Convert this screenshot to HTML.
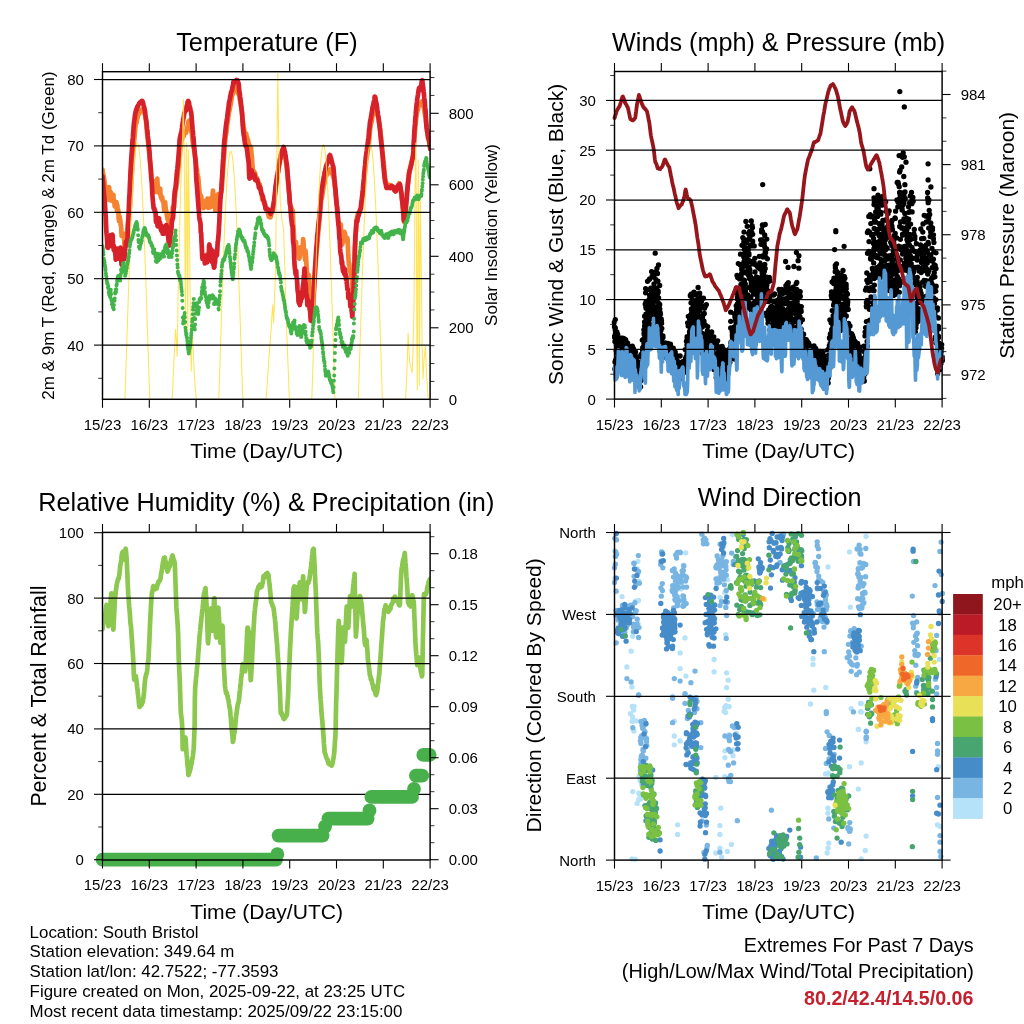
<!DOCTYPE html>
<html><head><meta charset="utf-8"><title>South Bristol - past 7 days</title>
<style>
html,body{margin:0;padding:0;background:#fff;}
body{width:1024px;height:1024px;overflow:hidden;font-family:"Liberation Sans",sans-serif;}
svg{display:block;will-change:transform;}
svg text{font-family:"Liberation Sans",sans-serif;}
</style></head><body>
<svg width="1024" height="1024" viewBox="0 0 1024 1024">
<rect width="1024" height="1024" fill="#fff"/>
<g id="p1">
<clipPath id="c1"><rect x="102.5" y="71.7" width="327.6" height="327.6"/></clipPath>
<g clip-path="url(#c1)">
<path d="M102.5,169.6 102.8,171.9 103.2,173.8 103.5,175.4 103.8,177.4 104.1,178.8 104.5,180.9 104.8,184.7 105.1,186.0 105.5,187.1 105.8,190.4 106.1,193.3 106.5,195.6 106.8,194.6 107.1,196.0 107.4,199.8 107.8,195.9 108.1,196.1 108.4,191.2 108.8,190.0 109.1,187.2 109.4,191.3 109.8,190.9 110.1,196.2 110.4,199.3 110.7,200.5 111.1,192.6 111.4,193.9 111.7,196.8 112.1,199.6 112.4,195.6 112.7,196.5 113.1,195.3 113.4,195.0 113.7,201.8 114.0,200.1 114.4,201.6 114.7,206.3 115.0,204.5 115.4,204.8 115.7,205.9 116.0,206.5 116.4,202.2 116.7,203.9 117.0,210.8 117.3,205.3 117.7,210.3 118.0,211.6 118.3,210.0 118.7,218.8 119.0,221.2 119.3,215.9 119.7,216.7 120.0,219.6 120.3,220.3 120.6,224.5 121.0,225.4 121.3,229.4 121.6,235.8 122.0,233.3 122.3,235.1 122.6,234.5 123.0,236.6 123.3,233.7 123.6,233.9 123.9,235.8 124.3,241.8 124.6,247.3 124.9,243.5 125.3,239.9 125.6,240.7 125.9,234.6 126.3,233.4 126.6,232.8 126.9,232.8 127.2,230.8 127.6,227.4 127.9,224.2 128.2,221.2 128.6,219.3 128.9,216.1 129.2,212.9 129.6,210.3 129.9,207.3 130.2,204.3 130.5,198.9 130.9,192.5 131.2,185.7 131.5,180.0 131.9,173.7 132.2,167.8 132.5,163.1 132.9,157.8 133.2,153.4 133.5,148.3 133.8,144.3 134.2,140.3 134.5,137.5 134.8,133.5 135.2,129.4 135.5,126.6 135.8,124.0 136.2,123.0 136.5,123.1 136.8,121.0 137.1,119.1 137.5,117.8 137.8,116.7 138.1,115.0 138.5,114.2 138.8,114.2 139.1,113.9 139.5,112.7 139.8,112.2 140.1,111.8 140.4,110.7 140.8,110.5 141.1,109.6 141.4,109.9 141.8,110.1 142.1,110.4 142.4,110.3 142.8,110.6 143.1,109.7 143.4,109.6 143.7,111.1 144.1,111.1 144.4,113.1 144.7,113.3 145.1,115.2 145.4,116.0 145.7,118.2 146.1,121.7 146.4,124.2 146.7,128.5 147.0,132.7 147.4,135.8 147.7,138.8 148.0,142.0 148.4,144.7 148.7,148.8 149.0,151.7 149.4,155.0 149.7,157.8 150.0,160.9 150.3,163.6 150.7,168.0 151.0,171.2 151.3,175.3 151.7,178.7 152.0,180.5 152.3,182.5 152.7,184.0 153.0,186.7 153.3,187.1 153.6,186.6 154.0,182.9 154.3,181.3 154.6,188.4 155.0,186.1 155.3,182.8 155.6,185.6 156.0,191.8 156.3,185.8 156.6,185.8 156.9,184.2 157.3,178.7 157.6,185.0 157.9,187.2 158.3,189.6 158.6,188.6 158.9,192.6 159.3,192.2 159.6,193.6 159.9,191.0 160.2,188.5 160.6,196.2 160.9,195.4 161.2,197.9 161.6,198.8 161.9,198.0 162.2,197.2 162.6,201.0 162.9,200.6 163.2,200.9 163.5,202.0 163.9,207.3 164.2,209.6 164.5,210.4 164.9,207.6 165.2,202.4 165.5,207.3 165.9,211.2 166.2,210.3 166.5,212.2 166.8,214.7 167.2,217.0 167.5,219.2 167.8,215.8 168.2,220.7 168.5,214.2 168.8,217.3 169.2,218.3 169.5,220.7 169.8,226.6 170.1,230.1 170.5,223.1 170.8,215.7 171.1,219.7 171.5,216.0 171.8,217.2 172.1,221.4 172.5,214.3 172.8,207.1 173.1,208.9 173.4,209.1 173.8,208.1 174.1,206.5 174.4,202.4 174.8,197.7 175.1,195.8 175.4,192.7 175.8,189.7 176.1,188.7 176.4,186.3 176.7,184.2 177.1,181.1 177.4,177.9 177.7,174.3 178.1,170.8 178.4,168.0 178.7,164.5 179.1,161.6 179.4,158.4 179.7,156.2 180.0,151.6 180.4,148.6 180.7,144.9 181.0,142.7 181.4,140.7 181.7,139.6 182.0,139.2 182.4,138.2 182.7,137.3 183.0,136.1 183.3,136.6 183.7,136.3 184.0,134.6 184.3,134.2 184.7,133.0 185.0,131.3 185.3,131.5 185.7,132.8 186.0,132.9 186.3,132.2 186.6,130.3 187.0,129.5 187.3,127.9 187.6,126.2 188.0,124.3 188.3,122.6 188.6,121.2 189.0,120.8 189.3,121.8 189.6,122.0 189.9,123.3 190.3,123.9 190.6,126.1 190.9,127.7 191.3,130.1 191.6,132.6 191.9,134.3 192.3,138.0 192.6,141.2 192.9,143.2 193.2,145.7 193.6,148.0 193.9,148.4 194.2,150.9 194.6,153.2 194.9,155.6 195.2,157.2 195.6,159.4 195.9,161.7 196.2,164.8 196.5,167.1 196.9,169.3 197.2,172.3 197.5,174.0 197.9,175.8 198.2,177.0 198.5,181.1 198.9,184.9 199.2,188.8 199.5,192.3 199.8,193.7 200.2,194.9 200.5,195.0 200.8,195.3 201.2,196.4 201.5,202.0 201.8,204.1 202.2,203.7 202.5,201.7 202.8,200.2 203.1,206.7 203.5,208.0 203.8,207.6 204.1,206.0 204.5,202.3 204.8,203.2 205.1,207.2 205.5,206.2 205.8,206.0 206.1,206.1 206.4,206.8 206.8,200.9 207.1,201.0 207.4,198.7 207.8,202.9 208.1,200.3 208.4,202.9 208.8,208.0 209.1,205.6 209.4,202.5 209.7,202.8 210.1,202.3 210.4,198.3 210.7,200.1 211.1,206.8 211.4,204.0 211.7,202.0 212.1,197.3 212.4,198.3 212.7,193.6 213.0,190.5 213.4,196.8 213.7,194.1 214.0,198.9 214.4,204.2 214.7,204.1 215.0,205.0 215.4,210.6 215.7,207.5 216.0,203.8 216.3,198.1 216.7,198.0 217.0,202.9 217.3,204.8 217.7,199.6 218.0,195.8 218.3,194.1 218.7,195.2 219.0,194.5 219.3,195.0 219.6,195.3 220.0,194.2 220.3,193.7 220.6,193.7 221.0,193.1 221.3,192.2 221.6,189.8 222.0,185.5 222.3,181.3 222.6,176.2 222.9,172.6 223.3,167.2 223.6,161.7 223.9,157.6 224.3,153.3 224.6,148.3 224.9,142.8 225.3,140.1 225.6,137.2 225.9,135.0 226.2,133.7 226.6,130.9 226.9,127.5 227.2,124.3 227.6,122.2 227.9,120.0 228.2,117.3 228.6,115.4 228.9,112.6 229.2,111.4 229.5,110.0 229.9,108.8 230.2,106.5 230.5,105.0 230.9,103.0 231.2,100.9 231.5,98.9 231.9,96.4 232.2,94.5 232.5,94.4 232.8,93.6 233.2,93.0 233.5,92.8 233.8,90.8 234.2,89.7 234.5,89.2 234.8,89.3 235.2,88.9 235.5,89.3 235.8,89.1 236.1,88.0 236.5,87.3 236.8,88.8 237.1,89.9 237.5,89.5 237.8,91.3 238.1,92.4 238.5,93.9 238.8,94.6 239.1,95.8 239.4,96.6 239.8,99.7 240.1,100.9 240.4,103.2 240.8,104.0 241.1,106.5 241.4,108.1 241.8,110.7 242.1,114.2 242.4,116.2 242.7,119.7 243.1,122.5 243.4,124.4 243.7,126.8 244.1,129.2 244.4,132.0 244.7,132.6 245.1,132.8 245.4,133.5 245.7,133.5 246.0,133.4 246.4,135.0 246.7,137.4 247.0,137.1 247.4,138.8 247.7,139.6 248.0,140.2 248.4,142.7 248.7,143.4 249.0,145.7 249.3,145.2 249.7,146.2 250.0,146.4 250.3,146.1 250.7,147.3 251.0,147.7 251.3,151.6 251.7,155.8 252.0,158.9 252.3,163.3 252.6,167.8 253.0,170.8 253.3,170.8 253.6,171.9 254.0,171.2 254.3,173.3 254.6,173.4 255.0,173.0 255.3,174.6 255.6,177.3 255.9,177.0 256.3,177.2 256.6,177.7 256.9,177.9 257.3,179.7 257.6,180.0 257.9,180.5 258.3,182.4 258.6,182.6 258.9,184.2 259.2,184.1 259.6,184.3 259.9,184.4 260.2,188.5 260.6,189.8 260.9,191.7 261.2,193.2 261.6,194.8 261.9,196.3 262.2,199.4 262.5,199.1 262.9,198.6 263.2,199.1 263.5,199.5 263.9,201.8 264.2,203.8 264.5,204.3 264.9,204.6 265.2,205.8 265.5,208.1 265.8,207.3 266.2,208.9 266.5,209.4 266.8,211.3 267.2,211.6 267.5,212.6 267.8,212.8 268.2,213.2 268.5,215.1 268.8,216.4 269.1,216.8 269.5,217.0 269.8,216.7 270.1,217.5 270.5,217.5 270.8,216.4 271.1,215.3 271.5,213.5 271.8,212.4 272.1,211.3 272.4,211.0 272.8,210.7 273.1,208.4 273.4,205.8 273.8,203.8 274.1,201.4 274.4,199.0 274.8,196.6 275.1,193.4 275.4,191.4 275.7,188.8 276.1,186.4 276.4,184.0 276.7,181.5 277.1,178.8 277.4,176.7 277.7,174.4 278.1,172.6 278.4,170.5 278.7,167.9 279.0,166.6 279.4,164.5 279.7,162.9 280.0,161.5 280.4,159.1 280.7,158.1 281.0,157.0 281.4,156.4 281.7,155.7 282.0,155.1 282.3,154.1 282.7,153.6 283.0,152.8 283.3,152.5 283.7,151.7 284.0,152.8 284.3,153.8 284.7,154.5 285.0,155.0 285.3,156.6 285.6,158.3 286.0,161.5 286.3,164.4 286.6,167.3 287.0,170.4 287.3,173.6 287.6,177.1 288.0,181.2 288.3,185.1 288.6,188.7 288.9,190.7 289.3,194.1 289.6,198.4 289.9,202.8 290.3,206.0 290.6,205.8 290.9,210.4 291.3,212.4 291.6,208.1 291.9,212.6 292.2,211.0 292.6,210.3 292.9,213.2 293.2,224.5 293.6,228.2 293.9,234.5 294.2,245.8 294.6,253.0 294.9,251.0 295.2,249.0 295.5,243.6 295.9,241.7 296.2,244.6 296.5,246.8 296.9,247.5 297.2,251.7 297.5,248.5 297.9,248.8 298.2,252.2 298.5,254.4 298.8,258.1 299.2,258.6 299.5,256.5 299.8,257.5 300.2,253.3 300.5,247.3 300.8,251.0 301.2,251.5 301.5,253.4 301.8,247.2 302.1,247.5 302.5,246.9 302.8,245.5 303.1,239.1 303.5,241.4 303.8,248.8 304.1,252.9 304.5,252.6 304.8,254.9 305.1,259.8 305.4,250.6 305.8,253.6 306.1,258.7 306.4,263.3 306.8,271.0 307.1,275.1 307.4,275.4 307.8,275.8 308.1,278.1 308.4,275.2 308.7,275.0 309.1,278.6 309.4,286.6 309.7,287.9 310.1,290.3 310.4,293.8 310.7,301.2 311.1,304.4 311.4,315.6 311.7,319.8 312.0,319.7 312.4,317.1 312.7,316.3 313.0,314.5 313.4,305.2 313.7,297.8 314.0,291.8 314.4,284.8 314.7,277.7 315.0,273.7 315.3,269.1 315.7,264.5 316.0,259.2 316.3,255.0 316.7,251.0 317.0,247.8 317.3,243.3 317.7,239.0 318.0,235.5 318.3,231.5 318.6,228.4 319.0,224.9 319.3,220.7 319.6,217.2 320.0,213.4 320.3,210.4 320.6,206.4 321.0,202.5 321.3,199.8 321.6,199.1 321.9,197.9 322.3,195.4 322.6,193.2 322.9,191.7 323.3,189.2 323.6,186.3 323.9,184.6 324.3,183.7 324.6,181.9 324.9,179.8 325.2,178.0 325.6,177.7 325.9,176.3 326.2,175.4 326.6,175.0 326.9,174.9 327.2,174.0 327.6,173.7 327.9,172.5 328.2,171.7 328.5,170.6 328.9,171.0 329.2,170.7 329.5,169.9 329.9,169.5 330.2,169.2 330.5,169.8 330.9,169.5 331.2,169.8 331.5,170.5 331.8,173.0 332.2,174.1 332.5,174.5 332.8,175.4 333.2,177.1 333.5,177.2 333.8,177.9 334.2,181.1 334.5,183.7 334.8,186.5 335.1,188.5 335.5,192.4 335.8,196.6 336.1,200.4 336.5,204.6 336.8,205.9 337.1,210.2 337.5,213.1 337.8,217.0 338.1,221.4 338.4,223.6 338.8,222.3 339.1,225.4 339.4,225.3 339.8,226.6 340.1,227.1 340.4,228.8 340.8,224.4 341.1,231.4 341.4,233.5 341.7,238.0 342.1,244.6 342.4,243.8 342.7,237.5 343.1,235.6 343.4,233.3 343.7,233.9 344.1,236.3 344.4,231.8 344.7,235.8 345.0,233.2 345.4,237.0 345.7,238.9 346.0,239.9 346.4,241.5 346.7,241.5 347.0,241.3 347.4,238.0 347.7,240.8 348.0,249.0 348.3,256.0 348.7,261.8 349.0,264.9 349.3,263.6 349.7,269.9 350.0,270.8 350.3,272.0 350.7,272.9 351.0,275.5 351.3,276.5 351.6,279.1 352.0,278.6 352.3,281.1 352.6,292.1 353.0,293.7 353.3,295.1 353.6,299.3 354.0,289.4 354.3,272.5 354.6,259.5 354.9,250.1 355.3,242.8 355.6,234.9 355.9,230.0 356.3,221.5 356.6,220.2 356.9,217.9 357.3,219.6 357.6,215.0 357.9,213.7 358.2,213.0 358.6,213.4 358.9,213.4 359.2,213.5 359.6,211.7 359.9,211.5 360.2,210.6 360.6,209.6 360.9,208.8 361.2,206.1 361.5,202.7 361.9,200.7 362.2,197.9 362.5,195.8 362.9,193.9 363.2,191.1 363.5,189.0 363.9,185.5 364.2,181.2 364.5,177.7 364.8,174.1 365.2,170.4 365.5,167.7 365.8,164.3 366.2,160.3 366.5,158.8 366.8,156.5 367.2,154.6 367.5,152.4 367.8,150.4 368.1,148.0 368.5,146.3 368.8,143.4 369.1,140.1 369.5,136.9 369.8,132.5 370.1,129.1 370.5,126.8 370.8,125.5 371.1,123.2 371.4,122.8 371.8,121.2 372.1,118.9 372.4,116.5 372.8,115.1 373.1,114.1 373.4,112.6 373.8,111.7 374.1,110.2 374.4,109.5 374.7,107.9 375.1,108.0 375.4,109.5 375.7,111.9 376.1,111.7 376.4,112.1 376.7,112.4 377.1,114.0 377.4,114.6 377.7,115.8 378.0,117.2 378.4,118.1 378.7,119.5 379.0,121.9 379.4,123.2 379.7,125.2 380.0,127.8 380.4,131.1 380.7,134.5 381.0,136.9 381.3,140.2 381.7,144.3 382.0,148.0 382.3,151.2 382.7,153.9 383.0,157.6 383.3,160.5 383.7,163.0 384.0,165.9 384.3,170.2 384.6,173.5 385.0,177.4 385.3,179.4 385.6,181.3 386.0,182.1 386.3,183.2 386.6,186.0 387.0,187.0 387.3,186.4 387.6,186.1 387.9,186.1 388.3,186.7 388.6,186.1 388.9,184.9 389.3,184.8 389.6,185.0 389.9,185.2 390.3,186.1 390.6,186.2 390.9,186.6 391.2,185.8 391.6,186.4 391.9,187.6 392.2,187.8 392.6,187.6 392.9,187.5 393.2,188.4 393.6,188.1 393.9,188.4 394.2,189.2 394.5,190.1 394.9,190.3 395.2,191.0 395.5,191.3 395.9,191.1 396.2,190.3 396.5,188.9 396.9,188.3 397.2,188.3 397.5,187.0 397.8,186.3 398.2,186.2 398.5,184.9 398.8,184.4 399.2,183.2 399.5,183.5 399.8,184.4 400.2,187.3 400.5,188.6 400.8,190.7 401.1,192.4 401.5,194.2 401.8,198.2 402.1,200.3 402.5,204.1 402.8,207.1 403.1,211.1 403.5,216.1 403.8,220.7 404.1,222.0 404.4,219.7 404.8,216.9 405.1,214.4 405.4,211.2 405.8,206.6 406.1,203.4 406.4,199.9 406.8,196.0 407.1,192.0 407.4,188.9 407.7,185.1 408.1,181.3 408.4,177.9 408.7,175.4 409.1,172.0 409.4,171.5 409.7,169.7 410.1,167.7 410.4,167.3 410.7,165.9 411.0,163.8 411.4,162.4 411.7,161.8 412.0,161.2 412.4,159.5 412.7,158.3 413.0,157.3 413.4,152.9 413.7,148.6 414.0,144.1 414.3,139.3 414.7,134.7 415.0,130.4 415.3,127.0 415.7,123.4 416.0,119.9 416.3,117.4 416.7,114.2 417.0,112.7 417.3,111.8 417.6,110.3 418.0,109.8 418.3,107.3 418.6,105.9 419.0,104.2 419.3,105.1 419.6,105.7 420.0,104.0 420.3,103.2 420.6,103.5 420.9,103.2 421.3,102.8 421.6,101.9 421.9,101.3 422.3,101.2 422.6,102.6 422.9,104.7 423.3,104.7 423.6,106.8 423.9,107.9 424.2,110.6 424.6,112.4 424.9,113.8 425.2,116.2 425.6,117.7 425.9,120.2 426.2,122.3 426.6,125.5 426.9,128.5 427.2,131.4 427.5,133.3 427.9,136.0 428.2,137.6 428.5,138.8 428.9,140.4 429.2,142.2 429.5,143.1 429.9,144.7 430.2,147.0" fill="none" stroke="#f58231" stroke-width="4.7" stroke-linejoin="round" stroke-linecap="round" />
<path d="M102.5,176.3 102.8,179.7 103.2,184.4 103.5,188.1 103.8,192.3 104.1,195.5 104.5,199.5 104.8,203.6 105.1,206.6 105.5,213.8 105.8,217.8 106.1,226.5 106.5,233.2 106.8,235.8 107.1,240.0 107.4,247.2 107.8,247.7 108.1,247.8 108.4,246.8 108.8,240.5 109.1,241.8 109.4,235.4 109.8,240.4 110.1,240.3 110.4,240.3 110.7,242.3 111.1,245.8 111.4,242.3 111.7,238.5 112.1,238.3 112.4,234.6 112.7,235.7 113.1,246.3 113.4,244.7 113.7,249.9 114.0,246.5 114.4,250.2 114.7,250.9 115.0,252.0 115.4,254.0 115.7,259.7 116.0,258.0 116.4,256.1 116.7,250.2 117.0,251.2 117.3,248.5 117.7,251.8 118.0,251.7 118.3,258.6 118.7,250.1 119.0,250.0 119.3,254.6 119.7,253.7 120.0,251.5 120.3,251.6 120.6,247.6 121.0,250.2 121.3,261.2 121.6,264.9 122.0,259.4 122.3,256.2 122.6,255.5 123.0,260.4 123.3,257.2 123.6,253.9 123.9,257.1 124.3,259.3 124.6,256.4 124.9,251.9 125.3,247.6 125.6,246.9 125.9,241.9 126.3,243.6 126.6,241.5 126.9,241.0 127.2,241.4 127.6,237.2 127.9,228.7 128.2,221.8 128.6,215.0 128.9,206.9 129.2,199.3 129.6,192.6 129.9,185.1 130.2,179.7 130.5,171.6 130.9,165.3 131.2,160.3 131.5,155.2 131.9,150.3 132.2,145.4 132.5,140.7 132.9,137.5 133.2,132.3 133.5,128.5 133.8,124.3 134.2,121.4 134.5,119.4 134.8,116.6 135.2,114.1 135.5,112.5 135.8,111.0 136.2,109.5 136.5,109.7 136.8,109.8 137.1,107.4 137.5,106.3 137.8,106.6 138.1,105.5 138.5,104.9 138.8,104.3 139.1,103.5 139.5,103.2 139.8,102.6 140.1,103.0 140.4,102.5 140.8,102.1 141.1,101.3 141.4,101.4 141.8,100.9 142.1,100.9 142.4,101.6 142.8,101.7 143.1,103.0 143.4,104.5 143.7,105.8 144.1,107.0 144.4,108.1 144.7,109.9 145.1,111.5 145.4,115.0 145.7,117.5 146.1,119.6 146.4,121.9 146.7,124.7 147.0,128.2 147.4,131.2 147.7,135.4 148.0,138.2 148.4,140.4 148.7,144.0 149.0,146.8 149.4,151.0 149.7,155.7 150.0,160.3 150.3,163.9 150.7,167.9 151.0,173.6 151.3,177.9 151.7,181.7 152.0,186.7 152.3,193.5 152.7,198.7 153.0,201.9 153.3,205.0 153.6,208.2 154.0,208.7 154.3,208.2 154.6,211.0 155.0,210.1 155.3,211.7 155.6,213.7 156.0,222.0 156.3,219.6 156.6,220.1 156.9,220.7 157.3,223.2 157.6,226.4 157.9,224.8 158.3,222.7 158.6,218.9 158.9,218.1 159.3,221.8 159.6,223.4 159.9,222.1 160.2,223.6 160.6,226.3 160.9,230.0 161.2,230.1 161.6,231.1 161.9,227.3 162.2,226.3 162.6,233.6 162.9,228.6 163.2,230.1 163.5,233.0 163.9,233.7 164.2,231.8 164.5,232.2 164.9,232.4 165.2,232.1 165.5,226.6 165.9,227.1 166.2,225.2 166.5,224.9 166.8,227.7 167.2,231.1 167.5,234.6 167.8,233.5 168.2,236.8 168.5,240.2 168.8,242.8 169.2,245.7 169.5,243.7 169.8,241.7 170.1,241.6 170.5,234.9 170.8,233.9 171.1,230.7 171.5,228.4 171.8,222.3 172.1,220.0 172.5,218.9 172.8,218.7 173.1,217.4 173.4,211.9 173.8,206.3 174.1,199.9 174.4,195.8 174.8,191.0 175.1,189.4 175.4,188.5 175.8,185.4 176.1,181.7 176.4,178.5 176.7,174.4 177.1,170.7 177.4,168.6 177.7,165.6 178.1,161.3 178.4,157.4 178.7,153.6 179.1,148.7 179.4,143.7 179.7,139.1 180.0,137.4 180.4,135.8 180.7,134.5 181.0,133.1 181.4,131.5 181.7,129.9 182.0,127.9 182.4,124.6 182.7,122.6 183.0,120.9 183.3,118.8 183.7,117.5 184.0,115.4 184.3,113.0 184.7,112.2 185.0,111.8 185.3,111.0 185.7,110.7 186.0,110.5 186.3,109.7 186.6,106.7 187.0,105.1 187.3,103.7 187.6,102.1 188.0,101.2 188.3,100.9 188.6,101.8 189.0,102.6 189.3,105.5 189.6,106.5 189.9,107.1 190.3,108.7 190.6,110.3 190.9,111.2 191.3,113.1 191.6,116.9 191.9,121.0 192.3,125.5 192.6,129.3 192.9,132.2 193.2,135.8 193.6,139.0 193.9,144.1 194.2,147.0 194.6,151.3 194.9,154.5 195.2,157.8 195.6,162.5 195.9,169.4 196.2,176.5 196.5,181.4 196.9,185.3 197.2,189.4 197.5,194.2 197.9,199.1 198.2,203.6 198.5,207.0 198.9,211.3 199.2,216.4 199.5,219.2 199.8,220.0 200.2,222.3 200.5,223.6 200.8,232.4 201.2,233.3 201.5,241.5 201.8,246.8 202.2,255.9 202.5,258.9 202.8,257.3 203.1,256.0 203.5,256.3 203.8,257.2 204.1,255.5 204.5,256.4 204.8,263.4 205.1,256.4 205.5,258.6 205.8,256.1 206.1,258.6 206.4,262.1 206.8,260.6 207.1,262.4 207.4,254.7 207.8,258.6 208.1,255.1 208.4,256.7 208.8,256.2 209.1,245.8 209.4,244.5 209.7,247.2 210.1,254.2 210.4,254.9 210.7,255.3 211.1,249.2 211.4,255.3 211.7,261.7 212.1,260.0 212.4,257.8 212.7,250.8 213.0,254.9 213.4,264.9 213.7,265.3 214.0,267.7 214.4,266.9 214.7,260.2 215.0,263.2 215.4,255.7 215.7,253.6 216.0,253.6 216.3,255.8 216.7,255.6 217.0,255.1 217.3,249.2 217.7,241.9 218.0,241.0 218.3,237.5 218.7,232.8 219.0,226.5 219.3,222.5 219.6,214.5 220.0,207.6 220.3,200.7 220.6,197.3 221.0,193.2 221.3,190.4 221.6,183.6 222.0,178.3 222.3,173.5 222.6,167.8 222.9,162.4 223.3,158.2 223.6,152.6 223.9,146.6 224.3,141.2 224.6,138.6 224.9,135.9 225.3,132.1 225.6,128.8 225.9,126.4 226.2,124.0 226.6,121.3 226.9,119.3 227.2,117.3 227.6,113.7 227.9,111.3 228.2,109.3 228.6,106.7 228.9,103.4 229.2,101.7 229.5,100.5 229.9,99.6 230.2,96.2 230.5,96.1 230.9,93.2 231.2,91.9 231.5,91.4 231.9,90.5 232.2,89.0 232.5,86.9 232.8,86.0 233.2,84.2 233.5,81.5 233.8,82.7 234.2,82.4 234.5,82.8 234.8,81.3 235.2,81.5 235.5,81.5 235.8,81.4 236.1,80.3 236.5,80.0 236.8,80.6 237.1,80.1 237.5,80.1 237.8,81.4 238.1,82.0 238.5,83.1 238.8,84.9 239.1,88.6 239.4,91.7 239.8,93.7 240.1,96.6 240.4,98.6 240.8,101.6 241.1,105.4 241.4,107.8 241.8,110.9 242.1,114.1 242.4,119.1 242.7,125.0 243.1,129.1 243.4,132.3 243.7,134.6 244.1,136.7 244.4,138.9 244.7,141.5 245.1,144.3 245.4,145.2 245.7,145.1 246.0,146.5 246.4,146.8 246.7,148.3 247.0,149.8 247.4,152.8 247.7,156.1 248.0,158.1 248.4,160.5 248.7,163.1 249.0,171.0 249.3,177.8 249.7,178.5 250.0,176.1 250.3,174.8 250.7,173.7 251.0,170.6 251.3,170.1 251.7,170.2 252.0,172.0 252.3,174.5 252.6,175.7 253.0,175.5 253.3,177.3 253.6,175.8 254.0,177.8 254.3,177.2 254.6,174.7 255.0,178.4 255.3,180.2 255.6,179.1 255.9,179.6 256.3,179.8 256.6,180.5 256.9,179.6 257.3,179.8 257.6,181.3 257.9,182.4 258.3,184.3 258.6,184.9 258.9,187.7 259.2,187.0 259.6,187.9 259.9,186.9 260.2,187.1 260.6,190.1 260.9,190.4 261.2,192.4 261.6,193.7 261.9,193.9 262.2,195.0 262.5,195.9 262.9,196.8 263.2,198.9 263.5,200.6 263.9,201.1 264.2,201.5 264.5,203.0 264.9,204.1 265.2,206.0 265.5,208.4 265.8,209.0 266.2,209.0 266.5,209.2 266.8,209.0 267.2,208.9 267.5,208.9 267.8,209.4 268.2,209.7 268.5,210.7 268.8,210.8 269.1,211.1 269.5,210.8 269.8,212.4 270.1,213.0 270.5,213.7 270.8,213.0 271.1,212.7 271.5,211.2 271.8,210.4 272.1,210.8 272.4,208.6 272.8,208.1 273.1,206.8 273.4,204.5 273.8,202.5 274.1,200.8 274.4,197.9 274.8,195.2 275.1,191.7 275.4,188.5 275.7,185.5 276.1,182.9 276.4,180.8 276.7,178.9 277.1,175.8 277.4,175.0 277.7,173.4 278.1,171.3 278.4,168.6 278.7,166.3 279.0,164.8 279.4,163.1 279.7,160.1 280.0,158.9 280.4,158.8 280.7,155.5 281.0,154.3 281.4,153.3 281.7,152.1 282.0,151.9 282.3,150.0 282.7,149.2 283.0,149.1 283.3,147.8 283.7,147.0 284.0,148.4 284.3,149.3 284.7,151.6 285.0,152.1 285.3,154.2 285.6,156.0 286.0,159.1 286.3,161.6 286.6,162.6 287.0,165.8 287.3,169.4 287.6,173.4 288.0,178.6 288.3,182.0 288.6,185.5 288.9,190.6 289.3,194.4 289.6,199.7 289.9,203.7 290.3,205.9 290.6,208.8 290.9,214.1 291.3,218.7 291.6,221.2 291.9,223.8 292.2,225.6 292.6,226.2 292.9,237.0 293.2,242.2 293.6,244.1 293.9,249.0 294.2,258.3 294.6,265.3 294.9,268.3 295.2,269.9 295.5,274.2 295.9,271.9 296.2,270.8 296.5,277.3 296.9,278.5 297.2,282.7 297.5,289.2 297.9,292.6 298.2,293.4 298.5,301.1 298.8,302.8 299.2,301.1 299.5,303.7 299.8,305.0 300.2,301.4 300.5,301.8 300.8,301.5 301.2,295.6 301.5,296.9 301.8,297.7 302.1,298.0 302.5,290.3 302.8,287.2 303.1,284.9 303.5,282.7 303.8,276.1 304.1,275.8 304.5,268.7 304.8,271.9 305.1,281.1 305.4,282.6 305.8,285.2 306.1,293.1 306.4,294.3 306.8,295.9 307.1,299.3 307.4,305.2 307.8,299.8 308.1,300.5 308.4,301.0 308.7,301.4 309.1,302.8 309.4,304.4 309.7,309.7 310.1,310.7 310.4,315.6 310.7,320.6 311.1,320.8 311.4,319.6 311.7,321.1 312.0,318.5 312.4,314.2 312.7,310.7 313.0,303.2 313.4,297.6 313.7,292.1 314.0,285.1 314.4,278.7 314.7,274.5 315.0,269.1 315.3,264.3 315.7,258.7 316.0,253.4 316.3,248.6 316.7,245.4 317.0,240.3 317.3,235.4 317.7,231.9 318.0,228.6 318.3,225.8 318.6,222.6 319.0,220.5 319.3,217.0 319.6,213.6 320.0,209.4 320.3,205.5 320.6,200.3 321.0,196.3 321.3,194.0 321.6,191.6 321.9,188.1 322.3,186.8 322.6,184.4 322.9,182.1 323.3,179.9 323.6,178.1 323.9,176.9 324.3,174.7 324.6,172.8 324.9,171.8 325.2,170.5 325.6,168.9 325.9,167.1 326.2,165.7 326.6,164.8 326.9,164.7 327.2,162.9 327.6,162.9 327.9,162.2 328.2,160.7 328.5,160.1 328.9,158.4 329.2,156.8 329.5,155.6 329.9,155.1 330.2,155.4 330.5,156.7 330.9,158.4 331.2,158.7 331.5,160.8 331.8,161.5 332.2,162.9 332.5,164.4 332.8,165.4 333.2,166.3 333.5,168.2 333.8,172.0 334.2,176.1 334.5,180.0 334.8,182.8 335.1,186.0 335.5,189.7 335.8,194.3 336.1,196.9 336.5,201.7 336.8,204.8 337.1,207.1 337.5,210.9 337.8,215.8 338.1,219.4 338.4,224.5 338.8,227.4 339.1,232.9 339.4,238.3 339.8,240.3 340.1,248.4 340.4,252.0 340.8,254.7 341.1,254.9 341.4,257.8 341.7,263.6 342.1,261.5 342.4,265.8 342.7,268.9 343.1,271.5 343.4,267.0 343.7,269.8 344.1,273.6 344.4,272.7 344.7,274.7 345.0,269.4 345.4,274.2 345.7,274.4 346.0,279.7 346.4,276.9 346.7,282.3 347.0,284.4 347.4,289.4 347.7,288.9 348.0,289.7 348.3,298.0 348.7,296.1 349.0,295.1 349.3,295.8 349.7,294.5 350.0,300.0 350.3,306.3 350.7,304.6 351.0,300.6 351.3,306.1 351.6,310.4 352.0,313.3 352.3,316.8 352.6,311.2 353.0,305.3 353.3,296.3 353.6,288.0 354.0,280.2 354.3,266.3 354.6,261.1 354.9,248.1 355.3,238.2 355.6,233.4 355.9,230.5 356.3,225.7 356.6,221.0 356.9,220.5 357.3,221.4 357.6,218.9 357.9,216.6 358.2,216.8 358.6,215.7 358.9,213.8 359.2,212.6 359.6,211.1 359.9,210.4 360.2,209.4 360.6,209.1 360.9,207.7 361.2,203.6 361.5,201.0 361.9,198.5 362.2,195.7 362.5,193.1 362.9,189.2 363.2,185.2 363.5,182.5 363.9,178.5 364.2,173.9 364.5,171.6 364.8,168.0 365.2,164.7 365.5,160.7 365.8,157.2 366.2,154.5 366.5,152.3 366.8,150.6 367.2,147.1 367.5,145.6 367.8,142.8 368.1,140.1 368.5,137.8 368.8,134.4 369.1,130.0 369.5,127.9 369.8,123.8 370.1,121.5 370.5,119.7 370.8,118.6 371.1,116.2 371.4,114.8 371.8,112.2 372.1,110.8 372.4,108.2 372.8,106.2 373.1,105.6 373.4,103.8 373.8,101.9 374.1,101.2 374.4,99.3 374.7,96.6 375.1,96.9 375.4,97.6 375.7,99.9 376.1,102.1 376.4,103.1 376.7,104.7 377.1,107.4 377.4,110.0 377.7,112.1 378.0,115.1 378.4,116.5 378.7,119.2 379.0,121.9 379.4,124.6 379.7,127.7 380.0,130.0 380.4,133.9 380.7,137.3 381.0,140.3 381.3,143.0 381.7,145.9 382.0,149.8 382.3,152.8 382.7,156.5 383.0,160.7 383.3,164.7 383.7,168.8 384.0,171.7 384.3,174.1 384.6,178.0 385.0,180.7 385.3,182.5 385.6,183.6 386.0,185.4 386.3,187.0 386.6,187.9 387.0,187.8 387.3,187.7 387.6,187.5 387.9,187.4 388.3,187.7 388.6,187.1 388.9,187.9 389.3,187.5 389.6,187.8 389.9,187.4 390.3,187.0 390.6,188.0 390.9,187.4 391.2,186.4 391.6,185.9 391.9,185.8 392.2,187.2 392.6,187.1 392.9,187.5 393.2,186.7 393.6,187.5 393.9,188.5 394.2,190.0 394.5,189.9 394.9,190.7 395.2,191.3 395.5,191.1 395.9,190.9 396.2,190.0 396.5,188.0 396.9,188.0 397.2,187.8 397.5,187.0 397.8,185.6 398.2,186.1 398.5,185.6 398.8,185.5 399.2,185.6 399.5,184.3 399.8,184.2 400.2,185.7 400.5,187.5 400.8,189.3 401.1,191.2 401.5,193.9 401.8,197.1 402.1,200.1 402.5,203.1 402.8,206.6 403.1,209.3 403.5,214.4 403.8,219.7 404.1,220.7 404.4,218.2 404.8,215.3 405.1,214.0 405.4,212.1 405.8,208.8 406.1,204.5 406.4,201.7 406.8,197.5 407.1,193.1 407.4,189.3 407.7,185.9 408.1,183.2 408.4,179.5 408.7,177.2 409.1,173.7 409.4,172.5 409.7,170.2 410.1,169.9 410.4,168.1 410.7,166.5 411.0,165.6 411.4,164.8 411.7,162.4 412.0,160.8 412.4,158.5 412.7,157.5 413.0,156.2 413.4,150.9 413.7,144.6 414.0,138.6 414.3,132.4 414.7,127.0 415.0,123.7 415.3,118.5 415.7,114.7 416.0,110.6 416.3,107.1 416.7,103.8 417.0,101.5 417.3,98.6 417.6,96.9 418.0,94.6 418.3,92.2 418.6,90.1 419.0,88.1 419.3,87.6 419.6,88.5 420.0,89.1 420.3,89.4 420.6,89.9 420.9,88.2 421.3,85.0 421.6,82.2 421.9,80.9 422.3,80.2 422.6,82.8 422.9,85.2 423.3,88.2 423.6,91.3 423.9,93.8 424.2,97.5 424.6,100.3 424.9,103.2 425.2,107.5 425.6,110.9 425.9,117.1 426.2,123.6 426.6,127.8 426.9,129.5 427.2,131.6 427.5,133.0 427.9,136.2 428.2,138.0 428.5,138.5 428.9,139.8 429.2,141.6 429.5,143.1 429.9,145.9 430.2,148.9" fill="none" stroke="#d6202a" stroke-width="4.7" stroke-linejoin="round" stroke-linecap="round" />
<path d="M102.5,399.3 124.9,399.3 125.3,387.7 125.7,375.4 126.1,362.8 126.6,350.0 127.0,337.3 127.4,324.6 127.8,312.0 128.2,299.6 128.6,287.4 129.1,275.5 129.5,263.9 129.9,252.6 130.3,241.7 130.7,231.2 131.1,221.2 131.5,211.6 132.0,202.6 132.4,194.1 132.8,186.2 133.2,178.9 133.6,172.2 134.0,166.2 134.4,160.8 134.9,156.2 135.3,152.2 135.7,148.9 136.1,146.3 136.5,144.5 136.9,143.4 137.4,143.0 137.8,143.4 138.2,144.5 138.6,146.3 139.0,148.9 139.4,152.2 139.8,156.2 140.3,160.8 140.7,166.2 141.1,172.2 141.5,178.9 141.9,186.2 142.3,194.1 142.7,202.6 143.2,211.6 143.6,221.2 144.0,231.2 144.4,241.7 144.8,252.6 145.2,263.9 145.7,275.5 146.1,287.4 146.5,299.6 146.9,312.0 147.3,324.6 147.7,337.3 148.1,350.0 148.6,362.8 149.0,375.4 149.4,387.7 149.8,399.3 172.2,399.3 173.9,362.8 175.5,329.6 176.4,340.0 177.2,356.2 178.0,300.0 179.0,255.0 180.0,215.0 181.0,180.0 182.0,150.0 182.6,136.0 183.0,115.0 183.4,99.6 183.8,125.0 184.2,150.0 184.6,200.0 185.0,260.0 185.4,330.0 185.8,250.0 186.2,160.0 186.6,143.0 187.0,180.0 187.4,290.0 187.8,330.0 188.2,200.0 188.6,150.0 189.0,190.0 189.6,240.0 190.1,290.0 190.5,320.0 190.9,350.0 191.3,371.0 191.8,340.0 192.4,335.0 193.0,346.0 193.8,365.0 194.6,379.0 195.5,390.0 196.3,399.3 218.7,399.3 219.1,388.1 219.5,376.1 219.9,363.9 220.3,351.6 220.7,339.3 221.1,327.0 221.5,314.9 221.9,302.9 222.3,291.1 222.7,279.5 223.1,268.3 223.5,257.4 223.9,246.8 224.3,236.7 224.7,227.0 225.1,217.7 225.5,209.0 225.9,200.8 226.3,193.1 226.7,186.1 227.1,179.6 227.5,173.8 227.9,168.6 228.3,164.0 228.7,160.2 229.1,157.0 229.5,154.5 229.9,152.7 230.3,151.7 230.8,151.3 231.2,151.7 231.6,152.7 232.0,154.5 232.4,157.0 232.8,160.2 233.2,164.0 233.6,168.6 234.0,173.8 234.4,179.6 234.8,186.1 235.2,193.1 235.6,200.8 236.0,209.0 236.4,217.7 236.8,227.0 237.2,236.7 237.6,246.8 238.0,257.4 238.4,268.3 238.8,279.5 239.2,291.1 239.6,302.9 240.0,314.9 240.4,327.0 240.8,339.3 241.2,351.6 241.6,363.9 242.0,376.1 242.4,388.1 242.8,399.3 266.2,399.3 268.0,372.0 269.5,350.0 271.1,329.6 272.0,315.0 272.8,304.7 273.2,315.0 273.6,323.0 274.4,300.0 275.3,279.8 275.8,245.0 276.1,219.4 276.5,185.0 276.9,153.0 277.3,110.0 277.8,73.3 278.2,105.0 278.6,136.4 279.4,169.6 280.3,202.8 281.9,219.4 283.6,230.0 284.8,268.0 286.1,313.0 287.5,352.0 289.4,399.3 311.8,399.3 312.2,387.8 312.6,375.5 313.0,363.0 313.3,350.4 313.7,337.7 314.1,325.1 314.5,312.6 314.9,300.3 315.3,288.2 315.7,276.3 316.1,264.8 316.4,253.6 316.8,242.7 317.2,232.3 317.6,222.4 318.0,212.9 318.4,203.9 318.8,195.5 319.1,187.6 319.5,180.4 319.9,173.8 320.3,167.8 320.7,162.4 321.1,157.8 321.5,153.8 321.9,150.5 322.2,148.0 322.6,146.2 323.0,145.1 323.4,144.7 323.8,145.1 324.2,146.2 324.6,148.0 324.9,150.5 325.3,153.8 325.7,157.8 326.1,162.4 326.5,167.8 326.9,173.8 327.3,180.4 327.7,187.6 328.0,195.5 328.4,203.9 328.8,212.9 329.2,222.4 329.6,232.3 330.0,242.7 330.4,253.6 330.7,264.8 331.1,276.3 331.5,288.2 331.9,300.3 332.3,312.6 332.7,325.1 333.1,337.7 333.5,350.4 333.8,363.0 334.2,375.5 334.6,387.8 335.0,399.3 358.3,399.3 358.7,387.8 359.1,375.5 359.5,363.0 359.9,350.4 360.3,337.7 360.7,325.1 361.1,312.6 361.5,300.3 361.9,288.2 362.3,276.3 362.7,264.8 363.1,253.6 363.5,242.7 363.9,232.3 364.3,222.4 364.7,212.9 365.1,203.9 365.5,195.5 365.9,187.6 366.3,180.4 366.7,173.8 367.1,167.8 367.5,162.4 367.9,157.8 368.3,153.8 368.7,150.5 369.1,148.0 369.5,146.2 369.9,145.1 370.4,144.7 370.8,145.1 371.2,146.2 371.6,148.0 372.0,150.5 372.4,153.8 372.8,157.8 373.2,162.4 373.6,167.8 374.0,173.8 374.4,180.4 374.8,187.6 375.2,195.5 375.6,203.9 376.0,212.9 376.4,222.4 376.8,232.3 377.2,242.7 377.6,253.6 378.0,264.8 378.4,276.3 378.8,288.2 379.2,300.3 379.6,312.6 380.0,325.1 380.4,337.7 380.8,350.4 381.2,363.0 381.6,375.5 382.0,387.8 382.4,399.3 405.6,399.3 407.0,370.0 408.1,333.0 409.0,350.0 409.8,362.8 411.0,368.0 412.2,372.8 413.0,350.0 413.9,313.0 414.7,230.0 415.3,170.0 415.8,143.0 416.3,200.0 416.8,330.0 417.3,390.0 417.8,250.0 418.3,160.0 418.8,230.0 419.3,385.0 419.8,300.0 420.3,190.0 420.8,240.0 421.4,280.0 422.0,340.0 423.0,379.0 424.0,360.0 425.5,346.0 426.5,375.0 428.0,396.0 428.4,399.3 430.1,399.3" fill="none" stroke="#ffe045" stroke-width="1.05" stroke-linejoin="round" stroke-linecap="round" stroke-opacity="0.9"/>
<path d="M102.5,246.2h0M102.8,248.3h0M103.0,249.4h0M103.3,252.0h0M103.5,254.4h0M103.8,258.7h0M104.1,260.5h0M104.3,260.7h0M104.6,262.5h0M104.8,265.1h0M105.1,266.2h0M105.4,267.9h0M105.6,270.2h0M105.9,273.4h0M106.1,275.6h0M106.4,276.6h0M106.7,280.5h0M106.9,281.8h0M107.2,283.4h0M107.4,283.3h0M107.7,284.1h0M108.0,287.6h0M108.2,286.3h0M108.5,288.7h0M108.7,292.4h0M109.0,293.4h0M109.3,294.8h0M109.5,292.4h0M109.8,295.2h0M110.0,296.9h0M110.3,296.3h0M110.6,291.8h0M110.8,289.7h0M111.1,294.0h0M111.3,299.2h0M111.6,300.7h0M111.9,304.2h0M112.1,303.5h0M112.4,304.1h0M112.6,305.3h0M112.9,307.5h0M113.2,305.6h0M113.4,308.0h0M113.7,309.2h0M113.9,304.9h0M114.2,300.8h0M114.5,300.8h0M114.7,298.5h0M115.0,292.8h0M115.2,293.6h0M115.5,292.3h0M115.8,289.6h0M116.0,292.1h0M116.3,289.6h0M116.5,285.4h0M116.8,284.2h0M117.1,281.0h0M117.3,278.9h0M117.6,279.3h0M117.8,277.5h0M118.1,276.1h0M118.4,279.1h0M118.6,279.9h0M118.9,280.2h0M119.1,279.8h0M119.4,279.2h0M119.7,280.5h0M119.9,278.5h0M120.2,280.5h0M120.4,276.2h0M120.7,274.2h0M121.0,270.3h0M121.2,269.3h0M121.5,270.1h0M121.7,272.5h0M122.0,270.0h0M122.3,269.3h0M122.5,267.8h0M122.8,265.9h0M123.0,263.3h0M123.3,264.1h0M123.6,263.1h0M123.8,266.3h0M124.1,269.2h0M124.3,270.5h0M124.6,271.4h0M124.9,271.9h0M125.1,275.7h0M125.4,272.3h0M125.6,273.9h0M125.9,273.2h0M126.2,270.9h0M126.4,267.8h0M126.7,267.8h0M126.9,268.1h0M127.2,265.0h0M127.5,263.0h0M127.7,262.3h0M128.0,260.7h0M128.2,260.5h0M128.5,258.0h0M128.8,256.6h0M129.0,253.7h0M129.3,253.3h0M129.5,250.2h0M129.8,246.2h0M130.1,244.3h0M130.3,242.3h0M130.6,241.9h0M130.8,240.0h0M131.1,239.2h0M131.4,239.0h0M131.6,239.4h0M131.9,238.2h0M132.1,238.1h0M132.4,237.4h0M132.7,236.0h0M132.9,235.1h0M133.2,234.2h0M133.4,232.3h0M133.7,232.3h0M134.0,229.9h0M134.2,229.9h0M134.5,229.5h0M134.7,228.1h0M135.0,226.3h0M135.3,225.3h0M135.5,224.8h0M135.8,224.4h0M136.0,223.6h0M136.3,223.3h0M136.6,221.9h0M136.8,223.7h0M137.1,224.1h0M137.3,226.6h0M137.6,228.4h0M137.9,229.8h0M138.1,235.2h0M138.4,240.0h0M138.6,242.0h0M138.9,246.8h0M139.2,247.4h0M139.4,247.7h0M139.7,248.7h0M139.9,247.0h0M140.2,245.8h0M140.5,244.5h0M140.7,243.6h0M141.0,243.0h0M141.2,242.8h0M141.5,240.6h0M141.8,240.4h0M142.0,238.0h0M142.3,236.8h0M142.5,236.3h0M142.8,235.2h0M143.1,232.8h0M143.3,231.2h0M143.6,230.2h0M143.8,229.7h0M144.1,230.0h0M144.4,228.3h0M144.6,228.1h0M144.9,228.2h0M145.1,229.2h0M145.4,230.0h0M145.7,231.6h0M145.9,232.2h0M146.2,233.1h0M146.4,233.7h0M146.7,235.4h0M147.0,234.0h0M147.2,235.6h0M147.5,235.7h0M147.7,236.1h0M148.0,235.9h0M148.3,235.3h0M148.5,236.1h0M148.8,236.7h0M149.0,238.3h0M149.3,238.1h0M149.6,240.5h0M149.8,241.5h0M150.1,242.2h0M150.3,242.4h0M150.6,242.8h0M150.9,242.9h0M151.1,243.6h0M151.4,244.7h0M151.6,245.6h0M151.9,245.2h0M152.2,246.1h0M152.4,246.4h0M152.7,247.9h0M152.9,251.4h0M153.2,252.9h0M153.5,253.1h0M153.7,251.4h0M154.0,250.4h0M154.2,249.2h0M154.5,252.3h0M154.8,252.4h0M155.0,254.3h0M155.3,254.9h0M155.5,256.9h0M155.8,261.0h0M156.1,260.7h0M156.3,261.4h0M156.6,260.5h0M156.8,262.1h0M157.1,259.8h0M157.4,257.8h0M157.6,255.6h0M157.9,253.8h0M158.1,255.5h0M158.4,260.5h0M158.7,257.9h0M158.9,259.3h0M159.2,259.2h0M159.4,256.7h0M159.7,256.2h0M160.0,255.8h0M160.2,254.6h0M160.5,258.3h0M160.7,254.3h0M161.0,255.2h0M161.3,255.7h0M161.5,254.5h0M161.8,254.7h0M162.0,256.2h0M162.3,255.9h0M162.6,255.8h0M162.8,256.0h0M163.1,251.2h0M163.3,253.5h0M163.6,256.6h0M163.9,256.6h0M164.1,256.5h0M164.4,252.0h0M164.6,250.6h0M164.9,248.2h0M165.2,246.5h0M165.4,247.8h0M165.7,246.1h0M165.9,246.9h0M166.2,244.6h0M166.5,246.1h0M166.7,247.9h0M167.0,248.0h0M167.2,248.3h0M167.5,253.4h0M167.8,252.0h0M168.0,251.4h0M168.3,250.7h0M168.5,253.4h0M168.8,257.1h0M169.1,256.8h0M169.3,254.6h0M169.6,253.4h0M169.8,255.0h0M170.1,252.7h0M170.4,255.1h0M170.6,256.8h0M170.9,255.7h0M171.1,255.8h0M171.4,256.0h0M171.7,256.9h0M171.9,252.8h0M172.2,253.3h0M172.4,250.7h0M172.7,248.0h0M173.0,247.1h0M173.2,245.7h0M173.5,243.4h0M173.7,240.7h0M174.0,238.8h0M174.3,239.3h0M174.5,239.6h0M174.8,237.6h0M175.0,236.1h0M175.3,232.7h0M175.6,230.4h0M175.8,235.8h0M176.1,240.2h0M176.3,244.9h0M176.6,250.4h0M176.9,255.5h0M177.1,260.0h0M177.4,264.5h0M177.6,267.6h0M177.9,271.7h0M178.2,273.6h0M178.4,274.0h0M178.7,274.9h0M178.9,275.4h0M179.2,275.6h0M179.5,276.1h0M179.7,277.6h0M180.0,278.8h0M180.2,280.4h0M180.5,279.5h0M180.8,281.6h0M181.0,284.0h0M181.3,286.9h0M181.5,289.2h0M181.8,291.6h0M182.1,295.0h0M182.3,300.7h0M182.6,308.1h0M182.8,317.6h0M183.1,323.5h0M183.4,321.3h0M183.6,320.3h0M183.9,318.0h0M184.1,317.2h0M184.4,315.3h0M184.7,313.0h0M184.9,317.4h0M185.2,322.1h0M185.4,327.7h0M185.7,330.8h0M186.0,333.0h0M186.2,334.7h0M186.5,334.0h0M186.7,336.9h0M187.0,338.1h0M187.3,341.0h0M187.5,344.3h0M187.8,346.6h0M188.0,348.2h0M188.3,350.1h0M188.6,351.9h0M188.8,353.5h0M189.1,351.5h0M189.3,349.2h0M189.6,348.7h0M189.9,347.0h0M190.1,346.0h0M190.4,343.9h0M190.6,341.3h0M190.9,338.0h0M191.2,335.2h0M191.4,332.7h0M191.7,329.5h0M191.9,325.7h0M192.2,321.7h0M192.5,318.9h0M192.7,314.3h0M193.0,309.8h0M193.2,306.8h0M193.5,303.2h0M193.8,299.1h0M194.0,306.0h0M194.3,318.0h0M194.5,328.1h0M194.8,329.4h0M195.1,324.6h0M195.3,318.9h0M195.6,313.7h0M195.8,310.0h0M196.1,306.2h0M196.4,303.2h0M196.6,303.9h0M196.9,304.6h0M197.1,306.3h0M197.4,307.1h0M197.7,309.9h0M197.9,312.7h0M198.2,314.0h0M198.4,312.9h0M198.7,310.3h0M199.0,307.5h0M199.2,301.9h0M199.5,300.2h0M199.7,299.1h0M200.0,299.6h0M200.3,299.4h0M200.5,299.0h0M200.8,297.8h0M201.0,297.4h0M201.3,298.2h0M201.6,294.1h0M201.8,291.5h0M202.1,287.3h0M202.3,289.6h0M202.6,290.4h0M202.9,289.6h0M203.1,284.6h0M203.4,283.2h0M203.6,281.0h0M203.9,281.4h0M204.2,283.3h0M204.4,286.7h0M204.7,288.0h0M204.9,292.1h0M205.2,294.5h0M205.5,295.7h0M205.7,296.7h0M206.0,297.1h0M206.2,300.3h0M206.5,300.9h0M206.8,302.7h0M207.0,303.1h0M207.3,301.6h0M207.5,305.4h0M207.8,304.8h0M208.1,306.9h0M208.3,307.0h0M208.6,302.8h0M208.8,300.7h0M209.1,299.7h0M209.4,298.2h0M209.6,296.0h0M209.9,298.0h0M210.1,297.4h0M210.4,298.1h0M210.7,297.4h0M210.9,298.3h0M211.2,296.8h0M211.4,297.1h0M211.7,298.6h0M212.0,298.5h0M212.2,297.5h0M212.5,295.3h0M212.7,296.2h0M213.0,297.3h0M213.3,297.4h0M213.5,296.5h0M213.8,298.5h0M214.0,304.1h0M214.3,302.9h0M214.6,303.4h0M214.8,303.9h0M215.1,298.5h0M215.3,299.8h0M215.6,299.2h0M215.9,303.0h0M216.1,302.8h0M216.4,301.6h0M216.6,301.9h0M216.9,302.9h0M217.2,302.4h0M217.4,303.0h0M217.7,301.0h0M217.9,301.8h0M218.2,304.5h0M218.5,308.8h0M218.7,309.6h0M219.0,305.0h0M219.2,302.1h0M219.5,298.4h0M219.8,295.5h0M220.0,291.3h0M220.3,285.4h0M220.5,281.8h0M220.8,279.0h0M221.1,276.6h0M221.3,274.1h0M221.6,270.7h0M221.8,266.7h0M222.1,264.7h0M222.4,262.4h0M222.6,262.1h0M222.9,261.5h0M223.1,259.5h0M223.4,259.6h0M223.7,259.5h0M223.9,258.8h0M224.2,259.3h0M224.4,259.7h0M224.7,257.4h0M225.0,257.1h0M225.2,256.3h0M225.5,255.4h0M225.7,255.0h0M226.0,253.1h0M226.3,251.7h0M226.5,250.5h0M226.8,249.4h0M227.0,249.0h0M227.3,247.6h0M227.6,246.6h0M227.8,247.0h0M228.1,246.7h0M228.3,246.8h0M228.6,244.9h0M228.9,246.1h0M229.1,248.4h0M229.4,251.2h0M229.6,253.3h0M229.9,256.7h0M230.2,259.0h0M230.4,261.4h0M230.7,263.7h0M230.9,266.6h0M231.2,268.3h0M231.5,270.8h0M231.7,272.5h0M232.0,274.0h0M232.2,275.4h0M232.5,277.2h0M232.8,279.3h0M233.0,277.9h0M233.3,274.9h0M233.5,272.4h0M233.8,269.1h0M234.1,266.9h0M234.3,263.5h0M234.6,258.7h0M234.8,257.2h0M235.1,254.5h0M235.4,250.8h0M235.6,248.1h0M235.9,244.9h0M236.1,244.2h0M236.4,242.8h0M236.7,239.8h0M236.9,238.7h0M237.2,236.8h0M237.4,236.8h0M237.7,234.1h0M238.0,231.6h0M238.2,231.7h0M238.5,231.4h0M238.7,231.1h0M239.0,229.4h0M239.3,230.1h0M239.5,231.7h0M239.8,230.8h0M240.0,232.5h0M240.3,232.7h0M240.6,235.2h0M240.8,235.8h0M241.1,235.8h0M241.3,237.1h0M241.6,237.8h0M241.9,237.6h0M242.1,238.7h0M242.4,238.7h0M242.6,237.8h0M242.9,240.3h0M243.2,240.4h0M243.4,240.5h0M243.7,241.5h0M243.9,240.8h0M244.2,240.6h0M244.5,241.2h0M244.7,241.8h0M245.0,243.0h0M245.2,245.0h0M245.5,245.3h0M245.8,246.5h0M246.0,247.8h0M246.3,247.2h0M246.5,248.3h0M246.8,248.0h0M247.1,250.0h0M247.3,251.1h0M247.6,251.6h0M247.8,251.0h0M248.1,252.5h0M248.4,253.1h0M248.6,255.3h0M248.9,256.4h0M249.1,256.9h0M249.4,259.3h0M249.7,261.2h0M249.9,261.7h0M250.2,264.0h0M250.4,265.3h0M250.7,266.9h0M251.0,269.1h0M251.2,268.1h0M251.5,265.4h0M251.7,263.1h0M252.0,262.5h0M252.3,261.5h0M252.5,258.4h0M252.8,257.3h0M253.0,254.1h0M253.3,251.4h0M253.6,249.2h0M253.8,246.4h0M254.1,245.7h0M254.3,242.4h0M254.6,238.6h0M254.9,238.1h0M255.1,235.5h0M255.4,233.3h0M255.6,228.6h0M255.9,228.5h0M256.2,227.9h0M256.4,227.0h0M256.7,226.1h0M256.9,225.8h0M257.2,223.4h0M257.5,222.2h0M257.7,219.2h0M258.0,218.5h0M258.2,219.4h0M258.5,219.4h0M258.8,217.7h0M259.0,218.1h0M259.3,217.8h0M259.5,217.6h0M259.8,219.4h0M260.1,220.2h0M260.3,219.8h0M260.6,220.3h0M260.8,223.8h0M261.1,223.5h0M261.4,225.5h0M261.6,227.7h0M261.9,229.8h0M262.1,229.3h0M262.4,229.6h0M262.7,230.3h0M262.9,231.6h0M263.2,231.4h0M263.4,230.8h0M263.7,232.4h0M264.0,233.8h0M264.2,234.3h0M264.5,233.9h0M264.7,234.6h0M265.0,235.0h0M265.3,236.0h0M265.5,235.1h0M265.8,235.6h0M266.0,235.9h0M266.3,235.4h0M266.6,236.2h0M266.8,236.8h0M267.1,236.9h0M267.3,237.8h0M267.6,237.1h0M267.9,237.7h0M268.1,238.7h0M268.4,239.4h0M268.6,240.7h0M268.9,243.1h0M269.2,245.6h0M269.4,249.8h0M269.7,252.2h0M269.9,255.2h0M270.2,256.7h0M270.5,257.0h0M270.7,258.8h0M271.0,259.2h0M271.2,258.6h0M271.5,260.2h0M271.8,259.4h0M272.0,259.0h0M272.3,258.5h0M272.5,258.8h0M272.8,257.8h0M273.1,257.5h0M273.3,255.4h0M273.6,253.3h0M273.8,254.5h0M274.1,255.6h0M274.4,255.7h0M274.6,255.6h0M274.9,255.5h0M275.1,254.9h0M275.4,256.1h0M275.7,256.4h0M275.9,256.6h0M276.2,257.0h0M276.4,259.0h0M276.7,260.5h0M277.0,262.2h0M277.2,262.3h0M277.5,264.1h0M277.7,267.1h0M278.0,267.6h0M278.3,268.5h0M278.5,270.4h0M278.8,272.2h0M279.0,273.6h0M279.3,273.3h0M279.6,275.0h0M279.8,275.3h0M280.1,276.1h0M280.3,278.3h0M280.6,279.9h0M280.9,282.5h0M281.1,286.8h0M281.4,288.6h0M281.6,290.4h0M281.9,290.9h0M282.2,291.9h0M282.4,292.8h0M282.7,294.3h0M282.9,295.4h0M283.2,297.0h0M283.5,299.0h0M283.7,300.1h0M284.0,300.6h0M284.2,301.3h0M284.5,303.6h0M284.8,305.3h0M285.0,307.6h0M285.3,309.8h0M285.5,310.6h0M285.8,312.3h0M286.1,312.3h0M286.3,315.4h0M286.6,317.3h0M286.8,317.9h0M287.1,317.9h0M287.4,319.4h0M287.6,319.0h0M287.9,319.9h0M288.1,322.0h0M288.4,323.4h0M288.7,324.2h0M288.9,325.8h0M289.2,325.6h0M289.4,326.6h0M289.7,326.9h0M290.0,326.8h0M290.2,328.3h0M290.5,327.9h0M290.7,331.3h0M291.0,331.1h0M291.3,333.4h0M291.5,330.6h0M291.8,330.6h0M292.0,327.6h0M292.3,324.7h0M292.6,324.7h0M292.8,325.6h0M293.1,322.5h0M293.3,324.5h0M293.6,322.2h0M293.9,322.0h0M294.1,322.1h0M294.4,322.5h0M294.6,320.5h0M294.9,325.9h0M295.2,328.4h0M295.4,328.9h0M295.7,328.6h0M295.9,327.4h0M296.2,327.5h0M296.5,331.6h0M296.7,333.4h0M297.0,332.7h0M297.2,331.9h0M297.5,335.1h0M297.8,333.7h0M298.0,332.0h0M298.3,334.2h0M298.5,334.0h0M298.8,332.8h0M299.1,330.5h0M299.3,326.7h0M299.6,325.9h0M299.8,327.0h0M300.1,328.7h0M300.4,331.2h0M300.6,333.8h0M300.9,335.5h0M301.1,337.0h0M301.4,336.1h0M301.7,333.4h0M301.9,334.1h0M302.2,332.2h0M302.4,331.0h0M302.7,330.6h0M303.0,328.1h0M303.2,326.2h0M303.5,326.3h0M303.7,326.6h0M304.0,325.0h0M304.3,325.8h0M304.5,326.1h0M304.8,325.6h0M305.0,327.4h0M305.3,332.4h0M305.6,331.7h0M305.8,334.9h0M306.1,337.9h0M306.3,340.7h0M306.6,338.7h0M306.9,342.6h0M307.1,342.1h0M307.4,341.1h0M307.6,340.6h0M307.9,341.9h0M308.2,342.0h0M308.4,341.7h0M308.7,344.5h0M308.9,343.0h0M309.2,341.3h0M309.5,343.7h0M309.7,345.5h0M310.0,347.7h0M310.2,345.1h0M310.5,346.0h0M310.8,345.4h0M311.0,346.8h0M311.3,342.9h0M311.5,342.0h0M311.8,340.4h0M312.1,335.6h0M312.3,332.5h0M312.6,331.8h0M312.8,328.7h0M313.1,325.5h0M313.4,324.1h0M313.6,322.5h0M313.9,320.7h0M314.1,317.4h0M314.4,314.9h0M314.7,313.3h0M314.9,310.3h0M315.2,307.7h0M315.4,308.8h0M315.7,310.3h0M316.0,309.4h0M316.2,307.6h0M316.5,307.3h0M316.7,307.4h0M317.0,308.2h0M317.3,309.6h0M317.5,310.1h0M317.8,311.5h0M318.0,314.5h0M318.3,316.6h0M318.6,319.5h0M318.8,321.8h0M319.1,326.9h0M319.3,329.6h0M319.6,330.0h0M319.9,330.4h0M320.1,331.4h0M320.4,331.6h0M320.6,332.7h0M320.9,333.9h0M321.2,337.0h0M321.4,338.9h0M321.7,340.6h0M321.9,342.0h0M322.2,343.6h0M322.5,346.2h0M322.7,348.6h0M323.0,352.0h0M323.2,353.7h0M323.5,356.8h0M323.8,359.1h0M324.0,361.1h0M324.3,361.5h0M324.5,362.9h0M324.8,366.0h0M325.1,369.4h0M325.3,371.6h0M325.6,374.2h0M325.8,375.8h0M326.1,375.7h0M326.4,374.7h0M326.6,375.1h0M326.9,374.7h0M327.1,373.9h0M327.4,373.1h0M327.7,373.0h0M327.9,372.7h0M328.2,371.4h0M328.4,372.4h0M328.7,373.6h0M329.0,374.5h0M329.2,376.7h0M329.5,378.3h0M329.7,379.0h0M330.0,380.2h0M330.3,380.2h0M330.5,380.8h0M330.8,380.3h0M331.0,382.7h0M331.3,382.2h0M331.6,384.0h0M331.8,384.4h0M332.1,384.8h0M332.3,385.9h0M332.6,387.3h0M332.9,388.9h0M333.1,391.3h0M333.4,392.2h0M333.6,387.3h0M333.9,380.7h0M334.2,375.4h0M334.4,368.4h0M334.7,360.5h0M334.9,353.1h0M335.2,346.3h0M335.5,340.1h0M335.7,334.1h0M336.0,329.3h0M336.2,327.8h0M336.5,327.7h0M336.8,325.2h0M337.0,323.9h0M337.3,325.1h0M337.5,320.9h0M337.8,319.7h0M338.1,320.4h0M338.3,317.5h0M338.6,323.2h0M338.8,320.6h0M339.1,325.1h0M339.4,329.4h0M339.6,332.2h0M339.9,332.7h0M340.1,334.6h0M340.4,334.1h0M340.7,337.4h0M340.9,336.7h0M341.2,338.2h0M341.4,342.1h0M341.7,341.6h0M342.0,342.0h0M342.2,343.4h0M342.5,341.9h0M342.7,345.6h0M343.0,347.1h0M343.3,345.0h0M343.5,345.9h0M343.8,345.2h0M344.0,344.9h0M344.3,346.1h0M344.6,345.6h0M344.8,348.5h0M345.1,347.6h0M345.3,350.1h0M345.6,350.3h0M345.9,352.1h0M346.1,351.0h0M346.4,350.2h0M346.6,348.4h0M346.9,349.8h0M347.2,351.4h0M347.4,354.8h0M347.7,355.8h0M347.9,354.6h0M348.2,352.6h0M348.5,352.1h0M348.7,350.9h0M349.0,352.7h0M349.2,353.0h0M349.5,349.8h0M349.8,347.5h0M350.0,349.4h0M350.3,348.8h0M350.5,347.1h0M350.8,348.4h0M351.1,346.3h0M351.3,344.8h0M351.6,343.1h0M351.8,338.9h0M352.1,340.8h0M352.4,338.3h0M352.6,337.4h0M352.9,336.2h0M353.1,338.0h0M353.4,336.3h0M353.7,331.5h0M353.9,323.4h0M354.2,318.7h0M354.4,309.4h0M354.7,303.9h0M355.0,298.1h0M355.2,294.9h0M355.5,295.6h0M355.7,292.5h0M356.0,289.4h0M356.3,285.5h0M356.5,281.2h0M356.8,279.1h0M357.0,277.0h0M357.3,271.7h0M357.6,269.8h0M357.8,267.1h0M358.1,264.7h0M358.3,261.9h0M358.6,258.7h0M358.9,256.3h0M359.1,256.5h0M359.4,255.1h0M359.6,252.4h0M359.9,251.3h0M360.2,249.7h0M360.4,246.9h0M360.7,244.1h0M360.9,242.6h0M361.2,243.1h0M361.5,243.1h0M361.7,242.9h0M362.0,243.0h0M362.2,243.2h0M362.5,241.2h0M362.8,240.8h0M363.0,240.1h0M363.3,239.0h0M363.5,239.0h0M363.8,239.3h0M364.1,239.3h0M364.3,238.4h0M364.6,238.4h0M364.8,240.3h0M365.1,239.4h0M365.4,238.1h0M365.6,238.6h0M365.9,239.2h0M366.1,239.6h0M366.4,238.5h0M366.7,239.4h0M366.9,238.6h0M367.2,237.7h0M367.4,237.3h0M367.7,237.4h0M368.0,238.1h0M368.2,238.5h0M368.5,238.1h0M368.7,238.4h0M369.0,237.9h0M369.3,238.0h0M369.5,236.3h0M369.8,234.7h0M370.0,235.2h0M370.3,233.8h0M370.6,233.5h0M370.8,233.3h0M371.1,232.8h0M371.3,232.3h0M371.6,233.3h0M371.9,230.8h0M372.1,231.4h0M372.4,232.9h0M372.6,232.2h0M372.9,231.5h0M373.2,231.4h0M373.4,232.0h0M373.7,230.1h0M373.9,229.5h0M374.2,228.6h0M374.5,228.5h0M374.7,227.9h0M375.0,228.0h0M375.2,227.8h0M375.5,228.0h0M375.8,227.7h0M376.0,227.6h0M376.3,227.9h0M376.5,228.3h0M376.8,227.8h0M377.1,229.7h0M377.3,229.9h0M377.6,229.1h0M377.8,230.5h0M378.1,230.3h0M378.4,231.0h0M378.6,231.1h0M378.9,231.5h0M379.1,231.7h0M379.4,231.3h0M379.7,231.6h0M379.9,233.3h0M380.2,231.4h0M380.4,231.7h0M380.7,232.2h0M381.0,231.5h0M381.2,230.8h0M381.5,233.0h0M381.7,232.8h0M382.0,234.7h0M382.3,235.1h0M382.5,235.0h0M382.8,235.3h0M383.0,235.8h0M383.3,236.6h0M383.6,236.7h0M383.8,236.7h0M384.1,236.7h0M384.3,237.7h0M384.6,238.1h0M384.9,237.0h0M385.1,236.2h0M385.4,236.2h0M385.6,235.5h0M385.9,235.1h0M386.2,234.3h0M386.4,234.2h0M386.7,234.6h0M386.9,235.4h0M387.2,235.1h0M387.5,236.6h0M387.7,236.0h0M388.0,238.0h0M388.2,237.9h0M388.5,237.4h0M388.8,236.1h0M389.0,233.3h0M389.3,233.2h0M389.5,233.3h0M389.8,234.8h0M390.1,233.3h0M390.3,234.7h0M390.6,234.0h0M390.8,234.3h0M391.1,231.9h0M391.4,232.1h0M391.6,231.8h0M391.9,232.5h0M392.1,232.5h0M392.4,231.5h0M392.7,232.4h0M392.9,232.9h0M393.2,233.2h0M393.4,233.7h0M393.7,234.2h0M394.0,233.6h0M394.2,232.1h0M394.5,230.9h0M394.7,232.2h0M395.0,232.6h0M395.3,232.4h0M395.5,231.9h0M395.8,231.8h0M396.0,231.7h0M396.3,231.3h0M396.6,230.7h0M396.8,232.5h0M397.1,232.4h0M397.3,231.6h0M397.6,230.4h0M397.9,229.9h0M398.1,230.7h0M398.4,231.3h0M398.6,231.1h0M398.9,231.1h0M399.2,230.8h0M399.4,230.0h0M399.7,231.3h0M399.9,231.5h0M400.2,233.3h0M400.5,232.2h0M400.7,231.8h0M401.0,232.4h0M401.2,231.9h0M401.5,230.7h0M401.8,231.2h0M402.0,232.7h0M402.3,234.3h0M402.5,235.4h0M402.8,237.4h0M403.1,239.2h0M403.3,238.0h0M403.6,235.9h0M403.8,233.5h0M404.1,231.9h0M404.4,230.5h0M404.6,228.4h0M404.9,227.0h0M405.1,225.7h0M405.4,223.6h0M405.7,222.2h0M405.9,222.3h0M406.2,221.9h0M406.4,222.4h0M406.7,221.3h0M407.0,221.0h0M407.2,220.9h0M407.5,220.4h0M407.7,218.6h0M408.0,217.4h0M408.3,216.5h0M408.5,214.7h0M408.8,214.3h0M409.0,214.3h0M409.3,212.9h0M409.6,213.6h0M409.8,212.2h0M410.1,210.9h0M410.3,209.8h0M410.6,208.4h0M410.9,208.0h0M411.1,207.2h0M411.4,207.6h0M411.6,207.0h0M411.9,206.3h0M412.2,205.0h0M412.4,202.9h0M412.7,202.1h0M412.9,200.7h0M413.2,200.8h0M413.5,200.0h0M413.7,200.5h0M414.0,200.0h0M414.2,199.6h0M414.5,198.5h0M414.8,197.6h0M415.0,197.8h0M415.3,198.2h0M415.5,197.2h0M415.8,197.3h0M416.1,199.1h0M416.3,198.4h0M416.6,197.7h0M416.8,196.8h0M417.1,195.5h0M417.4,196.6h0M417.6,196.5h0M417.9,196.7h0M418.1,197.9h0M418.4,199.2h0M418.7,197.5h0M418.9,197.7h0M419.2,197.4h0M419.4,196.9h0M419.7,196.5h0M420.0,195.8h0M420.2,196.5h0M420.5,196.1h0M420.7,195.6h0M421.0,195.9h0M421.3,195.7h0M421.5,194.0h0M421.8,191.1h0M422.0,189.4h0M422.3,186.5h0M422.6,183.2h0M422.8,179.5h0M423.1,176.4h0M423.3,173.4h0M423.6,171.5h0M423.9,169.7h0M424.1,166.0h0M424.4,164.3h0M424.6,163.0h0M424.9,162.3h0M425.2,161.1h0M425.4,161.8h0M425.7,160.7h0M425.9,159.2h0M426.2,158.1h0M426.5,158.8h0M426.7,161.4h0M427.0,164.0h0M427.2,165.5h0M427.5,166.0h0M427.8,167.1h0M428.0,168.2h0M428.3,169.6h0M428.5,169.8h0M428.8,171.7h0M429.1,173.9h0M429.3,175.3h0M429.6,177.1h0M429.8,177.5h0M430.1,177.5h0" stroke="#43b449" stroke-width="4.0" stroke-linecap="round" fill="none"/>
</g>
<line x1="102.5" y1="345.1" x2="430.1" y2="345.1" stroke="#000" stroke-width="1.25"/>
<line x1="102.5" y1="278.7" x2="430.1" y2="278.7" stroke="#000" stroke-width="1.25"/>
<line x1="102.5" y1="212.3" x2="430.1" y2="212.3" stroke="#000" stroke-width="1.25"/>
<line x1="102.5" y1="145.9" x2="430.1" y2="145.9" stroke="#000" stroke-width="1.25"/>
<line x1="102.5" y1="79.5" x2="430.1" y2="79.5" stroke="#000" stroke-width="1.25"/>
<rect x="102.5" y="71.7" width="327.6" height="327.6" fill="none" stroke="#000" stroke-width="1.45"/>
<line x1="102.5" y1="399.3" x2="102.5" y2="407.8" stroke="#000" stroke-width="1.1"/>
<line x1="102.5" y1="71.7" x2="102.5" y2="63.2" stroke="#000" stroke-width="1.1"/>
<text x="102.5" y="429.7" font-size="15" text-anchor="middle" fill="#000">15/23</text>
<line x1="149.3" y1="399.3" x2="149.3" y2="407.8" stroke="#000" stroke-width="1.1"/>
<line x1="149.3" y1="71.7" x2="149.3" y2="63.2" stroke="#000" stroke-width="1.1"/>
<text x="149.3" y="429.7" font-size="15" text-anchor="middle" fill="#000">16/23</text>
<line x1="196.1" y1="399.3" x2="196.1" y2="407.8" stroke="#000" stroke-width="1.1"/>
<line x1="196.1" y1="71.7" x2="196.1" y2="63.2" stroke="#000" stroke-width="1.1"/>
<text x="196.1" y="429.7" font-size="15" text-anchor="middle" fill="#000">17/23</text>
<line x1="242.9" y1="399.3" x2="242.9" y2="407.8" stroke="#000" stroke-width="1.1"/>
<line x1="242.9" y1="71.7" x2="242.9" y2="63.2" stroke="#000" stroke-width="1.1"/>
<text x="242.9" y="429.7" font-size="15" text-anchor="middle" fill="#000">18/23</text>
<line x1="289.7" y1="399.3" x2="289.7" y2="407.8" stroke="#000" stroke-width="1.1"/>
<line x1="289.7" y1="71.7" x2="289.7" y2="63.2" stroke="#000" stroke-width="1.1"/>
<text x="289.7" y="429.7" font-size="15" text-anchor="middle" fill="#000">19/23</text>
<line x1="336.5" y1="399.3" x2="336.5" y2="407.8" stroke="#000" stroke-width="1.1"/>
<line x1="336.5" y1="71.7" x2="336.5" y2="63.2" stroke="#000" stroke-width="1.1"/>
<text x="336.5" y="429.7" font-size="15" text-anchor="middle" fill="#000">20/23</text>
<line x1="383.3" y1="399.3" x2="383.3" y2="407.8" stroke="#000" stroke-width="1.1"/>
<line x1="383.3" y1="71.7" x2="383.3" y2="63.2" stroke="#000" stroke-width="1.1"/>
<text x="383.3" y="429.7" font-size="15" text-anchor="middle" fill="#000">21/23</text>
<line x1="430.1" y1="399.3" x2="430.1" y2="407.8" stroke="#000" stroke-width="1.1"/>
<line x1="430.1" y1="71.7" x2="430.1" y2="63.2" stroke="#000" stroke-width="1.1"/>
<text x="430.1" y="429.7" font-size="15" text-anchor="middle" fill="#000">22/23</text>
<text x="266.7" y="458.2" font-size="21.1" text-anchor="middle" fill="#000">Time (Day/UTC)</text>
<line x1="98.2" y1="378.3" x2="102.5" y2="378.3" stroke="#000" stroke-width="0.8"/>
<line x1="98.2" y1="311.9" x2="102.5" y2="311.9" stroke="#000" stroke-width="0.8"/>
<line x1="98.2" y1="245.5" x2="102.5" y2="245.5" stroke="#000" stroke-width="0.8"/>
<line x1="98.2" y1="179.1" x2="102.5" y2="179.1" stroke="#000" stroke-width="0.8"/>
<line x1="98.2" y1="112.7" x2="102.5" y2="112.7" stroke="#000" stroke-width="0.8"/>
<line x1="94" y1="345.1" x2="102.5" y2="345.1" stroke="#000" stroke-width="1.1"/>
<text x="83.9" y="350.5" font-size="15" text-anchor="end" fill="#000">40</text>
<line x1="94" y1="278.7" x2="102.5" y2="278.7" stroke="#000" stroke-width="1.1"/>
<text x="83.9" y="284.1" font-size="15" text-anchor="end" fill="#000">50</text>
<line x1="94" y1="212.3" x2="102.5" y2="212.3" stroke="#000" stroke-width="1.1"/>
<text x="83.9" y="217.7" font-size="15" text-anchor="end" fill="#000">60</text>
<line x1="94" y1="145.9" x2="102.5" y2="145.9" stroke="#000" stroke-width="1.1"/>
<text x="83.9" y="151.3" font-size="15" text-anchor="end" fill="#000">70</text>
<line x1="94" y1="79.5" x2="102.5" y2="79.5" stroke="#000" stroke-width="1.1"/>
<text x="83.9" y="84.9" font-size="15" text-anchor="end" fill="#000">80</text>
<line x1="430.1" y1="381.43" x2="434.4" y2="381.43" stroke="#000" stroke-width="0.8"/>
<line x1="430.1" y1="363.55" x2="434.4" y2="363.55" stroke="#000" stroke-width="0.8"/>
<line x1="430.1" y1="345.68" x2="434.4" y2="345.68" stroke="#000" stroke-width="0.8"/>
<line x1="430.1" y1="309.93" x2="434.4" y2="309.93" stroke="#000" stroke-width="0.8"/>
<line x1="430.1" y1="292.05" x2="434.4" y2="292.05" stroke="#000" stroke-width="0.8"/>
<line x1="430.1" y1="274.18" x2="434.4" y2="274.18" stroke="#000" stroke-width="0.8"/>
<line x1="430.1" y1="238.43" x2="434.4" y2="238.43" stroke="#000" stroke-width="0.8"/>
<line x1="430.1" y1="220.55" x2="434.4" y2="220.55" stroke="#000" stroke-width="0.8"/>
<line x1="430.1" y1="202.68" x2="434.4" y2="202.68" stroke="#000" stroke-width="0.8"/>
<line x1="430.1" y1="166.93" x2="434.4" y2="166.93" stroke="#000" stroke-width="0.8"/>
<line x1="430.1" y1="149.05" x2="434.4" y2="149.05" stroke="#000" stroke-width="0.8"/>
<line x1="430.1" y1="131.18" x2="434.4" y2="131.18" stroke="#000" stroke-width="0.8"/>
<line x1="430.1" y1="95.43" x2="434.4" y2="95.43" stroke="#000" stroke-width="0.8"/>
<line x1="430.1" y1="77.55" x2="434.4" y2="77.55" stroke="#000" stroke-width="0.8"/>
<line x1="430.1" y1="399.3" x2="438.6" y2="399.3" stroke="#000" stroke-width="1.1"/>
<text x="448.7" y="404.7" font-size="15" text-anchor="start" fill="#000">0</text>
<line x1="430.1" y1="327.8" x2="438.6" y2="327.8" stroke="#000" stroke-width="1.1"/>
<text x="448.7" y="333.2" font-size="15" text-anchor="start" fill="#000">200</text>
<line x1="430.1" y1="256.3" x2="438.6" y2="256.3" stroke="#000" stroke-width="1.1"/>
<text x="448.7" y="261.7" font-size="15" text-anchor="start" fill="#000">400</text>
<line x1="430.1" y1="184.8" x2="438.6" y2="184.8" stroke="#000" stroke-width="1.1"/>
<text x="448.7" y="190.2" font-size="15" text-anchor="start" fill="#000">600</text>
<line x1="430.1" y1="113.3" x2="438.6" y2="113.3" stroke="#000" stroke-width="1.1"/>
<text x="448.7" y="118.7" font-size="15" text-anchor="start" fill="#000">800</text>
</g>
<g id="p2">
<clipPath id="c2"><rect x="611.5" y="71.5" width="333.6" height="330.6"/></clipPath>
<g clip-path="url(#c2)">
<path d="M614.1,322.3h0M615.5,367.4h0M615.2,361.4h0M615.2,330.0h0M615.4,333.5h0M616.3,365.3h0M616.5,358.4h0M617.1,361.2h0M617.1,340.9h0M617.7,334.5h0M617.5,358.5h0M617.4,345.1h0M618.2,359.1h0M618.3,351.6h0M618.6,351.1h0M619.6,355.2h0M619.9,342.3h0M620.0,339.0h0M620.1,339.5h0M620.9,338.2h0M620.9,353.0h0M621.4,356.7h0M621.9,338.4h0M621.8,343.3h0M622.1,338.1h0M623.1,349.7h0M622.8,349.1h0M623.2,349.9h0M624.0,339.4h0M623.8,346.4h0M624.0,356.8h0M625.2,339.4h0M625.1,343.3h0M624.8,339.3h0M625.6,339.7h0M625.6,352.5h0M626.1,357.8h0M627.1,345.5h0M626.2,360.2h0M626.5,352.4h0M627.7,347.6h0M627.6,343.2h0M627.8,345.9h0M627.9,362.3h0M629.3,349.3h0M629.6,355.6h0M629.4,347.9h0M629.5,351.9h0M630.3,352.7h0M630.8,364.2h0M630.9,366.5h0M631.0,351.1h0M630.9,352.1h0M631.8,349.5h0M632.9,352.5h0M632.0,356.5h0M631.9,347.4h0M632.4,369.4h0M633.3,348.5h0M634.1,354.3h0M634.5,362.5h0M634.1,353.3h0M634.4,360.2h0M635.6,352.1h0M635.4,364.0h0M636.0,371.2h0M635.9,360.4h0M636.6,359.5h0M636.6,359.5h0M637.4,357.0h0M636.9,357.1h0M637.1,371.8h0M638.1,372.6h0M637.4,379.7h0M638.7,369.8h0M639.3,363.8h0M639.4,369.7h0M639.6,384.5h0M640.1,376.0h0M640.2,377.2h0M639.9,363.1h0M640.8,362.2h0M640.8,373.9h0M642.1,374.8h0M642.1,357.2h0M642.1,368.8h0M642.6,350.6h0M642.7,350.5h0M643.7,338.9h0M643.1,350.9h0M644.5,329.7h0M644.5,353.0h0M644.0,333.4h0M644.6,316.2h0M645.2,304.1h0M645.6,288.6h0M646.1,305.5h0M645.9,314.1h0M646.0,301.8h0M646.7,322.0h0M646.1,308.3h0M647.0,333.4h0M647.5,281.3h0M647.5,302.7h0M649.2,319.7h0M648.9,323.4h0M648.9,314.5h0M649.6,306.0h0M649.6,295.3h0M649.7,308.1h0M650.5,311.3h0M650.1,312.7h0M650.6,302.6h0M651.6,313.9h0M651.6,271.6h0M652.2,305.0h0M652.3,317.6h0M652.0,310.1h0M652.7,303.3h0M653.6,315.6h0M653.4,294.3h0M654.1,286.4h0M654.2,319.9h0M654.0,283.8h0M655.2,318.1h0M655.0,312.1h0M654.7,314.8h0M656.4,317.5h0M656.0,279.7h0M656.2,271.4h0M655.8,307.3h0M656.9,316.6h0M657.5,273.5h0M657.0,268.3h0M657.9,281.2h0M657.5,294.0h0M659.1,308.4h0M659.0,316.3h0M659.7,285.5h0M660.3,313.0h0M659.7,326.5h0M659.3,307.8h0M661.0,334.6h0M660.6,320.3h0M660.5,313.9h0M661.8,328.3h0M661.6,323.2h0M663.0,337.5h0M662.9,335.8h0M662.1,355.8h0M663.2,346.6h0M663.3,345.6h0M664.2,348.2h0M664.1,354.4h0M665.0,356.6h0M665.1,346.0h0M666.1,350.1h0M665.7,345.1h0M665.6,349.0h0M666.1,344.0h0M666.2,357.6h0M666.4,353.3h0M667.2,347.9h0M667.7,343.9h0M667.7,348.6h0M668.1,359.6h0M668.0,345.6h0M668.5,351.8h0M668.9,349.2h0M668.4,357.3h0M669.0,361.3h0M669.8,348.4h0M669.9,360.4h0M670.5,344.2h0M670.2,351.0h0M671.5,350.4h0M672.2,348.6h0M671.9,350.2h0M672.5,354.2h0M672.7,357.1h0M673.3,348.1h0M673.3,369.1h0M673.0,356.0h0M674.6,363.8h0M673.6,358.8h0M674.8,358.2h0M675.2,351.9h0M674.7,358.8h0M675.4,354.3h0M675.8,356.7h0M676.3,376.5h0M676.9,355.6h0M676.3,359.4h0M677.1,381.1h0M677.9,377.3h0M678.2,369.3h0M678.6,362.8h0M678.8,378.5h0M678.7,373.3h0M678.7,362.1h0M679.9,371.0h0M679.7,373.2h0M680.4,364.7h0M680.1,356.0h0M680.1,376.6h0M681.3,369.6h0M682.0,374.4h0M681.5,368.9h0M681.6,370.8h0M682.6,374.4h0M682.9,371.5h0M682.8,361.6h0M682.8,368.6h0M684.3,363.4h0M683.8,363.4h0M684.9,367.8h0M684.1,368.1h0M685.1,364.7h0M685.0,369.2h0M685.5,358.5h0M686.2,367.7h0M686.2,364.6h0M686.9,345.1h0M687.0,342.1h0M687.0,340.1h0M687.1,337.7h0M687.5,340.2h0M688.6,355.9h0M688.1,351.0h0M688.1,345.9h0M689.5,331.9h0M689.9,319.1h0M689.4,335.2h0M690.4,315.2h0M690.3,295.5h0M690.4,296.1h0M691.4,309.3h0M691.1,294.2h0M692.1,333.9h0M692.1,301.2h0M692.0,301.6h0M693.2,303.4h0M692.8,313.3h0M693.3,303.8h0M694.0,303.8h0M694.6,319.3h0M694.2,320.6h0M694.7,301.2h0M694.7,321.8h0M694.8,314.0h0M695.8,329.7h0M696.3,328.3h0M696.9,318.1h0M696.6,294.5h0M697.8,299.3h0M697.0,305.5h0M697.4,299.5h0M698.1,287.5h0M697.6,303.1h0M698.8,302.1h0M698.9,298.7h0M699.3,322.7h0M699.0,326.6h0M699.8,308.1h0M700.4,303.1h0M700.8,316.4h0M701.0,304.2h0M701.5,333.0h0M702.4,340.4h0M701.8,337.6h0M701.7,335.0h0M703.4,336.0h0M702.5,317.4h0M703.7,354.4h0M703.7,307.1h0M703.5,298.2h0M704.5,308.2h0M705.3,306.5h0M703.9,346.6h0M705.3,324.8h0M705.5,355.8h0M706.4,304.6h0M706.4,350.2h0M706.0,345.2h0M705.8,363.2h0M707.3,343.8h0M707.7,326.6h0M707.6,350.5h0M708.0,360.9h0M708.0,339.7h0M709.0,336.3h0M709.1,362.3h0M709.7,344.3h0M709.6,356.9h0M709.7,353.7h0M710.1,342.1h0M711.4,356.2h0M711.5,342.3h0M711.7,331.9h0M712.2,351.1h0M711.9,344.4h0M712.3,340.0h0M712.1,346.8h0M713.2,351.7h0M713.8,336.9h0M713.5,338.3h0M714.6,366.2h0M713.9,342.3h0M714.5,357.3h0M715.0,364.4h0M715.7,345.9h0M716.1,364.4h0M715.6,359.4h0M716.6,344.4h0M717.7,340.8h0M716.6,357.1h0M717.5,378.2h0M717.4,354.9h0M718.2,361.3h0M718.1,363.2h0M718.8,365.3h0M717.6,361.3h0M718.8,361.5h0M719.5,364.1h0M720.0,361.5h0M720.1,347.0h0M720.2,362.9h0M721.4,355.7h0M720.3,371.7h0M721.3,373.0h0M722.2,370.4h0M722.0,360.8h0M722.6,369.3h0M722.8,349.0h0M722.9,361.6h0M723.4,363.0h0M723.2,370.9h0M723.9,357.0h0M724.3,370.5h0M724.7,367.0h0M724.7,363.6h0M725.0,350.6h0M724.9,363.9h0M726.4,376.4h0M726.0,370.0h0M726.2,358.7h0M726.1,357.7h0M727.0,359.4h0M728.0,373.8h0M728.6,360.5h0M727.4,364.6h0M729.2,361.1h0M728.6,350.7h0M728.8,349.6h0M729.5,354.7h0M729.8,356.8h0M730.5,349.0h0M730.4,353.4h0M730.7,351.6h0M731.2,348.2h0M731.7,344.7h0M732.3,334.7h0M732.2,331.4h0M732.7,335.0h0M733.2,349.2h0M733.4,335.1h0M733.5,355.4h0M733.5,343.8h0M733.9,327.1h0M734.1,313.6h0M735.4,317.9h0M734.4,332.8h0M735.8,325.3h0M736.2,305.8h0M736.2,319.2h0M736.2,332.0h0M736.7,288.6h0M737.2,304.1h0M737.4,293.3h0M737.0,275.4h0M737.7,277.6h0M738.2,303.2h0M738.3,263.6h0M739.1,278.1h0M739.3,295.5h0M740.3,309.6h0M739.8,305.9h0M740.2,294.7h0M741.2,275.5h0M741.3,284.5h0M740.9,299.4h0M741.9,305.9h0M741.6,273.5h0M742.4,303.9h0M743.5,290.9h0M742.8,237.6h0M743.6,286.5h0M743.8,303.6h0M744.4,249.4h0M744.0,232.1h0M744.5,312.6h0M745.1,241.0h0M745.0,253.4h0M745.3,285.7h0M745.9,221.4h0M746.4,253.4h0M746.7,259.6h0M746.5,263.6h0M747.2,226.3h0M747.5,255.7h0M748.3,249.2h0M747.8,295.0h0M748.3,239.5h0M749.4,238.5h0M749.0,255.0h0M749.0,298.4h0M749.5,278.4h0M749.9,273.7h0M750.2,246.1h0M751.3,220.9h0M750.7,276.8h0M750.8,297.5h0M752.2,287.2h0M752.1,225.7h0M752.5,227.6h0M752.7,234.3h0M753.1,321.3h0M753.5,281.3h0M753.7,319.9h0M753.4,294.2h0M754.3,263.0h0M754.2,245.9h0M755.0,302.8h0M755.3,313.5h0M756.1,294.5h0M755.0,272.0h0M755.9,317.1h0M756.2,307.4h0M756.5,276.9h0M757.4,304.8h0M757.1,318.2h0M757.4,266.6h0M758.4,267.6h0M758.0,280.6h0M758.2,277.7h0M758.7,287.5h0M759.5,290.0h0M759.3,256.3h0M760.1,269.0h0M760.2,301.1h0M761.1,277.8h0M761.0,298.6h0M762.1,272.9h0M761.7,242.3h0M761.7,229.7h0M762.4,289.9h0M762.6,232.0h0M762.8,225.4h0M764.3,287.0h0M764.2,243.1h0M764.4,271.2h0M764.7,235.0h0M764.3,289.4h0M764.8,264.3h0M764.8,247.3h0M766.0,257.3h0M766.7,288.7h0M766.1,301.4h0M766.6,249.0h0M766.8,239.1h0M767.4,258.8h0M767.6,312.4h0M768.0,281.8h0M768.4,301.3h0M768.6,316.3h0M768.8,310.0h0M769.7,317.5h0M769.7,297.0h0M769.6,296.0h0M770.7,332.5h0M770.5,307.3h0M771.2,339.5h0M771.1,340.5h0M772.1,317.8h0M772.5,337.5h0M772.1,310.7h0M772.4,340.2h0M772.7,333.2h0M773.3,334.5h0M773.7,295.1h0M772.5,315.7h0M773.4,340.1h0M774.0,301.4h0M775.3,318.8h0M775.1,311.9h0M774.6,294.0h0M775.7,309.6h0M775.7,307.8h0M776.2,317.3h0M776.3,329.2h0M776.8,340.7h0M776.9,304.4h0M777.5,313.6h0M777.6,307.8h0M778.6,318.5h0M778.5,318.6h0M779.0,289.3h0M779.0,341.7h0M779.9,291.7h0M780.0,326.9h0M780.1,309.9h0M781.0,317.6h0M780.8,300.0h0M782.2,293.9h0M781.6,289.5h0M781.9,331.0h0M782.3,322.7h0M783.0,308.8h0M782.9,313.1h0M783.0,291.5h0M783.0,332.7h0M784.5,329.3h0M784.7,301.7h0M785.1,334.6h0M784.8,321.0h0M784.7,328.6h0M785.6,292.9h0M785.4,315.8h0M785.9,330.1h0M786.9,324.3h0M786.5,320.8h0M786.6,288.7h0M787.4,298.2h0M787.1,288.1h0M788.3,282.6h0M788.0,285.6h0M789.2,314.3h0M788.5,319.5h0M788.9,309.8h0M789.5,295.5h0M789.0,325.7h0M789.8,329.8h0M790.6,331.6h0M791.2,338.8h0M791.2,334.2h0M791.8,303.2h0M792.0,338.8h0M792.3,319.9h0M792.2,320.3h0M792.8,320.1h0M793.6,303.8h0M793.9,297.9h0M794.1,307.3h0M793.9,333.4h0M795.0,313.6h0M794.6,332.2h0M795.2,292.3h0M796.2,296.5h0M795.1,297.8h0M796.2,283.6h0M796.8,282.4h0M796.7,299.8h0M796.4,309.8h0M797.8,318.7h0M798.3,323.6h0M798.7,322.0h0M798.0,314.4h0M798.2,305.4h0M799.2,315.9h0M800.2,321.8h0M799.7,294.1h0M800.5,322.2h0M800.2,291.6h0M800.9,309.8h0M801.3,306.6h0M801.2,311.4h0M802.4,319.7h0M802.0,343.6h0M803.1,343.9h0M802.4,336.7h0M802.5,337.5h0M802.6,352.7h0M804.1,348.3h0M804.1,353.0h0M804.1,341.3h0M804.3,339.2h0M804.8,357.7h0M805.8,339.9h0M805.8,342.9h0M805.0,340.2h0M805.7,344.4h0M806.0,344.8h0M807.0,351.1h0M807.3,355.5h0M807.9,348.8h0M807.7,349.9h0M808.0,346.6h0M808.3,360.4h0M809.1,346.4h0M808.7,343.2h0M809.3,349.6h0M809.1,352.6h0M810.4,355.8h0M809.9,347.5h0M810.6,355.3h0M811.1,359.8h0M811.3,354.2h0M810.9,347.7h0M812.3,348.1h0M812.7,361.7h0M812.8,346.7h0M812.9,346.4h0M813.4,363.9h0M814.6,348.5h0M813.7,361.3h0M814.0,345.9h0M815.0,350.1h0M815.7,348.5h0M815.8,356.4h0M815.7,351.3h0M814.8,361.2h0M817.0,367.2h0M816.4,352.9h0M817.2,354.7h0M816.6,356.4h0M818.0,359.5h0M817.9,356.5h0M818.8,365.1h0M817.6,367.9h0M819.1,355.1h0M819.2,369.5h0M819.5,360.5h0M820.0,352.7h0M820.1,370.4h0M820.9,356.3h0M820.4,351.4h0M821.4,351.8h0M822.0,360.4h0M821.5,372.0h0M823.0,352.5h0M822.5,368.9h0M822.6,354.2h0M823.4,375.3h0M823.7,357.2h0M823.9,363.0h0M823.5,378.0h0M824.8,367.8h0M825.1,367.7h0M824.8,376.7h0M826.1,374.2h0M825.7,366.9h0M826.2,363.4h0M825.8,370.3h0M826.9,375.6h0M826.6,379.8h0M826.8,374.1h0M827.8,361.7h0M828.6,349.0h0M828.1,375.9h0M828.3,355.4h0M829.5,349.5h0M829.7,338.6h0M829.6,363.7h0M830.1,359.7h0M829.9,357.3h0M830.1,343.4h0M830.4,343.3h0M831.1,322.8h0M831.9,296.7h0M831.8,298.0h0M832.3,294.1h0M832.9,340.7h0M832.1,281.9h0M833.6,305.2h0M833.7,283.6h0M833.5,323.9h0M834.1,319.7h0M833.9,303.8h0M835.1,299.8h0M835.2,271.7h0M835.4,267.8h0M835.3,281.9h0M836.3,308.1h0M836.7,271.3h0M837.0,315.2h0M836.5,263.8h0M837.3,301.6h0M837.6,274.5h0M838.4,298.2h0M838.7,286.3h0M838.9,276.8h0M839.4,277.1h0M839.4,282.6h0M840.7,322.8h0M840.0,313.0h0M840.4,281.2h0M840.2,297.1h0M841.1,318.9h0M841.5,308.8h0M842.1,281.5h0M842.1,315.3h0M841.9,304.9h0M842.7,285.5h0M843.0,304.1h0M843.6,298.5h0M843.7,323.6h0M843.8,280.7h0M844.3,276.5h0M844.7,314.6h0M844.5,303.8h0M844.9,278.2h0M845.6,296.4h0M846.3,288.6h0M846.3,315.9h0M846.5,292.6h0M847.1,330.0h0M847.2,326.3h0M846.9,337.1h0M847.7,302.4h0M848.6,329.9h0M848.6,323.5h0M848.4,340.5h0M848.2,309.4h0M849.5,358.8h0M849.8,344.4h0M851.0,344.2h0M850.1,353.1h0M851.0,343.0h0M851.6,333.6h0M851.7,344.3h0M851.3,347.4h0M852.1,355.5h0M852.1,340.1h0M852.6,335.5h0M853.3,358.2h0M852.8,340.2h0M854.1,362.2h0M854.7,346.5h0M854.7,356.1h0M854.6,340.8h0M855.7,350.0h0M855.5,350.7h0M855.0,341.9h0M855.6,354.4h0M856.4,344.7h0M856.7,355.1h0M857.2,346.7h0M857.5,351.4h0M857.3,354.1h0M857.8,350.6h0M858.4,357.9h0M859.3,350.3h0M859.3,349.5h0M859.8,346.9h0M859.8,350.4h0M859.8,359.3h0M860.0,372.4h0M860.0,369.7h0M860.8,360.0h0M861.3,370.2h0M861.3,376.0h0M861.2,371.7h0M861.4,371.9h0M861.7,374.5h0M863.4,368.6h0M863.8,374.7h0M863.8,377.0h0M864.0,373.4h0M864.3,381.0h0M863.9,346.1h0M865.7,367.8h0M865.1,332.1h0M865.5,355.9h0M865.6,327.6h0M865.5,290.1h0M866.5,306.9h0M867.1,300.4h0M867.2,332.4h0M866.8,273.0h0M866.8,280.3h0M868.7,322.6h0M868.8,251.3h0M868.1,252.4h0M868.8,216.4h0M870.1,287.9h0M869.5,277.0h0M869.8,168.8h0M870.3,214.8h0M870.8,223.6h0M870.9,216.8h0M871.6,297.2h0M871.5,259.2h0M871.7,235.2h0M871.5,256.3h0M872.7,269.5h0M873.7,262.9h0M873.4,243.5h0M874.0,197.9h0M874.0,188.7h0M874.3,202.0h0M873.7,251.7h0M874.6,245.6h0M875.0,269.9h0M875.8,222.1h0M875.7,255.4h0M875.5,242.2h0M875.7,212.0h0M876.7,267.6h0M877.1,257.5h0M878.3,233.8h0M877.3,197.3h0M877.8,200.8h0M878.2,248.1h0M879.4,203.8h0M878.9,197.9h0M879.3,223.7h0M879.9,205.3h0M878.8,229.1h0M880.8,214.2h0M880.7,250.4h0M881.2,263.4h0M880.6,267.6h0M882.1,226.0h0M882.3,205.1h0M883.3,229.1h0M882.6,233.6h0M883.5,201.3h0M883.6,238.9h0M883.6,249.9h0M883.2,244.5h0M884.6,260.8h0M884.6,277.1h0M885.5,220.0h0M885.3,266.4h0M885.0,267.9h0M885.9,248.8h0M886.2,257.6h0M886.7,273.9h0M887.1,268.7h0M887.2,237.4h0M886.8,229.9h0M887.3,279.3h0M888.2,286.0h0M888.5,278.2h0M889.2,258.9h0M889.2,210.8h0M889.9,272.4h0M889.9,258.3h0M890.0,270.1h0M891.2,265.6h0M890.7,255.6h0M891.1,258.5h0M891.5,221.9h0M892.1,220.5h0M892.0,226.1h0M892.5,240.7h0M892.5,229.5h0M893.2,268.3h0M892.5,240.0h0M893.4,267.4h0M893.8,243.2h0M894.3,235.4h0M894.5,289.3h0M895.4,247.9h0M895.6,211.2h0M895.2,233.5h0M896.1,286.7h0M896.9,282.4h0M896.4,259.2h0M896.8,237.9h0M897.5,271.1h0M897.0,200.0h0M897.9,257.7h0M898.8,279.0h0M899.3,292.3h0M898.5,184.2h0M899.7,226.5h0M899.1,155.6h0M900.7,246.9h0M900.4,201.6h0M900.5,222.0h0M900.7,205.6h0M901.4,200.1h0M902.1,210.1h0M902.1,208.6h0M902.6,234.1h0M902.9,204.9h0M903.2,152.8h0M904.0,265.4h0M903.9,218.9h0M903.8,176.5h0M904.3,156.8h0M903.9,195.2h0M904.1,250.2h0M905.0,191.9h0M905.4,230.2h0M905.6,246.3h0M906.0,162.2h0M906.8,227.5h0M906.9,239.6h0M906.4,232.1h0M907.7,241.5h0M908.0,261.5h0M908.0,270.9h0M908.5,206.8h0M908.5,238.3h0M909.2,244.4h0M909.1,265.0h0M909.6,202.8h0M910.3,196.0h0M910.3,284.1h0M910.6,224.1h0M911.5,192.5h0M911.2,263.7h0M912.0,250.8h0M912.0,247.5h0M912.1,211.9h0M912.4,297.5h0M913.1,272.5h0M913.9,234.0h0M913.2,201.3h0M913.4,297.2h0M914.8,283.8h0M914.9,236.4h0M915.0,251.5h0M914.6,267.4h0M916.0,327.8h0M915.2,282.2h0M916.5,294.8h0M916.4,243.7h0M916.8,322.6h0M917.0,256.4h0M917.1,281.0h0M917.6,283.8h0M918.3,253.8h0M917.6,321.7h0M918.2,267.1h0M919.4,252.6h0M919.5,319.0h0M920.5,244.9h0M919.6,251.8h0M920.0,250.2h0M920.7,251.9h0M921.1,293.2h0M921.5,262.5h0M921.8,259.8h0M922.3,256.5h0M921.6,238.7h0M922.7,254.4h0M922.8,232.1h0M923.0,223.9h0M924.3,301.0h0M923.8,238.4h0M924.8,296.8h0M925.6,306.4h0M924.8,268.5h0M925.3,266.3h0M925.5,252.5h0M926.0,306.2h0M926.8,269.2h0M926.9,300.3h0M926.9,216.1h0M927.2,250.6h0M927.2,260.9h0M928.0,281.8h0M927.7,197.9h0M928.2,202.7h0M928.9,199.9h0M928.9,259.6h0M928.9,270.6h0M929.7,214.4h0M929.7,258.4h0M930.7,291.9h0M930.8,223.1h0M930.6,222.9h0M931.6,228.9h0M932.0,248.3h0M932.1,267.7h0M932.3,261.0h0M932.5,227.8h0M933.8,291.3h0M933.4,238.7h0M933.7,291.9h0M933.9,251.9h0M933.9,242.4h0M934.5,303.3h0M935.2,287.7h0M935.5,336.9h0M935.8,291.1h0M936.0,268.4h0M935.9,299.6h0M936.6,360.8h0M937.3,309.9h0M937.3,351.7h0M936.7,332.9h0M937.6,337.7h0M937.5,343.2h0M938.2,369.1h0M939.8,369.7h0M939.0,358.1h0M939.2,360.0h0M939.2,357.7h0M940.1,355.3h0M941.0,363.4h0M940.5,357.0h0M941.3,347.2h0M941.6,348.3h0M941.6,361.1h0M942.4,360.5h0M614.4,326.7h0M614.6,337.3h0M614.9,341.4h0M615.6,360.1h0M616.6,364.1h0M616.5,341.9h0M616.2,361.0h0M616.8,366.2h0M616.8,331.9h0M617.1,353.5h0M617.0,332.6h0M618.3,352.5h0M618.2,348.9h0M618.7,345.5h0M618.1,355.0h0M619.6,358.7h0M619.2,343.9h0M619.6,354.7h0M620.6,352.2h0M620.3,347.0h0M620.6,347.9h0M621.7,342.3h0M620.8,353.4h0M622.0,356.5h0M622.8,349.2h0M623.4,357.5h0M623.6,357.1h0M622.7,343.3h0M623.7,338.5h0M624.3,350.9h0M624.4,347.5h0M624.4,353.4h0M624.5,352.7h0M625.5,352.7h0M625.0,357.8h0M625.2,357.6h0M625.9,340.6h0M626.6,350.1h0M627.4,353.5h0M627.1,353.4h0M627.9,348.3h0M627.5,357.5h0M628.0,345.2h0M628.3,353.2h0M628.5,351.0h0M629.6,355.1h0M628.9,352.1h0M629.2,359.7h0M630.6,366.2h0M630.6,366.6h0M631.0,362.5h0M630.8,348.6h0M631.7,358.7h0M631.0,359.0h0M632.0,363.7h0M632.5,355.9h0M631.9,364.5h0M632.7,369.2h0M632.8,355.2h0M633.3,362.5h0M633.9,357.8h0M634.1,364.4h0M633.8,368.0h0M635.2,368.0h0M634.8,367.3h0M635.7,367.2h0M635.7,370.9h0M635.6,367.9h0M636.9,360.5h0M636.8,378.0h0M637.4,376.4h0M637.7,379.4h0M638.0,365.9h0M637.9,379.9h0M638.7,380.5h0M639.2,383.9h0M638.9,376.1h0M639.1,369.3h0M639.6,369.8h0M640.6,386.8h0M640.5,365.3h0M641.4,374.9h0M641.0,378.8h0M641.5,354.8h0M642.4,369.1h0M642.8,354.5h0M642.7,347.7h0M642.3,340.1h0M643.1,353.6h0M643.4,352.4h0M643.3,340.2h0M644.6,328.5h0M644.6,322.0h0M644.4,331.3h0M644.6,325.8h0M645.5,339.3h0M645.0,323.4h0M646.4,305.6h0M646.2,325.7h0M646.2,319.9h0M647.2,309.1h0M647.0,318.1h0M647.6,320.3h0M648.0,331.4h0M647.9,312.4h0M648.8,306.5h0M649.5,314.6h0M649.7,312.2h0M649.6,278.9h0M650.2,296.3h0M649.8,325.3h0M650.5,308.3h0M651.3,300.5h0M650.8,312.9h0M651.6,318.1h0M652.2,325.0h0M652.3,314.9h0M653.2,304.9h0M652.7,318.8h0M653.0,311.9h0M652.9,275.9h0M653.9,277.2h0M654.2,316.2h0M654.2,316.8h0M655.0,290.2h0M655.8,293.7h0M655.2,291.2h0M656.3,321.2h0M656.4,300.6h0M656.4,316.8h0M655.9,315.6h0M656.4,297.6h0M657.3,324.0h0M657.4,296.9h0M658.2,302.7h0M658.2,292.4h0M658.6,297.8h0M658.7,305.2h0M659.1,309.2h0M659.8,309.2h0M659.3,306.0h0M660.8,330.0h0M660.9,330.5h0M660.2,322.4h0M661.4,349.3h0M661.5,320.6h0M661.7,343.9h0M662.2,351.4h0M662.5,344.6h0M662.6,356.6h0M663.0,354.2h0M664.0,354.6h0M663.3,347.9h0M664.6,352.6h0M664.2,356.3h0M665.1,354.3h0M664.7,355.3h0M665.2,342.9h0M665.7,354.1h0M665.3,344.8h0M666.0,345.9h0M667.4,346.8h0M667.5,355.1h0M667.8,354.7h0M668.0,348.4h0M667.9,343.3h0M669.1,359.4h0M669.7,356.9h0M668.6,355.1h0M669.4,352.0h0M669.7,357.4h0M670.0,353.6h0M670.8,353.5h0M670.7,353.5h0M671.1,361.2h0M671.4,360.3h0M671.2,352.1h0M672.7,349.3h0M671.8,360.3h0M672.5,353.0h0M672.9,366.2h0M673.5,361.7h0M673.9,363.7h0M673.2,365.9h0M674.4,370.1h0M674.2,368.5h0M675.1,357.0h0M674.5,359.6h0M675.7,376.5h0M675.0,373.1h0M675.7,372.9h0M676.5,378.7h0M677.1,371.6h0M677.5,361.1h0M677.7,376.9h0M677.6,380.6h0M678.3,375.7h0M678.5,373.1h0M678.6,365.3h0M679.6,375.6h0M679.5,371.7h0M679.9,378.8h0M680.5,364.1h0M680.3,377.2h0M680.8,371.1h0M680.6,373.8h0M681.1,374.6h0M681.2,372.5h0M681.6,371.4h0M682.0,371.0h0M682.7,370.4h0M683.3,367.4h0M683.2,366.4h0M683.8,364.4h0M684.9,371.2h0M684.1,370.5h0M684.6,369.0h0M686.5,368.1h0M686.1,366.7h0M685.5,368.8h0M686.7,357.8h0M686.4,341.3h0M686.0,356.9h0M687.1,336.6h0M686.9,353.8h0M687.6,322.8h0M688.2,326.1h0M688.3,349.0h0M688.2,354.0h0M688.3,316.3h0M689.0,337.7h0M689.7,316.1h0M689.6,318.7h0M690.0,317.6h0M691.6,335.7h0M690.9,338.9h0M691.6,312.8h0M690.5,329.5h0M691.4,308.8h0M691.6,327.5h0M692.3,299.8h0M693.2,305.7h0M693.3,321.4h0M693.5,294.9h0M694.0,292.1h0M694.1,309.5h0M694.5,301.6h0M695.4,334.9h0M695.4,294.1h0M695.9,316.8h0M696.6,332.4h0M695.6,328.7h0M697.3,315.0h0M696.2,302.5h0M697.6,315.9h0M697.3,293.9h0M698.5,299.8h0M698.5,307.3h0M698.0,332.1h0M698.9,316.4h0M699.2,305.4h0M699.1,322.7h0M699.7,310.5h0M699.7,293.2h0M700.2,297.5h0M700.6,345.9h0M701.0,325.9h0M700.9,321.9h0M702.4,338.5h0M701.4,322.3h0M702.3,348.5h0M702.3,326.9h0M703.4,334.0h0M703.0,353.9h0M703.4,349.0h0M704.6,351.3h0M704.0,321.1h0M704.5,352.7h0M704.5,357.8h0M705.4,358.6h0M705.6,359.6h0M705.4,360.1h0M706.3,343.4h0M706.3,350.3h0M707.0,333.9h0M706.7,352.9h0M707.8,337.2h0M708.2,336.4h0M707.7,356.7h0M708.4,343.3h0M709.0,333.1h0M708.5,350.0h0M709.4,340.9h0M709.8,357.5h0M709.6,344.6h0M710.0,335.8h0M711.2,349.5h0M711.2,343.0h0M711.2,336.3h0M711.2,349.0h0M712.2,351.7h0M712.1,351.0h0M713.6,355.2h0M713.1,342.6h0M713.7,341.5h0M713.7,363.8h0M714.6,356.7h0M714.4,356.5h0M714.2,359.7h0M715.0,363.9h0M715.1,361.4h0M715.7,369.0h0M715.8,356.5h0M716.2,377.6h0M716.3,374.3h0M716.7,368.6h0M717.3,373.2h0M717.4,347.9h0M718.3,353.0h0M718.5,349.2h0M718.3,364.5h0M718.4,371.8h0M719.7,356.9h0M719.3,375.7h0M719.3,354.2h0M719.8,370.2h0M720.3,351.6h0M721.3,356.9h0M721.4,368.5h0M721.5,368.2h0M721.2,360.5h0M721.9,348.0h0M722.2,346.4h0M723.3,364.2h0M723.0,368.0h0M724.4,365.4h0M723.9,352.7h0M723.7,356.4h0M724.4,372.7h0M724.3,366.9h0M725.2,369.9h0M724.5,361.0h0M726.1,368.2h0M726.1,360.0h0M726.6,355.4h0M726.1,380.4h0M727.9,352.9h0M726.8,367.7h0M727.7,373.8h0M727.4,358.9h0M728.1,366.9h0M728.7,355.2h0M728.3,351.9h0M729.2,350.5h0M729.7,352.3h0M729.5,356.1h0M730.6,355.0h0M730.4,350.5h0M730.4,347.5h0M730.9,348.3h0M731.1,353.6h0M731.8,351.7h0M732.4,351.4h0M732.5,337.7h0M732.9,330.7h0M733.1,335.6h0M733.7,347.1h0M734.2,345.0h0M734.5,359.0h0M733.8,332.2h0M734.8,353.0h0M735.0,355.9h0M736.0,327.5h0M736.1,342.6h0M735.5,330.0h0M736.1,330.2h0M736.0,322.2h0M737.2,293.0h0M737.4,299.1h0M737.5,326.4h0M737.4,297.0h0M738.5,276.6h0M738.3,316.7h0M739.2,312.1h0M738.9,300.2h0M740.4,265.0h0M740.5,254.2h0M740.8,265.3h0M739.9,299.9h0M741.3,285.5h0M741.7,269.3h0M741.3,298.5h0M741.9,291.9h0M742.0,245.3h0M742.9,302.9h0M743.8,257.0h0M742.7,263.9h0M743.0,273.0h0M744.1,261.3h0M743.8,241.9h0M744.8,283.3h0M744.7,247.2h0M745.3,283.9h0M745.8,260.7h0M745.9,296.2h0M746.5,308.6h0M746.0,262.8h0M746.3,271.9h0M747.2,299.4h0M747.0,271.5h0M747.7,250.7h0M748.3,248.0h0M748.4,307.1h0M748.9,253.3h0M749.2,260.7h0M748.4,271.8h0M749.6,231.3h0M749.8,269.7h0M750.9,306.1h0M751.2,281.4h0M750.8,245.2h0M751.7,232.2h0M751.5,290.2h0M752.2,306.9h0M751.8,283.1h0M752.9,245.2h0M753.2,283.9h0M752.7,241.2h0M753.8,316.4h0M754.5,302.4h0M754.2,279.0h0M755.0,317.5h0M754.5,289.9h0M754.8,258.3h0M755.0,264.6h0M756.2,318.9h0M755.3,315.4h0M756.8,285.9h0M756.7,305.5h0M757.5,309.8h0M757.6,297.8h0M757.8,286.0h0M758.4,309.3h0M758.9,308.1h0M759.3,304.3h0M759.6,282.6h0M759.8,285.0h0M759.5,297.6h0M760.0,303.6h0M759.8,263.0h0M760.6,239.8h0M761.0,244.3h0M761.9,287.5h0M762.5,256.0h0M761.6,231.9h0M761.7,239.9h0M762.4,224.9h0M763.1,241.7h0M764.1,283.9h0M763.2,225.3h0M763.5,285.8h0M763.8,279.9h0M765.2,268.5h0M764.7,235.4h0M765.2,295.5h0M765.1,252.2h0M766.2,313.2h0M766.1,298.7h0M766.6,277.2h0M766.6,297.8h0M767.0,298.9h0M768.1,279.6h0M767.7,291.0h0M768.5,300.8h0M768.4,278.8h0M768.4,301.5h0M769.3,277.5h0M769.1,316.5h0M769.9,311.1h0M770.6,294.3h0M770.4,314.7h0M770.5,315.4h0M771.6,306.2h0M771.4,311.6h0M771.5,325.8h0M772.1,336.3h0M772.7,310.5h0M773.0,342.2h0M773.2,322.9h0M773.6,332.2h0M773.7,337.4h0M773.6,301.1h0M774.4,322.2h0M774.0,314.4h0M775.2,334.3h0M774.9,338.0h0M775.2,342.0h0M776.6,314.7h0M776.4,322.8h0M776.7,324.2h0M776.8,314.2h0M777.3,333.3h0M777.4,329.7h0M777.8,331.6h0M778.3,303.4h0M778.6,305.1h0M777.8,326.5h0M779.8,295.8h0M779.3,298.4h0M780.3,325.5h0M780.7,293.1h0M780.7,322.2h0M780.7,329.2h0M781.4,317.6h0M781.4,302.3h0M781.4,302.0h0M781.1,337.4h0M782.8,317.8h0M782.9,309.6h0M783.7,315.3h0M783.5,332.7h0M783.9,313.9h0M784.2,328.1h0M784.3,336.6h0M785.0,298.9h0M785.3,311.9h0M785.6,326.4h0M785.4,335.3h0M786.0,288.3h0M787.2,284.0h0M786.8,321.1h0M786.8,326.2h0M786.8,322.1h0M788.2,290.6h0M788.4,330.6h0M788.5,308.6h0M788.5,302.8h0M789.3,316.3h0M789.8,320.1h0M789.7,288.9h0M790.0,315.5h0M790.1,338.5h0M790.6,327.9h0M790.6,308.0h0M791.4,308.3h0M791.3,328.6h0M791.7,332.6h0M791.8,307.2h0M792.0,325.1h0M792.9,337.1h0M793.9,330.6h0M792.8,288.5h0M793.9,293.6h0M793.6,321.9h0M794.5,304.2h0M794.2,302.4h0M795.1,320.9h0M795.3,333.7h0M795.9,300.2h0M796.3,327.6h0M796.4,305.0h0M796.8,289.3h0M796.8,294.8h0M797.2,301.2h0M797.7,294.5h0M798.1,294.0h0M798.5,317.5h0M798.9,314.2h0M798.5,312.6h0M799.8,310.4h0M799.9,316.3h0M800.0,318.5h0M800.4,319.4h0M800.3,296.4h0M801.2,329.1h0M800.4,329.2h0M800.8,336.1h0M802.3,335.3h0M802.1,350.5h0M802.6,340.1h0M802.7,347.6h0M803.6,334.2h0M803.2,347.7h0M803.9,350.8h0M804.4,352.7h0M805.2,343.7h0M805.3,347.6h0M805.3,349.6h0M805.9,342.5h0M805.7,351.5h0M806.2,349.3h0M806.8,356.5h0M807.4,341.4h0M806.7,351.1h0M807.4,359.8h0M808.0,344.3h0M808.4,345.2h0M808.6,351.5h0M808.8,356.1h0M808.8,356.2h0M809.0,355.4h0M810.0,359.1h0M809.9,355.4h0M810.4,352.4h0M810.5,347.4h0M810.9,352.0h0M811.1,352.9h0M811.6,351.6h0M812.0,363.7h0M812.6,360.8h0M812.4,347.9h0M812.3,359.1h0M813.2,353.9h0M813.8,354.9h0M813.8,351.4h0M814.7,359.1h0M814.7,362.7h0M814.6,363.3h0M815.6,349.1h0M815.8,363.8h0M815.9,366.5h0M816.2,366.5h0M816.2,369.6h0M816.2,363.2h0M817.5,357.0h0M818.5,368.5h0M818.2,370.1h0M818.5,364.0h0M818.6,351.4h0M818.7,360.7h0M819.9,356.4h0M819.6,366.5h0M820.3,369.5h0M820.1,371.8h0M820.8,359.7h0M821.2,354.8h0M820.8,360.7h0M821.0,369.2h0M822.0,371.4h0M822.5,365.1h0M822.7,354.8h0M822.6,361.6h0M822.5,373.0h0M823.2,375.6h0M824.2,365.4h0M824.4,375.7h0M824.3,375.0h0M825.1,369.4h0M825.0,369.3h0M825.1,376.9h0M825.7,363.0h0M825.8,364.9h0M826.7,365.7h0M826.4,368.9h0M827.1,381.5h0M827.8,379.3h0M827.6,360.4h0M827.7,349.9h0M828.7,376.3h0M828.8,371.4h0M829.4,338.0h0M829.3,345.6h0M829.8,347.3h0M829.9,319.8h0M830.5,333.7h0M830.6,349.6h0M830.8,343.5h0M830.8,335.7h0M831.3,295.4h0M831.7,329.5h0M832.4,323.5h0M832.7,325.2h0M832.8,331.3h0M833.5,280.4h0M834.2,330.6h0M833.7,319.7h0M834.4,300.3h0M834.7,293.3h0M835.0,293.1h0M835.2,295.4h0M834.6,304.1h0M836.2,291.7h0M835.3,265.5h0M835.8,290.3h0M836.9,318.8h0M837.4,288.9h0M837.7,280.2h0M837.3,302.1h0M837.6,282.6h0M838.4,316.9h0M838.1,272.9h0M839.6,323.8h0M840.0,330.7h0M839.6,325.0h0M839.9,311.2h0M840.4,294.7h0M841.5,275.2h0M840.6,291.4h0M841.0,316.1h0M841.8,279.4h0M841.8,283.5h0M842.6,319.3h0M843.5,298.1h0M843.3,307.9h0M843.0,270.4h0M843.7,310.1h0M843.8,327.1h0M843.8,329.7h0M844.9,291.1h0M845.4,316.7h0M845.5,309.5h0M846.3,330.3h0M845.6,306.3h0M846.1,284.2h0M846.0,310.1h0M846.9,334.8h0M847.7,301.1h0M847.5,294.2h0M847.7,328.4h0M848.5,325.0h0M849.0,325.5h0M848.9,342.8h0M849.1,352.3h0M850.0,326.0h0M850.0,355.0h0M850.7,355.6h0M850.2,354.9h0M850.8,358.1h0M850.9,357.2h0M850.8,340.5h0M851.3,349.9h0M852.3,353.1h0M852.7,364.4h0M852.6,357.9h0M852.9,362.8h0M853.9,342.2h0M853.4,337.9h0M854.2,346.9h0M853.9,364.2h0M854.0,353.6h0M855.1,349.6h0M855.3,357.7h0M855.4,348.9h0M855.4,341.9h0M856.4,359.0h0M856.3,356.9h0M857.7,356.2h0M857.5,351.2h0M857.4,353.5h0M857.5,350.5h0M858.2,354.4h0M858.3,364.5h0M858.4,367.7h0M859.5,358.6h0M859.2,354.5h0M860.1,366.2h0M860.0,372.4h0M860.7,360.7h0M860.9,379.6h0M861.6,369.9h0M861.8,358.6h0M861.4,373.1h0M862.5,364.8h0M863.2,381.2h0M862.4,365.6h0M863.4,379.3h0M863.4,379.6h0M863.9,370.2h0M865.2,373.6h0M863.4,369.0h0M864.3,373.5h0M865.1,348.1h0M865.0,335.9h0M865.6,349.6h0M866.4,321.6h0M866.4,302.4h0M866.3,306.1h0M867.4,305.2h0M867.5,253.3h0M867.4,232.5h0M868.2,231.0h0M867.5,303.0h0M867.9,330.3h0M869.0,241.6h0M869.2,290.6h0M870.1,281.7h0M869.9,320.1h0M869.6,232.1h0M871.5,252.8h0M870.9,256.6h0M871.3,308.7h0M871.0,296.9h0M872.6,287.2h0M872.9,302.7h0M873.1,274.4h0M873.1,257.1h0M873.6,238.6h0M873.9,248.7h0M873.3,234.5h0M874.7,219.6h0M874.0,204.6h0M875.1,215.6h0M874.2,228.4h0M875.8,277.5h0M875.1,274.3h0M876.5,232.8h0M876.6,199.2h0M876.9,207.8h0M877.0,257.0h0M877.5,216.4h0M878.1,246.5h0M877.8,214.3h0M878.0,270.4h0M879.2,235.8h0M878.2,257.8h0M879.9,240.5h0M878.8,228.8h0M880.0,234.8h0M880.9,212.5h0M881.2,200.7h0M880.4,253.2h0M881.1,274.6h0M882.0,223.9h0M882.3,254.0h0M881.1,259.6h0M882.8,196.5h0M882.5,238.2h0M884.0,248.8h0M883.3,196.3h0M884.7,244.2h0M884.5,239.7h0M885.0,236.9h0M885.3,239.9h0M885.4,246.5h0M885.3,260.0h0M885.7,201.8h0M885.9,228.3h0M886.1,211.3h0M886.7,265.1h0M887.2,247.9h0M887.4,227.7h0M888.3,266.2h0M888.1,213.4h0M888.9,231.5h0M889.0,256.0h0M889.8,265.7h0M889.7,227.2h0M890.3,284.6h0M890.4,275.8h0M890.5,291.1h0M891.2,281.4h0M890.7,277.5h0M891.5,225.5h0M891.8,274.8h0M892.5,292.2h0M891.8,284.3h0M892.7,246.6h0M893.3,251.6h0M893.7,240.3h0M893.5,295.4h0M893.5,272.3h0M894.5,249.6h0M894.1,246.1h0M895.0,218.0h0M895.3,218.4h0M895.7,265.9h0M896.5,294.2h0M896.7,259.2h0M896.8,254.9h0M897.2,277.9h0M897.2,182.5h0M897.8,206.9h0M898.1,182.3h0M898.0,202.0h0M898.6,265.7h0M899.6,172.0h0M899.2,186.7h0M899.6,192.5h0M899.5,285.7h0M899.9,205.5h0M900.1,170.5h0M900.6,249.6h0M901.8,247.2h0M902.1,282.1h0M901.8,228.2h0M901.3,200.4h0M903.0,198.9h0M902.6,157.3h0M902.7,227.9h0M904.0,228.9h0M903.8,247.2h0M904.9,269.2h0M904.5,266.7h0M904.5,246.4h0M904.8,213.4h0M904.6,270.1h0M905.8,265.1h0M905.8,234.9h0M906.6,218.1h0M906.6,254.9h0M907.7,219.1h0M907.1,259.0h0M907.8,258.7h0M908.7,212.3h0M908.6,227.0h0M909.3,252.4h0M909.6,237.5h0M909.2,251.9h0M909.5,234.4h0M909.0,257.3h0M910.3,211.6h0M910.6,239.4h0M911.1,258.8h0M911.9,276.1h0M911.5,203.3h0M911.8,200.9h0M912.4,273.7h0M912.5,275.5h0M912.7,276.3h0M912.9,197.3h0M913.5,250.6h0M914.0,313.4h0M913.8,269.0h0M914.3,229.4h0M914.9,290.9h0M914.8,238.8h0M915.8,292.9h0M916.2,306.5h0M916.0,325.0h0M917.5,295.4h0M917.2,253.4h0M917.3,277.3h0M917.6,302.8h0M918.2,252.3h0M918.7,287.2h0M918.6,285.0h0M919.7,297.1h0M919.1,271.0h0M919.2,284.2h0M919.4,314.9h0M919.9,286.3h0M920.3,290.5h0M920.5,318.4h0M920.8,228.9h0M921.6,315.8h0M921.2,272.5h0M921.5,302.9h0M922.3,249.1h0M922.5,269.0h0M922.6,282.2h0M924.1,313.7h0M923.5,269.6h0M924.1,280.5h0M923.8,302.1h0M925.8,258.1h0M924.8,262.5h0M925.6,216.0h0M925.6,286.3h0M926.1,244.8h0M926.0,267.9h0M925.6,302.0h0M926.3,222.0h0M927.8,298.4h0M927.7,274.1h0M928.1,272.7h0M927.9,199.9h0M928.4,243.9h0M928.7,218.0h0M928.7,228.1h0M929.7,256.0h0M929.5,257.9h0M929.4,281.8h0M930.5,281.7h0M930.7,232.1h0M930.8,254.8h0M931.5,278.8h0M932.0,237.0h0M932.5,229.8h0M932.2,259.3h0M932.4,290.7h0M933.3,307.2h0M933.4,301.2h0M933.5,234.8h0M934.3,272.6h0M934.9,276.8h0M934.9,312.8h0M934.6,329.2h0M934.3,330.6h0M936.0,252.8h0M935.9,342.7h0M936.2,286.2h0M937.4,307.8h0M937.3,326.4h0M937.3,369.2h0M937.6,373.6h0M937.3,339.4h0M938.5,328.9h0M938.5,343.8h0M939.0,349.0h0M939.7,355.3h0M939.2,349.3h0M940.1,349.4h0M939.3,363.8h0M939.8,346.9h0M941.0,360.3h0M941.5,351.2h0M941.2,352.1h0M942.2,357.8h0M942.1,357.3h0M615.0,362.1h0M614.6,336.2h0M614.8,369.1h0M616.0,361.6h0M616.4,345.0h0M615.8,362.8h0M617.0,361.1h0M616.2,350.8h0M617.3,365.9h0M617.1,348.1h0M617.5,337.3h0M618.1,361.1h0M618.3,355.2h0M619.1,351.6h0M619.0,350.4h0M618.8,350.9h0M620.1,355.9h0M620.8,356.7h0M619.7,344.6h0M621.1,355.7h0M620.4,355.3h0M621.6,347.5h0M621.5,344.2h0M621.5,354.2h0M622.4,357.1h0M622.4,355.4h0M623.6,357.8h0M623.2,357.1h0M623.8,348.8h0M624.0,347.6h0M624.6,357.6h0M624.3,344.1h0M625.7,342.2h0M625.3,354.3h0M625.7,358.0h0M625.9,347.4h0M626.3,358.0h0M626.4,355.5h0M626.7,356.1h0M627.1,356.5h0M627.6,353.5h0M628.3,355.5h0M628.3,352.4h0M628.4,361.0h0M629.0,362.8h0M629.5,349.6h0M629.7,351.6h0M630.5,357.0h0M630.2,364.5h0M630.5,364.0h0M630.6,366.2h0M630.8,354.3h0M631.5,354.3h0M631.6,366.2h0M632.4,368.8h0M632.3,346.1h0M632.8,369.2h0M633.8,364.1h0M633.7,364.8h0M634.1,367.2h0M633.8,354.9h0M634.0,350.7h0M634.5,360.0h0M635.5,363.2h0M635.0,363.8h0M635.7,362.0h0M636.6,366.7h0M636.2,360.0h0M636.7,364.9h0M637.2,377.2h0M636.7,358.7h0M638.1,373.3h0M637.8,372.0h0M638.2,377.7h0M637.9,381.9h0M638.6,371.7h0M638.2,373.4h0M640.0,379.6h0M640.4,386.9h0M639.9,387.5h0M640.9,378.5h0M641.1,380.5h0M640.8,373.9h0M641.1,373.4h0M641.2,354.3h0M641.6,371.9h0M641.8,367.4h0M643.0,366.8h0M643.9,343.8h0M643.7,346.3h0M643.1,355.6h0M643.9,329.8h0M644.4,350.1h0M644.2,334.5h0M644.7,328.5h0M645.5,340.3h0M645.6,292.8h0M645.8,306.7h0M645.7,332.1h0M647.0,338.2h0M647.2,305.5h0M648.1,334.5h0M647.1,333.1h0M648.2,332.8h0M648.6,329.0h0M648.7,323.0h0M648.7,330.4h0M649.1,299.3h0M649.6,289.6h0M649.2,279.6h0M650.5,307.3h0M650.6,310.5h0M650.8,288.1h0M651.3,293.6h0M651.6,302.7h0M652.1,276.2h0M652.3,306.2h0M652.2,292.8h0M652.6,276.5h0M653.2,312.3h0M653.5,295.9h0M654.4,315.1h0M653.9,297.9h0M654.3,274.9h0M654.7,311.0h0M654.6,290.8h0M655.5,313.5h0M655.4,317.2h0M655.9,316.3h0M656.1,316.6h0M656.7,288.7h0M657.2,320.6h0M656.4,297.4h0M657.7,316.2h0M658.2,291.2h0M658.0,324.8h0M658.5,327.1h0M659.7,304.4h0M659.2,305.7h0M659.9,328.3h0M659.6,319.4h0M660.7,342.4h0M660.0,338.7h0M661.0,345.9h0M661.2,319.0h0M661.7,340.9h0M661.9,342.3h0M662.5,355.0h0M662.2,353.8h0M662.4,349.8h0M663.4,352.9h0M663.6,351.7h0M663.1,345.9h0M664.9,354.8h0M664.5,356.5h0M664.8,345.8h0M664.6,351.8h0M665.6,354.6h0M666.0,344.2h0M666.4,346.8h0M666.1,354.0h0M668.1,353.5h0M667.5,348.8h0M667.8,352.4h0M668.6,358.7h0M668.1,352.9h0M668.5,345.7h0M667.9,352.5h0M668.4,343.9h0M669.4,346.1h0M669.8,356.5h0M670.0,358.5h0M670.2,351.7h0M671.0,356.0h0M671.3,359.7h0M671.2,362.3h0M671.7,356.0h0M672.2,360.3h0M672.4,362.8h0M672.1,359.8h0M672.9,362.1h0M673.1,368.3h0M674.2,365.8h0M673.6,371.4h0M674.2,369.8h0M674.5,371.8h0M674.8,372.6h0M674.7,362.8h0M676.3,362.4h0M675.9,367.8h0M676.4,375.4h0M676.7,380.1h0M676.7,364.8h0M678.2,378.0h0M676.7,382.0h0M677.8,381.3h0M678.7,377.9h0M678.0,379.4h0M678.8,378.8h0M679.3,374.5h0M679.3,366.7h0M679.7,368.7h0M680.4,378.3h0M680.4,369.5h0M681.6,373.0h0M681.4,372.3h0M682.0,375.1h0M682.0,372.2h0M681.7,374.4h0M682.4,365.3h0M682.7,367.3h0M683.1,372.4h0M682.7,370.2h0M683.9,372.4h0M684.2,363.9h0M684.4,362.5h0M684.2,368.1h0M685.7,364.1h0M685.2,363.6h0M685.5,363.0h0M685.2,349.6h0M686.6,363.3h0M687.0,362.7h0M687.4,361.9h0M686.5,360.0h0M688.1,340.1h0M687.8,344.2h0M688.2,345.0h0M688.3,354.3h0M689.1,348.5h0M689.6,343.4h0M689.6,332.4h0M689.8,330.9h0M690.7,327.4h0M690.5,335.6h0M691.0,318.5h0M691.0,302.8h0M691.6,321.3h0M692.0,321.2h0M691.9,310.9h0M692.0,322.7h0M692.7,326.0h0M692.6,322.7h0M693.4,323.3h0M694.2,309.5h0M694.0,304.9h0M693.5,317.3h0M694.4,309.4h0M695.2,308.6h0M695.5,314.8h0M695.4,317.1h0M697.5,299.9h0M696.6,326.2h0M696.4,318.4h0M697.6,311.4h0M697.7,309.0h0M698.7,300.6h0M698.2,302.8h0M698.4,327.9h0M698.2,314.8h0M699.0,307.2h0M698.9,327.0h0M700.0,329.2h0M699.7,338.8h0M701.3,306.6h0M700.6,321.2h0M701.9,348.2h0M700.7,345.1h0M701.4,299.5h0M701.4,301.8h0M701.8,326.2h0M702.6,345.2h0M702.2,352.9h0M703.5,338.1h0M703.5,314.3h0M703.7,354.7h0M704.0,355.5h0M704.3,313.5h0M705.9,351.3h0M705.1,345.1h0M705.4,344.2h0M705.6,340.0h0M706.5,359.9h0M706.6,361.8h0M706.9,347.5h0M706.4,363.2h0M707.4,330.6h0M708.2,357.6h0M707.8,365.4h0M708.9,362.7h0M708.9,361.6h0M709.2,363.1h0M708.6,332.8h0M710.0,361.7h0M709.8,341.8h0M710.3,339.4h0M711.1,348.1h0M711.6,344.1h0M711.8,346.8h0M712.3,350.7h0M712.5,354.1h0M711.7,357.3h0M712.8,357.3h0M712.4,361.7h0M712.9,356.1h0M713.1,348.3h0M713.6,346.7h0M714.3,359.1h0M714.2,369.7h0M715.0,367.3h0M715.7,367.5h0M715.7,357.8h0M715.2,368.7h0M716.1,363.0h0M716.8,377.9h0M716.8,357.3h0M717.4,354.7h0M717.2,373.7h0M717.7,378.2h0M718.5,361.6h0M718.1,361.6h0M718.8,368.4h0M719.1,365.4h0M719.3,365.1h0M720.0,374.5h0M720.6,370.6h0M720.4,363.9h0M720.5,354.7h0M721.0,354.0h0M722.0,351.1h0M721.4,356.8h0M721.7,366.9h0M722.2,370.0h0M723.0,366.0h0M723.0,360.6h0M723.6,354.8h0M723.3,375.9h0M723.9,349.7h0M723.9,369.6h0M724.3,365.5h0M725.1,367.7h0M725.2,353.9h0M726.5,357.7h0M726.4,371.0h0M726.3,375.4h0M726.5,362.8h0M726.4,378.7h0M726.6,367.1h0M728.0,372.4h0M727.7,358.8h0M728.3,365.7h0M728.6,365.8h0M729.2,359.4h0M729.9,362.3h0M729.9,360.3h0M729.8,357.9h0M730.7,346.5h0M730.7,350.3h0M730.8,342.8h0M731.2,342.0h0M731.9,353.1h0M732.4,355.3h0M731.9,349.0h0M732.4,336.3h0M732.3,348.7h0M733.5,352.6h0M733.4,351.8h0M734.4,347.4h0M734.7,354.7h0M734.5,346.1h0M734.9,317.1h0M734.8,344.9h0M735.1,351.0h0M735.7,319.9h0M736.0,340.6h0M737.1,336.6h0M736.5,335.7h0M737.3,315.9h0M737.3,316.4h0M737.7,312.2h0M738.2,321.6h0M737.9,296.7h0M739.0,312.8h0M739.5,288.2h0M739.7,302.7h0M739.6,278.9h0M739.6,315.4h0M740.6,289.0h0M740.4,318.7h0M741.0,285.0h0M740.6,305.3h0M741.0,284.5h0M741.8,303.5h0M742.1,269.6h0M742.2,315.1h0M742.2,272.3h0M743.3,238.3h0M742.9,314.1h0M743.6,279.8h0M744.5,265.0h0M744.5,280.4h0M745.0,266.0h0M745.2,299.8h0M745.5,290.5h0M745.7,295.3h0M745.7,302.8h0M746.9,306.0h0M746.9,242.3h0M747.2,273.5h0M748.6,275.4h0M747.4,287.6h0M748.5,268.2h0M748.5,262.0h0M748.2,261.3h0M748.8,233.9h0M749.2,268.6h0M749.1,267.1h0M749.8,303.3h0M750.7,235.4h0M751.2,284.5h0M751.1,310.1h0M751.4,277.9h0M751.6,289.0h0M751.7,309.2h0M752.2,245.9h0M752.8,263.8h0M752.4,282.4h0M753.2,261.1h0M753.7,317.4h0M754.0,287.5h0M753.7,283.8h0M755.2,317.6h0M755.1,301.1h0M754.9,312.4h0M755.4,314.1h0M756.2,318.0h0M756.6,301.8h0M756.2,291.3h0M756.5,316.3h0M757.7,313.5h0M757.7,279.2h0M757.8,314.0h0M758.0,304.8h0M758.4,301.5h0M758.4,283.2h0M759.5,281.6h0M759.5,306.4h0M759.9,301.9h0M761.1,306.2h0M760.6,293.2h0M760.3,303.4h0M760.8,266.7h0M761.8,294.6h0M762.2,291.8h0M762.1,281.9h0M762.3,293.8h0M763.1,257.0h0M762.6,274.4h0M763.0,285.3h0M763.6,273.4h0M764.2,299.8h0M764.4,246.1h0M764.8,256.1h0M764.5,288.5h0M765.2,224.5h0M765.6,252.7h0M765.8,293.2h0M766.1,282.9h0M766.8,316.3h0M766.8,289.4h0M766.9,284.9h0M768.0,319.8h0M768.0,323.3h0M767.6,312.7h0M768.7,315.4h0M769.7,281.0h0M769.6,280.1h0M770.0,329.9h0M770.4,334.1h0M770.4,319.0h0M770.2,310.0h0M771.2,332.7h0M770.7,300.7h0M771.5,338.9h0M772.1,325.2h0M772.3,325.8h0M772.3,328.5h0M772.3,324.7h0M773.9,308.1h0M773.7,331.1h0M773.5,318.4h0M773.7,334.6h0M774.5,331.4h0M774.8,322.7h0M775.1,327.9h0M775.9,317.3h0M775.4,326.7h0M776.2,323.0h0M777.1,328.5h0M776.1,342.5h0M776.9,302.6h0M777.9,306.0h0M777.2,300.5h0M778.3,312.2h0M777.5,313.2h0M778.5,340.7h0M778.9,325.9h0M779.1,335.9h0M779.8,321.0h0M780.2,324.1h0M780.6,341.2h0M780.4,313.6h0M780.6,310.4h0M781.7,299.1h0M781.3,303.9h0M782.1,340.8h0M782.0,308.6h0M782.8,328.0h0M784.0,314.6h0M783.5,327.8h0M784.7,326.8h0M783.6,333.2h0M784.2,292.0h0M784.6,314.1h0M784.8,303.7h0M785.5,317.0h0M785.8,324.6h0M785.9,285.6h0M786.8,327.7h0M786.1,330.5h0M786.5,324.6h0M786.2,331.7h0M787.5,314.7h0M787.6,310.1h0M788.2,319.8h0M788.1,334.7h0M788.4,327.6h0M789.1,306.0h0M789.1,297.3h0M789.8,293.5h0M790.1,315.9h0M790.3,314.0h0M791.0,317.7h0M791.0,289.0h0M791.2,331.9h0M791.3,310.3h0M792.1,336.0h0M792.0,312.8h0M793.0,288.1h0M793.1,336.1h0M793.1,337.2h0M793.2,287.2h0M793.4,310.1h0M794.8,328.6h0M793.7,312.0h0M794.6,296.8h0M796.3,318.8h0M795.9,318.5h0M796.5,328.0h0M796.4,317.6h0M796.6,297.5h0M797.0,305.8h0M796.4,317.6h0M797.0,326.8h0M797.5,327.5h0M797.7,322.3h0M798.0,320.5h0M799.8,291.6h0M798.8,295.3h0M799.8,307.1h0M799.0,307.0h0M799.3,328.8h0M800.4,332.8h0M801.0,331.1h0M800.6,340.0h0M801.3,341.9h0M802.3,344.5h0M802.5,345.5h0M802.0,349.3h0M803.4,338.4h0M803.7,350.9h0M803.7,354.5h0M803.1,341.3h0M803.7,355.8h0M804.5,356.5h0M804.6,355.3h0M805.0,349.8h0M805.5,348.7h0M805.7,352.4h0M806.3,339.6h0M806.9,347.1h0M806.7,348.9h0M806.8,358.5h0M807.3,356.0h0M807.1,356.5h0M808.0,358.0h0M808.7,353.5h0M807.8,360.2h0M808.1,355.4h0M809.6,353.0h0M809.3,345.0h0M809.8,349.9h0M810.4,351.6h0M811.2,355.2h0M811.2,360.9h0M811.6,359.8h0M811.8,354.7h0M811.5,352.6h0M812.3,362.1h0M813.1,352.4h0M811.7,364.8h0M812.3,352.5h0M813.7,360.3h0M813.3,361.6h0M814.0,348.1h0M814.5,362.2h0M815.4,356.0h0M815.0,357.4h0M815.5,352.7h0M816.2,367.9h0M815.7,358.0h0M815.8,361.8h0M817.2,355.9h0M816.1,358.0h0M816.7,366.9h0M817.1,360.6h0M818.3,366.0h0M818.6,362.6h0M818.8,364.8h0M819.4,362.4h0M819.0,360.5h0M819.5,367.5h0M819.7,358.5h0M820.3,370.7h0M820.6,367.2h0M820.4,358.1h0M821.4,358.5h0M821.8,365.8h0M822.2,358.6h0M822.1,360.1h0M822.6,362.9h0M822.7,370.9h0M822.4,364.0h0M824.0,356.1h0M824.3,370.2h0M823.8,372.5h0M824.4,360.6h0M824.9,372.4h0M825.3,361.8h0M825.5,369.6h0M825.8,380.9h0M826.2,370.8h0M825.8,383.2h0M826.8,375.1h0M827.0,376.4h0M828.2,383.1h0M828.4,365.2h0M828.2,378.4h0M828.2,370.2h0M829.0,366.4h0M828.7,370.9h0M829.9,367.9h0M829.6,361.2h0M830.0,361.0h0M829.9,355.5h0M830.3,334.3h0M831.7,355.9h0M831.5,291.8h0M831.5,350.1h0M832.4,349.0h0M832.2,310.6h0M832.7,333.7h0M833.1,315.6h0M833.0,332.7h0M833.6,328.2h0M834.3,300.6h0M834.4,314.3h0M834.0,278.2h0M834.8,310.8h0M836.2,293.4h0M835.2,282.9h0M835.6,292.4h0M836.2,285.9h0M836.0,300.0h0M836.1,288.5h0M837.7,290.0h0M836.8,292.9h0M838.2,296.0h0M838.2,307.0h0M838.6,285.3h0M839.6,315.5h0M838.7,328.6h0M838.8,300.4h0M840.2,316.7h0M840.5,308.8h0M840.6,307.7h0M840.4,297.8h0M840.5,324.0h0M841.3,324.4h0M841.9,322.6h0M841.6,316.1h0M842.8,287.0h0M842.4,307.7h0M842.9,309.0h0M843.8,327.5h0M843.5,319.9h0M844.4,329.0h0M844.4,327.5h0M844.3,320.4h0M844.7,295.7h0M845.5,330.9h0M845.9,333.5h0M846.2,285.8h0M846.8,299.3h0M846.9,325.2h0M847.1,305.9h0M847.1,299.6h0M847.5,332.6h0M847.5,304.7h0M848.0,332.1h0M848.5,329.2h0M848.7,338.8h0M848.4,346.0h0M849.0,350.0h0M850.4,345.1h0M849.6,345.6h0M851.0,349.6h0M850.9,340.6h0M851.4,351.2h0M851.7,355.3h0M851.6,345.3h0M851.8,355.2h0M852.2,344.8h0M853.0,348.9h0M852.6,339.2h0M853.4,355.9h0M853.8,364.8h0M854.3,351.0h0M854.5,351.4h0M854.2,363.4h0M855.8,362.8h0M855.1,349.3h0M856.0,346.8h0M856.0,345.9h0M856.3,348.0h0M856.4,356.3h0M857.6,343.3h0M857.2,358.4h0M857.1,351.0h0M857.4,358.6h0M858.0,365.4h0M859.0,366.5h0M858.8,365.4h0M859.3,365.4h0M860.0,371.0h0M860.2,369.9h0M860.6,358.1h0M860.8,360.1h0M860.9,377.4h0M861.3,369.7h0M861.7,367.5h0M862.0,380.2h0M862.2,375.6h0M862.3,381.6h0M862.5,374.4h0M863.1,377.9h0M863.2,379.0h0M863.2,381.2h0M864.5,371.2h0M864.1,351.6h0M865.1,361.3h0M865.3,355.9h0M865.4,364.8h0M866.4,365.6h0M865.5,359.1h0M866.4,287.9h0M867.3,345.9h0M867.2,331.8h0M867.1,341.4h0M867.2,302.5h0M868.1,289.2h0M867.8,282.6h0M869.0,320.8h0M869.2,252.5h0M868.4,302.1h0M869.4,309.3h0M870.5,258.7h0M870.6,259.1h0M870.2,214.6h0M870.5,275.1h0M870.8,307.4h0M871.3,307.3h0M872.1,274.8h0M872.3,268.3h0M873.1,290.4h0M873.1,256.8h0M873.6,272.0h0M872.6,287.1h0M873.8,297.3h0M874.0,222.2h0M874.2,278.6h0M874.4,285.1h0M874.0,290.7h0M876.2,272.9h0M875.5,270.8h0M876.6,245.0h0M876.3,274.7h0M877.0,257.5h0M877.4,274.1h0M878.0,195.2h0M877.5,249.1h0M878.2,208.8h0M878.3,204.4h0M879.0,242.8h0M879.6,269.8h0M879.0,245.3h0M880.1,269.4h0M879.9,251.6h0M879.7,242.5h0M879.6,265.6h0M880.7,271.0h0M881.5,269.1h0M881.7,224.5h0M881.7,277.1h0M882.2,249.1h0M882.7,272.1h0M883.3,253.5h0M882.9,220.3h0M883.2,275.6h0M884.4,238.3h0M884.2,259.8h0M884.2,247.3h0M885.4,250.1h0M885.4,255.4h0M885.3,275.7h0M885.9,231.9h0M886.2,283.2h0M886.1,277.0h0M886.5,277.1h0M887.8,272.9h0M887.7,226.3h0M887.9,233.0h0M888.2,282.6h0M888.4,223.0h0M889.6,267.4h0M889.1,290.6h0M889.9,269.4h0M889.7,280.9h0M890.4,281.9h0M889.8,264.8h0M890.7,242.2h0M891.4,287.1h0M891.5,244.3h0M891.5,257.5h0M892.3,261.9h0M893.0,292.4h0M891.8,256.6h0M893.1,271.0h0M893.4,287.7h0M893.8,294.8h0M893.6,290.2h0M894.9,289.9h0M894.3,280.1h0M895.0,266.5h0M895.6,253.6h0M896.0,272.3h0M896.6,290.0h0M895.9,274.2h0M896.3,285.2h0M897.3,276.5h0M897.5,264.5h0M897.6,283.3h0M897.0,264.3h0M898.2,278.9h0M898.5,269.1h0M898.8,246.1h0M898.6,247.7h0M900.0,194.2h0M899.3,198.7h0M900.4,239.3h0M900.3,260.0h0M901.3,281.4h0M900.9,192.7h0M901.2,266.3h0M902.2,282.1h0M901.7,167.0h0M902.7,235.1h0M902.6,254.0h0M903.1,249.4h0M903.9,203.4h0M904.1,200.9h0M903.9,221.8h0M904.6,263.2h0M904.9,184.7h0M905.4,231.4h0M905.2,198.4h0M906.4,228.6h0M905.8,258.5h0M905.8,266.7h0M906.6,250.0h0M907.1,229.0h0M908.3,245.1h0M907.3,222.7h0M907.9,253.6h0M908.1,261.7h0M908.7,219.2h0M908.9,276.5h0M909.8,274.0h0M909.3,280.8h0M909.7,272.8h0M910.5,256.2h0M910.6,256.4h0M911.3,211.9h0M911.0,270.2h0M911.9,267.6h0M911.7,285.8h0M911.9,203.7h0M912.9,302.3h0M913.0,304.3h0M913.3,258.3h0M913.1,277.8h0M913.6,272.0h0M914.3,304.5h0M914.2,310.9h0M914.4,315.9h0M914.9,284.5h0M915.4,332.0h0M915.3,314.2h0M916.5,312.5h0M915.9,307.6h0M916.7,267.5h0M917.1,320.1h0M917.2,260.1h0M917.7,317.7h0M917.3,285.3h0M918.2,298.8h0M918.9,308.9h0M919.1,317.0h0M919.2,295.0h0M919.8,320.0h0M919.9,284.9h0M920.2,286.3h0M920.9,311.5h0M920.8,293.0h0M921.0,297.0h0M921.9,247.9h0M922.8,310.8h0M921.5,270.5h0M923.1,246.8h0M923.6,309.8h0M923.0,267.2h0M923.1,259.9h0M923.5,300.3h0M924.5,309.6h0M924.2,270.7h0M924.2,269.5h0M924.5,258.0h0M925.7,249.0h0M925.8,296.3h0M926.2,280.7h0M926.4,285.9h0M927.3,263.0h0M927.0,250.5h0M927.5,252.6h0M928.2,242.3h0M928.3,257.6h0M927.9,257.9h0M929.4,280.9h0M928.8,261.1h0M929.0,284.7h0M929.9,259.3h0M929.5,294.6h0M930.2,236.5h0M931.1,226.8h0M931.2,286.5h0M931.4,282.6h0M932.2,284.3h0M931.8,284.0h0M932.0,277.7h0M933.1,277.4h0M933.6,300.8h0M933.4,259.2h0M933.8,274.8h0M934.2,264.6h0M934.2,290.7h0M933.8,297.8h0M935.2,265.4h0M935.1,339.1h0M935.7,316.3h0M935.9,328.3h0M936.7,355.4h0M936.7,357.1h0M936.9,364.8h0M936.4,357.6h0M937.4,356.2h0M938.5,337.5h0M938.9,360.2h0M938.8,347.8h0M938.9,362.2h0M939.1,343.1h0M938.7,366.2h0M939.5,364.5h0M940.3,365.2h0M940.3,357.9h0M941.0,356.4h0M941.3,357.7h0M942.0,358.3h0M942.2,356.9h0M942.3,359.2h0M899.8,91.6h0M904.3,106.9h0M835.8,230.7h0M928.1,163.8h0M928.1,179.9h0M930.9,187.0h0M927.6,192.5h0M929.2,210.3h0M924.2,215.3h0M785.6,261.5h0M788.1,267.4h0M796.4,252.4h0M798.9,255.7h0M798.1,260.7h0M793.9,266.5h0M798.9,268.2h0M834.6,249.6h0M844.1,246.3h0M835.8,231.7h0M938.4,318.0h0M938.4,326.3h0M938.4,336.2h0M940.0,344.6h0M941.7,344.6h0M655.2,253.2h0M658.5,264.9h0M730.7,312.2h0M730.7,321.3h0M730.7,327.9h0M733.2,332.9h0M736.5,309.7h0M615.3,319.6h0M615.3,327.9h0M762.7,184.6h0" stroke="#000" stroke-width="5.3" stroke-linecap="round" fill="none"/>
<path d="M614.5,367.1 614.8,375.0 615.2,380.0 615.5,373.6 615.8,379.7 616.1,374.1 616.5,379.0 616.8,378.6 617.1,373.6 617.4,377.2 617.8,367.2 618.1,358.2 618.4,349.8 618.7,352.8 619.1,354.3 619.4,355.0 619.7,352.4 620.0,367.2 620.4,360.8 620.7,353.8 621.0,367.3 621.3,375.3 621.7,375.5 622.0,355.9 622.3,351.6 622.6,360.1 623.0,360.6 623.3,375.8 623.6,358.6 623.9,366.1 624.3,358.8 624.6,372.7 624.9,369.0 625.2,377.4 625.6,367.2 625.9,352.5 626.2,347.6 626.5,348.1 626.9,348.7 627.2,359.9 627.5,375.6 627.8,376.3 628.2,363.7 628.5,364.1 628.8,358.7 629.1,376.9 629.5,378.6 629.8,381.8 630.1,375.0 630.4,354.6 630.8,355.0 631.1,355.4 631.4,357.3 631.7,363.1 632.1,358.0 632.4,358.7 632.7,380.2 633.0,368.9 633.4,361.3 633.7,363.4 634.0,359.9 634.3,360.4 634.7,371.3 635.0,392.4 635.3,369.6 635.6,372.6 636.0,375.5 636.3,376.4 636.6,376.2 636.9,374.9 637.3,386.3 637.6,381.3 637.9,381.0 638.2,381.9 638.6,383.6 638.9,382.8 639.2,390.9 639.5,389.3 639.9,389.6 640.2,388.5 640.5,379.7 640.8,372.9 641.2,368.2 641.5,368.5 641.8,362.8 642.1,360.1 642.5,359.9 642.8,367.4 643.1,352.0 643.4,371.2 643.8,369.4 644.1,365.7 644.4,378.9 644.7,374.4 645.1,360.4 645.4,383.2 645.7,364.0 646.0,358.3 646.4,367.2 646.7,345.9 647.0,343.8 647.3,348.3 647.7,365.0 648.0,353.7 648.3,347.7 648.6,351.1 649.0,346.2 649.3,327.9 649.6,333.4 649.9,334.2 650.3,338.3 650.6,348.8 650.9,349.6 651.2,349.2 651.6,348.8 651.9,331.8 652.2,329.6 652.5,331.8 652.9,326.3 653.2,327.8 653.5,318.4 653.8,338.1 654.2,345.9 654.5,345.5 654.8,344.6 655.1,336.6 655.5,345.6 655.8,346.7 656.1,345.0 656.4,338.8 656.8,338.8 657.1,325.6 657.4,336.2 657.7,327.5 658.1,336.6 658.4,338.5 658.7,352.0 659.0,348.3 659.4,358.3 659.7,345.2 660.0,354.9 660.3,352.9 660.7,357.3 661.0,360.0 661.3,372.3 661.6,350.6 662.0,359.1 662.3,347.6 662.6,362.0 662.9,347.3 663.3,347.2 663.6,347.1 663.9,353.7 664.2,346.9 664.6,349.8 664.9,348.1 665.2,346.6 665.5,346.5 665.9,350.6 666.2,351.1 666.5,359.3 666.8,355.9 667.2,356.7 667.5,354.8 667.8,358.6 668.1,370.6 668.5,371.3 668.8,370.7 669.1,363.6 669.4,357.5 669.8,370.2 670.1,359.6 670.4,353.5 670.7,355.6 671.1,354.6 671.4,373.6 671.7,351.8 672.0,359.4 672.4,368.1 672.7,359.8 673.0,358.1 673.3,365.8 673.7,381.2 674.0,372.3 674.3,361.3 674.6,373.6 675.0,386.9 675.3,382.4 675.6,366.4 675.9,381.3 676.3,380.5 676.6,390.1 676.9,388.1 677.2,383.6 677.6,379.6 677.9,391.5 678.2,394.5 678.5,377.8 678.9,370.9 679.2,388.3 679.5,383.0 679.8,370.6 680.2,373.1 680.5,373.9 680.8,374.5 681.1,371.4 681.5,370.6 681.8,368.5 682.1,374.3 682.4,367.2 682.8,367.1 683.1,368.3 683.4,384.1 683.7,386.1 684.1,382.3 684.4,386.5 684.7,388.1 685.0,394.5 685.4,394.5 685.7,394.5 686.0,394.5 686.3,394.5 686.7,392.0 687.0,392.9 687.3,391.0 687.6,384.6 688.0,359.9 688.3,344.9 688.6,347.3 688.9,359.4 689.3,367.9 689.6,347.5 689.9,361.2 690.2,351.9 690.6,357.2 690.9,361.5 691.2,348.3 691.5,341.2 691.9,330.0 692.2,329.2 692.5,328.4 692.8,327.6 693.2,326.8 693.5,347.1 693.8,353.5 694.1,342.2 694.5,349.7 694.8,343.0 695.1,354.8 695.4,358.5 695.8,338.3 696.1,340.8 696.4,343.6 696.7,338.8 697.1,357.7 697.4,377.9 697.7,369.3 698.0,357.5 698.4,321.0 698.7,324.8 699.0,326.3 699.3,326.5 699.7,328.4 700.0,341.5 700.3,335.7 700.6,337.6 701.0,335.7 701.3,350.9 701.6,339.4 701.9,341.3 702.3,371.5 702.6,370.3 702.9,374.3 703.2,369.9 703.6,355.2 703.9,357.9 704.2,364.8 704.5,354.0 704.9,361.5 705.2,376.5 705.5,383.8 705.8,363.6 706.2,354.9 706.5,351.2 706.8,360.8 707.1,369.2 707.5,376.1 707.8,365.8 708.1,356.0 708.4,360.4 708.8,363.0 709.1,355.2 709.4,359.4 709.7,367.9 710.1,369.7 710.4,356.2 710.7,345.9 711.0,344.8 711.4,346.0 711.7,347.3 712.0,347.9 712.3,346.3 712.7,361.5 713.0,363.7 713.3,367.7 713.6,358.6 714.0,356.7 714.3,364.1 714.6,357.7 714.9,359.3 715.3,360.9 715.6,374.8 715.9,378.5 716.2,392.3 716.6,388.5 716.9,383.7 717.2,370.8 717.5,368.2 717.9,383.8 718.2,385.4 718.5,390.1 718.8,393.3 719.2,389.1 719.5,384.2 719.8,383.5 720.1,388.2 720.5,389.5 720.8,390.8 721.1,388.4 721.4,377.6 721.8,374.9 722.1,366.8 722.4,379.8 722.7,362.9 723.1,363.5 723.4,389.9 723.7,383.9 724.0,372.7 724.4,374.8 724.7,387.7 725.0,384.4 725.3,388.7 725.7,387.5 726.0,382.9 726.3,394.4 726.6,394.5 727.0,391.1 727.3,383.1 727.6,385.0 727.9,386.7 728.3,392.2 728.6,389.0 728.9,366.3 729.2,374.2 729.6,368.4 729.9,363.8 730.2,344.5 730.5,342.3 730.9,341.3 731.2,343.1 731.5,342.3 731.8,342.9 732.2,350.0 732.5,343.9 732.8,344.4 733.1,344.9 733.5,356.6 733.8,346.0 734.1,346.5 734.4,347.0 734.8,347.5 735.1,349.0 735.4,342.1 735.7,345.7 736.1,334.8 736.4,363.2 736.7,370.1 737.0,369.3 737.4,347.0 737.7,326.0 738.0,343.7 738.3,336.9 738.7,331.8 739.0,337.2 739.3,316.3 739.6,332.5 740.0,332.3 740.3,339.0 740.6,326.3 740.9,334.7 741.3,322.7 741.6,338.0 741.9,351.2 742.2,351.2 742.6,350.4 742.9,349.6 743.2,309.8 743.5,325.4 743.9,321.4 744.2,323.2 744.5,319.4 744.8,302.9 745.2,302.4 745.5,315.5 745.8,336.4 746.1,324.2 746.5,311.3 746.8,334.2 747.1,318.5 747.4,344.7 747.8,341.7 748.1,323.4 748.4,336.9 748.7,344.7 749.1,326.0 749.4,344.7 749.7,335.8 750.0,345.5 750.4,340.8 750.7,313.4 751.0,325.0 751.3,339.9 751.7,351.2 752.0,352.3 752.3,353.5 752.6,354.6 753.0,347.6 753.3,339.5 753.6,325.3 753.9,323.1 754.3,308.8 754.6,308.6 754.9,310.6 755.2,352.2 755.6,353.1 755.9,342.1 756.2,346.2 756.5,324.3 756.9,317.2 757.2,306.8 757.5,323.6 757.8,332.7 758.2,315.1 758.5,316.8 758.8,333.1 759.1,338.8 759.5,341.4 759.8,322.4 760.1,311.3 760.4,315.9 760.8,335.0 761.1,315.3 761.4,293.8 761.7,324.8 762.1,303.3 762.4,331.7 762.7,334.1 763.0,351.1 763.4,358.4 763.7,358.6 764.0,358.8 764.3,346.3 764.7,327.2 765.0,340.8 765.3,359.6 765.6,359.8 766.0,360.0 766.3,360.2 766.6,360.4 766.9,360.6 767.3,360.8 767.6,358.9 767.9,337.6 768.2,353.2 768.6,335.2 768.9,345.5 769.2,325.7 769.5,347.9 769.9,333.9 770.2,351.0 770.5,329.2 770.8,330.3 771.2,354.2 771.5,343.3 771.8,346.1 772.1,340.8 772.5,330.4 772.8,330.2 773.1,338.2 773.4,329.8 773.8,338.5 774.1,332.5 774.4,329.5 774.7,331.9 775.1,329.7 775.4,356.3 775.7,338.3 776.0,348.4 776.4,358.7 776.7,334.8 777.0,330.2 777.3,333.9 777.7,332.6 778.0,341.8 778.3,357.7 778.6,351.5 779.0,338.5 779.3,330.8 779.6,330.8 779.9,330.9 780.3,332.1 780.6,341.1 780.9,330.7 781.2,355.4 781.6,368.2 781.9,371.8 782.2,351.1 782.5,344.9 782.9,338.4 783.2,335.4 783.5,326.8 783.8,335.6 784.2,341.1 784.5,346.6 784.8,339.4 785.1,356.4 785.5,354.7 785.8,323.4 786.1,322.9 786.4,322.5 786.8,339.1 787.1,335.5 787.4,333.8 787.7,328.3 788.1,340.3 788.4,335.9 788.7,331.0 789.0,326.0 789.4,337.8 789.7,333.7 790.0,325.7 790.3,332.9 790.7,328.6 791.0,338.0 791.3,345.0 791.6,359.7 792.0,365.9 792.3,356.5 792.6,351.6 792.9,334.7 793.3,357.2 793.6,358.8 793.9,364.2 794.2,359.6 794.6,329.6 794.9,351.8 795.2,350.0 795.5,349.0 795.9,347.1 796.2,353.2 796.5,356.1 796.8,330.1 797.2,346.5 797.5,336.6 797.8,330.1 798.1,355.2 798.5,358.6 798.8,349.8 799.1,321.0 799.4,329.4 799.8,340.4 800.1,340.7 800.4,328.2 800.7,326.7 801.1,329.2 801.4,332.0 801.7,346.0 802.0,357.3 802.4,350.7 802.7,354.4 803.0,359.5 803.3,355.5 803.7,355.1 804.0,368.9 804.3,369.8 804.6,370.7 805.0,367.1 805.3,365.9 805.6,350.4 805.9,353.3 806.3,366.2 806.6,376.2 806.9,377.1 807.2,378.0 807.6,379.4 807.9,373.8 808.2,370.6 808.5,376.8 808.9,366.1 809.2,378.0 809.5,364.5 809.8,349.8 810.2,350.1 810.5,350.3 810.8,350.6 811.1,350.8 811.5,354.3 811.8,362.7 812.1,380.6 812.4,392.8 812.8,380.9 813.1,390.8 813.4,389.7 813.7,384.6 814.1,384.8 814.4,365.9 814.7,359.5 815.0,361.6 815.4,369.2 815.7,365.9 816.0,365.7 816.3,373.6 816.7,379.5 817.0,378.5 817.3,378.2 817.6,378.8 818.0,374.5 818.3,375.6 818.6,372.3 818.9,368.5 819.3,381.1 819.6,377.3 819.9,368.9 820.2,373.7 820.6,384.7 820.9,384.7 821.2,386.0 821.5,383.6 821.9,377.3 822.2,371.2 822.5,371.5 822.8,388.1 823.2,375.8 823.5,389.5 823.8,378.6 824.1,377.0 824.5,384.3 824.8,388.0 825.1,388.2 825.4,374.3 825.8,379.3 826.1,373.1 826.4,393.5 826.7,389.8 827.1,389.7 827.4,379.0 827.7,374.7 828.0,366.9 828.4,374.7 828.7,371.7 829.0,376.1 829.3,368.0 829.7,363.1 830.0,376.0 830.3,363.2 830.6,350.2 831.0,353.0 831.3,346.1 831.6,342.3 831.9,352.7 832.3,340.8 832.6,352.8 832.9,340.5 833.2,360.6 833.6,366.7 833.9,355.6 834.2,345.5 834.5,327.0 834.9,329.3 835.2,346.7 835.5,314.6 835.8,335.3 836.2,312.8 836.5,305.6 836.8,307.5 837.1,333.8 837.5,336.2 837.8,340.8 838.1,332.0 838.4,349.2 838.8,321.5 839.1,326.8 839.4,361.1 839.7,350.9 840.1,349.1 840.4,358.2 840.7,340.8 841.0,341.7 841.4,359.4 841.7,359.0 842.0,362.3 842.3,349.8 842.7,353.3 843.0,350.9 843.3,369.7 843.6,368.4 844.0,360.8 844.3,318.8 844.6,336.0 844.9,347.8 845.3,334.2 845.6,322.4 845.9,323.5 846.2,329.3 846.6,326.8 846.9,329.1 847.2,337.2 847.5,357.4 847.9,358.7 848.2,359.3 848.5,354.8 848.8,380.0 849.2,387.3 849.5,387.0 849.8,363.5 850.1,355.0 850.5,365.8 850.8,358.1 851.1,370.4 851.4,372.8 851.8,373.4 852.1,376.8 852.4,377.3 852.7,366.4 853.1,363.4 853.4,375.8 853.7,366.6 854.0,363.0 854.4,371.3 854.7,368.6 855.0,360.9 855.3,350.3 855.7,358.7 856.0,370.6 856.3,382.4 856.6,380.4 857.0,384.4 857.3,371.5 857.6,373.6 857.9,366.1 858.3,370.7 858.6,380.5 858.9,390.8 859.2,377.8 859.6,391.1 859.9,384.4 860.2,375.4 860.5,376.3 860.9,368.1 861.2,370.3 861.5,376.3 861.8,376.5 862.2,382.9 862.5,380.3 862.8,381.2 863.1,370.0 863.5,374.2 863.8,370.4 864.1,370.7 864.4,373.6 864.8,374.5 865.1,362.6 865.4,358.1 865.7,353.5 866.1,351.5 866.4,355.1 866.7,363.0 867.0,373.3 867.4,370.3 867.7,361.9 868.0,341.7 868.3,328.3 868.7,324.3 869.0,330.1 869.3,332.9 869.6,331.7 870.0,328.4 870.3,334.7 870.6,333.5 870.9,333.1 871.3,332.2 871.6,321.5 871.9,308.1 872.2,315.1 872.6,319.5 872.9,314.9 873.2,308.4 873.5,334.8 873.9,321.0 874.2,314.3 874.5,316.2 874.8,295.2 875.2,299.3 875.5,330.2 875.8,332.6 876.1,332.2 876.5,331.9 876.8,331.4 877.1,330.7 877.4,324.6 877.8,308.4 878.1,306.3 878.4,318.8 878.7,317.1 879.1,321.4 879.4,278.0 879.7,301.5 880.0,317.8 880.4,316.4 880.7,315.0 881.0,298.3 881.3,299.9 881.7,282.1 882.0,295.8 882.3,286.7 882.6,302.9 883.0,315.8 883.3,282.6 883.6,290.3 883.9,281.3 884.3,270.3 884.6,271.0 884.9,271.8 885.2,293.0 885.6,273.3 885.9,295.0 886.2,320.5 886.5,320.9 886.9,321.4 887.2,319.1 887.5,297.6 887.8,306.3 888.2,310.7 888.5,319.1 888.8,325.3 889.1,325.9 889.5,326.6 889.8,327.2 890.1,321.8 890.4,300.5 890.8,296.6 891.1,289.7 891.4,305.1 891.7,301.1 892.1,329.6 892.4,332.4 892.7,333.1 893.0,332.1 893.4,334.4 893.7,334.6 894.0,315.6 894.3,318.9 894.7,326.5 895.0,324.6 895.3,332.4 895.6,332.0 896.0,326.4 896.3,322.9 896.6,306.8 896.9,315.0 897.3,301.0 897.6,315.3 897.9,318.1 898.2,327.6 898.6,319.6 898.9,295.9 899.2,321.8 899.5,313.9 899.9,326.3 900.2,325.9 900.5,325.5 900.8,325.0 901.2,324.6 901.5,324.2 901.8,312.0 902.1,321.8 902.5,309.7 902.8,302.3 903.1,299.1 903.4,302.8 903.8,323.9 904.1,286.9 904.4,291.0 904.7,277.3 905.1,311.1 905.4,298.9 905.7,312.3 906.0,300.3 906.4,320.9 906.7,347.4 907.0,326.3 907.3,324.3 907.7,276.1 908.0,296.4 908.3,327.6 908.6,306.9 909.0,342.1 909.3,274.6 909.6,269.0 909.9,270.8 910.3,272.7 910.6,274.5 910.9,276.8 911.2,288.0 911.6,315.4 911.9,306.7 912.2,286.2 912.5,290.1 912.9,337.7 913.2,297.9 913.5,301.8 913.8,344.5 914.2,356.1 914.5,338.6 914.8,344.0 915.1,365.0 915.5,380.3 915.8,354.5 916.1,364.5 916.4,361.9 916.8,370.3 917.1,367.9 917.4,365.0 917.7,334.5 918.1,339.9 918.4,357.9 918.7,355.4 919.0,352.9 919.4,350.4 919.7,347.5 920.0,345.4 920.3,336.8 920.7,334.3 921.0,332.9 921.3,344.7 921.6,330.9 922.0,322.5 922.3,304.4 922.6,314.5 922.9,310.7 923.3,319.4 923.6,305.7 923.9,305.1 924.2,323.8 924.6,320.6 924.9,329.5 925.2,334.7 925.5,325.1 925.9,298.9 926.2,319.3 926.5,321.3 926.8,336.4 927.2,295.8 927.5,287.3 927.8,285.9 928.1,284.5 928.5,283.1 928.8,301.1 929.1,302.9 929.4,308.5 929.8,326.0 930.1,317.6 930.4,325.6 930.7,326.6 931.1,286.9 931.4,288.2 931.7,322.6 932.0,315.5 932.4,315.5 932.7,307.2 933.0,304.0 933.3,331.2 933.7,328.5 934.0,315.6 934.3,311.4 934.6,316.7 935.0,322.1 935.3,327.4 935.6,332.7 935.9,342.1 936.3,343.4 936.6,353.4 936.9,366.9 937.2,364.7 937.6,379.0 937.9,362.9 938.2,361.6 938.5,360.3 938.9,359.0 939.2,358.3 939.5,356.4 939.8,355.1 940.2,353.8 940.5,352.5 940.8,351.2 941.1,367.7 941.5,359.4 941.8,351.0 942.1,351.0" fill="none" stroke="#5599d4" stroke-width="3.6" stroke-linejoin="round" stroke-linecap="round" />
</g>
<path d="M614.5,118.1 614.9,116.9 615.3,115.5 615.7,114.4 616.1,113.1 616.5,111.8 616.9,110.7 617.3,109.6 617.7,109.3 618.1,108.6 618.5,107.7 618.9,107.3 619.3,106.7 619.7,106.1 620.1,104.6 620.5,103.3 620.9,102.0 621.3,100.3 621.7,99.2 622.1,97.7 622.5,96.8 622.9,96.5 623.3,97.5 623.7,98.3 624.1,99.6 624.5,100.8 624.9,102.2 625.3,103.2 625.7,103.7 626.1,104.4 626.5,104.9 626.9,106.1 627.3,106.5 627.7,107.1 628.1,108.7 628.5,110.4 628.9,112.3 629.3,114.2 629.7,116.1 630.1,118.0 630.5,119.3 630.9,119.6 631.3,119.5 631.7,119.7 632.1,120.2 632.5,120.4 632.9,120.4 633.3,120.1 633.7,119.8 634.1,119.3 634.5,118.9 634.9,118.3 635.3,117.7 635.7,114.3 636.1,111.6 636.5,108.3 636.9,105.0 637.3,103.1 637.7,101.0 638.1,99.0 638.5,97.0 638.9,94.8 639.3,95.9 639.7,97.0 640.1,98.6 640.5,99.7 640.9,100.9 641.3,101.9 641.7,103.1 642.1,104.4 642.5,105.0 642.9,106.0 643.3,106.9 643.7,107.5 644.1,108.0 644.5,108.1 644.9,108.8 645.3,109.2 645.7,109.3 646.1,110.1 646.5,110.6 646.9,111.2 647.3,112.8 647.7,114.7 648.1,116.7 648.5,118.8 648.9,121.1 649.3,122.6 649.7,125.7 650.1,128.9 650.5,132.4 650.9,135.5 651.3,137.5 651.7,139.4 652.1,141.1 652.5,143.0 652.9,145.0 653.3,146.8 653.7,149.4 654.1,152.4 654.5,156.2 654.9,159.5 655.3,162.0 655.7,162.7 656.1,163.3 656.5,164.4 656.9,165.6 657.3,167.2 657.7,168.4 658.1,168.2 658.5,168.6 658.9,168.8 659.3,168.8 659.7,169.0 660.1,169.1 660.5,168.5 660.9,167.8 661.3,167.5 661.7,167.3 662.1,166.6 662.5,166.0 662.9,165.2 663.3,163.4 663.7,162.6 664.1,161.1 664.5,160.0 664.9,159.5 665.3,159.8 665.7,160.5 666.1,161.8 666.5,162.5 666.9,163.2 667.3,163.9 667.7,164.7 668.1,165.6 668.5,166.1 668.9,166.6 669.3,167.2 669.7,169.3 670.1,171.5 670.5,173.4 670.9,175.7 671.3,177.3 671.7,179.4 672.1,181.6 672.5,183.5 672.9,185.2 673.3,186.7 673.7,188.4 674.1,190.3 674.5,192.3 674.9,194.1 675.3,195.7 675.7,197.5 676.1,199.6 676.5,201.7 676.9,203.0 677.3,204.2 677.7,205.2 678.1,206.4 678.5,208.2 678.9,207.6 679.3,207.0 679.7,206.5 680.1,205.8 680.5,205.2 680.9,205.0 681.3,204.7 681.7,204.7 682.1,203.3 682.5,202.4 682.9,201.6 683.3,200.0 683.7,199.2 684.1,197.8 684.5,195.9 684.9,193.4 685.3,190.6 685.7,189.5 686.1,191.1 686.5,193.1 686.9,195.1 687.3,196.8 687.7,198.0 688.1,198.3 688.5,198.8 688.9,198.7 689.3,199.0 689.7,199.2 690.1,199.7 690.5,200.2 690.9,200.7 691.3,202.9 691.7,204.5 692.1,206.4 692.5,208.2 692.9,210.4 693.3,212.4 693.7,214.5 694.1,216.4 694.5,218.7 694.9,220.8 695.3,223.1 695.7,225.2 696.1,228.3 696.5,231.4 696.9,234.2 697.3,237.5 697.7,239.8 698.1,242.1 698.5,244.8 698.9,247.9 699.3,251.2 699.7,254.0 700.1,256.5 700.5,258.4 700.9,260.4 701.3,262.1 701.7,264.2 702.1,266.3 702.5,268.3 702.9,269.9 703.3,271.3 703.7,272.4 704.1,273.7 704.5,275.1 704.9,276.1 705.3,276.5 705.7,276.4 706.1,276.1 706.5,275.7 706.9,276.3 707.3,275.9 707.7,275.7 708.1,275.6 708.5,275.4 708.9,274.9 709.3,274.7 709.7,274.2 710.1,274.6 710.5,275.4 710.9,276.8 711.3,278.1 711.7,279.0 712.1,280.7 712.5,281.4 712.9,282.3 713.3,282.7 713.7,283.4 714.1,283.8 714.5,285.0 714.9,285.6 715.3,286.4 715.7,286.9 716.1,287.4 716.5,287.9 716.9,288.3 717.3,289.0 717.7,289.5 718.1,290.0 718.5,290.3 718.9,290.9 719.3,292.0 719.7,292.9 720.1,294.0 720.5,294.9 720.9,295.7 721.3,296.6 721.7,297.6 722.1,298.7 722.5,299.8 722.9,301.3 723.3,302.2 723.7,303.1 724.1,304.6 724.5,305.8 724.9,307.1 725.3,308.8 725.7,310.2 726.1,309.7 726.5,309.1 726.9,308.4 727.3,308.0 727.7,307.2 728.1,306.5 728.5,305.5 728.9,304.9 729.3,304.1 729.7,302.8 730.1,302.0 730.5,300.8 730.9,300.0 731.3,298.8 731.7,298.0 732.1,296.9 732.5,295.8 732.9,294.8 733.3,293.9 733.7,292.8 734.1,291.6 734.5,291.1 734.9,290.0 735.3,288.7 735.7,287.4 736.1,287.0 736.5,287.2 736.9,287.7 737.3,287.3 737.7,287.3 738.1,287.0 738.5,287.3 738.9,287.3 739.3,288.6 739.7,290.5 740.1,292.4 740.5,294.1 740.9,295.5 741.3,296.9 741.7,298.4 742.1,299.9 742.5,302.2 742.9,303.9 743.3,305.8 743.7,307.6 744.1,309.8 744.5,311.3 744.9,313.3 745.3,315.0 745.7,316.7 746.1,317.8 746.5,319.7 746.9,321.2 747.3,322.8 747.7,324.5 748.1,326.1 748.5,328.0 748.9,329.3 749.3,330.6 749.7,331.9 750.1,333.1 750.5,334.4 750.9,334.3 751.3,334.0 751.7,333.2 752.1,332.4 752.5,331.9 752.9,331.7 753.3,330.7 753.7,329.2 754.1,327.9 754.5,326.6 754.9,325.3 755.3,324.1 755.7,322.4 756.1,321.5 756.5,320.2 756.9,318.6 757.3,317.6 757.7,316.3 758.1,315.1 758.5,314.1 758.9,313.9 759.3,313.1 759.7,312.0 760.1,311.7 760.5,311.0 760.9,310.2 761.3,309.7 761.7,308.6 762.1,308.2 762.5,307.4 762.9,306.6 763.3,306.2 763.7,305.3 764.1,304.3 764.5,303.3 764.9,302.4 765.3,301.5 765.7,300.2 766.1,298.8 766.5,297.8 766.9,296.6 767.3,295.4 767.7,294.6 768.1,293.1 768.5,292.9 768.9,292.4 769.3,292.2 769.7,292.3 770.1,292.3 770.5,291.8 770.9,291.8 771.3,291.7 771.7,290.5 772.1,289.6 772.5,288.1 772.9,286.4 773.3,285.2 773.7,283.4 774.1,280.7 774.5,276.3 774.9,271.5 775.3,267.0 775.7,262.5 776.1,259.0 776.5,254.8 776.9,250.6 777.3,246.4 777.7,244.3 778.1,242.1 778.5,240.1 778.9,238.3 779.3,236.1 779.7,233.9 780.1,232.6 780.5,231.2 780.9,229.8 781.3,228.6 781.7,226.6 782.1,224.6 782.5,223.3 782.9,221.3 783.3,219.1 783.7,217.3 784.1,215.7 784.5,214.7 784.9,214.0 785.3,213.3 785.7,212.5 786.1,211.9 786.5,210.7 786.9,209.7 787.3,209.3 787.7,209.8 788.1,210.7 788.5,211.2 788.9,211.4 789.3,212.1 789.7,212.5 790.1,214.4 790.5,216.8 790.9,219.3 791.3,221.2 791.7,223.4 792.1,225.4 792.5,227.2 792.9,227.8 793.3,229.2 793.7,230.7 794.1,232.2 794.5,233.4 794.9,234.2 795.3,233.6 795.7,232.7 796.1,231.8 796.5,230.9 796.9,230.1 797.3,229.4 797.7,227.5 798.1,225.1 798.5,222.7 798.9,220.4 799.3,218.5 799.7,216.4 800.1,213.8 800.5,211.2 800.9,208.6 801.3,205.8 801.7,202.9 802.1,200.2 802.5,196.9 802.9,193.3 803.3,189.5 803.7,185.7 804.1,182.3 804.5,178.4 804.9,175.4 805.3,173.4 805.7,171.2 806.1,169.0 806.5,167.0 806.9,165.0 807.3,163.3 807.7,161.1 808.1,159.3 808.5,158.5 808.9,157.5 809.3,156.6 809.7,155.7 810.1,154.3 810.5,153.3 810.9,152.2 811.3,151.6 811.7,150.2 812.1,148.8 812.5,147.6 812.9,145.9 813.3,144.4 813.7,143.0 814.1,142.2 814.5,142.3 814.9,142.2 815.3,142.1 815.7,141.8 816.1,141.4 816.5,141.2 816.9,140.9 817.3,140.5 817.7,140.5 818.1,140.4 818.5,139.1 818.9,137.8 819.3,136.7 819.7,135.5 820.1,134.4 820.5,133.5 820.9,130.7 821.3,128.4 821.7,126.1 822.1,123.6 822.5,121.1 822.9,118.5 823.3,116.0 823.7,113.9 824.1,111.8 824.5,109.1 824.9,106.8 825.3,104.4 825.7,102.6 826.1,101.0 826.5,99.4 826.9,97.8 827.3,95.9 827.7,94.3 828.1,92.5 828.5,91.0 828.9,89.9 829.3,88.6 829.7,87.8 830.1,86.9 830.5,85.7 830.9,85.4 831.3,85.1 831.7,84.9 832.1,84.7 832.5,84.5 832.9,84.1 833.3,84.5 833.7,85.2 834.1,86.1 834.5,86.7 834.9,87.6 835.3,88.2 835.7,89.5 836.1,90.5 836.5,91.7 836.9,93.2 837.3,94.6 837.7,95.9 838.1,97.9 838.5,99.9 838.9,102.0 839.3,103.9 839.7,106.4 840.1,108.6 840.5,110.6 840.9,112.0 841.3,114.0 841.7,115.8 842.1,117.7 842.5,119.8 842.9,121.4 843.3,122.3 843.7,123.3 844.1,124.0 844.5,124.7 844.9,125.3 845.3,126.0 845.7,125.4 846.1,125.0 846.5,124.2 846.9,123.2 847.3,122.5 847.7,121.5 848.1,119.3 848.5,117.5 848.9,115.5 849.3,112.7 849.7,111.0 850.1,110.5 850.5,109.8 850.9,109.0 851.3,108.3 851.7,107.7 852.1,107.2 852.5,108.0 852.9,108.7 853.3,109.3 853.7,110.0 854.1,110.4 854.5,111.5 854.9,112.7 855.3,114.4 855.7,116.2 856.1,117.9 856.5,119.5 856.9,121.3 857.3,122.6 857.7,124.2 858.1,125.8 858.5,127.3 858.9,128.8 859.3,130.8 859.7,132.7 860.1,135.5 860.5,138.3 860.9,141.1 861.3,143.5 861.7,144.8 862.1,146.2 862.5,147.5 862.9,149.0 863.3,150.5 863.7,151.7 864.1,154.4 864.5,156.5 864.9,159.0 865.3,161.4 865.7,163.6 866.1,165.6 866.5,167.1 866.9,167.7 867.3,168.4 867.7,169.5 868.1,169.2 868.5,168.8 868.9,168.3 869.3,167.5 869.7,166.7 870.1,166.0 870.5,164.9 870.9,164.2 871.3,163.6 871.7,162.8 872.1,162.2 872.5,161.2 872.9,160.9 873.3,160.5 873.7,159.4 874.1,158.8 874.5,158.5 874.9,157.8 875.3,156.8 875.7,156.0 876.1,155.6 876.5,155.2 876.9,155.6 877.3,156.7 877.7,157.7 878.1,158.9 878.5,160.2 878.9,161.4 879.3,162.4 879.7,164.7 880.1,166.7 880.5,168.8 880.9,171.1 881.3,173.1 881.7,175.1 882.1,177.6 882.5,179.7 882.9,182.2 883.3,184.8 883.7,187.7 884.1,191.6 884.5,195.5 884.9,199.1 885.3,203.0 885.7,206.0 886.1,209.0 886.5,211.7 886.9,214.4 887.3,217.9 887.7,221.5 888.1,225.2 888.5,229.1 888.9,231.3 889.3,233.3 889.7,235.5 890.1,237.5 890.5,238.5 890.9,238.5 891.3,238.8 891.7,239.2 892.1,239.9 892.5,240.4 892.9,240.9 893.3,241.6 893.7,242.1 894.1,243.7 894.5,245.0 894.9,246.1 895.3,247.8 895.7,248.7 896.1,250.0 896.5,251.9 896.9,253.9 897.3,255.8 897.7,257.3 898.1,259.2 898.5,261.2 898.9,263.1 899.3,264.4 899.7,265.4 900.1,266.3 900.5,267.5 900.9,268.5 901.3,269.8 901.7,271.1 902.1,272.7 902.5,274.6 902.9,276.4 903.3,278.2 903.7,280.4 904.1,282.3 904.5,283.4 904.9,283.5 905.3,283.9 905.7,284.3 906.1,284.8 906.5,285.3 906.9,285.5 907.3,285.5 907.7,286.2 908.1,286.6 908.5,287.0 908.9,289.5 909.3,291.4 909.7,293.7 910.1,296.0 910.5,298.7 910.9,300.8 911.3,300.3 911.7,299.4 912.1,298.3 912.5,296.9 912.9,296.0 913.3,294.4 913.7,293.3 914.1,292.0 914.5,291.3 914.9,290.6 915.3,289.9 915.7,289.5 916.1,288.7 916.5,288.4 916.9,288.5 917.3,290.3 917.7,291.8 918.1,293.2 918.5,295.0 918.9,296.8 919.3,297.9 919.7,299.6 920.1,301.4 920.5,301.7 920.9,302.3 921.3,303.1 921.7,303.6 922.1,304.1 922.5,305.2 922.9,305.5 923.3,306.0 923.7,306.6 924.1,307.8 924.5,309.0 924.9,310.8 925.3,312.2 925.7,313.1 926.1,314.7 926.5,315.9 926.9,317.1 927.3,318.8 927.7,320.4 928.1,321.7 928.5,323.0 928.9,324.6 929.3,326.6 929.7,329.8 930.1,332.9 930.5,336.4 930.9,339.4 931.3,342.9 931.7,346.0 932.1,349.2 932.5,352.2 932.9,354.8 933.3,357.1 933.7,359.2 934.1,361.8 934.5,363.8 934.9,365.6 935.3,367.2 935.7,368.6 936.1,369.7 936.5,370.1 936.9,370.9 937.3,372.2 937.7,372.4 938.1,370.8 938.5,369.2 938.9,367.6 939.3,366.0 939.7,363.9 940.1,362.2 940.5,361.0 940.9,359.7 941.3,359.4 941.7,359.0 942.1,358.7" fill="none" stroke="#96161b" stroke-width="3.8" stroke-linejoin="round" stroke-linecap="round" clip-path="url(#c2)"/>
<line x1="614.5" y1="349.33" x2="942.1" y2="349.33" stroke="#000" stroke-width="1.25"/>
<line x1="614.5" y1="299.55" x2="942.1" y2="299.55" stroke="#000" stroke-width="1.25"/>
<line x1="614.5" y1="249.78" x2="942.1" y2="249.78" stroke="#000" stroke-width="1.25"/>
<line x1="614.5" y1="200" x2="942.1" y2="200" stroke="#000" stroke-width="1.25"/>
<line x1="614.5" y1="150.23" x2="942.1" y2="150.23" stroke="#000" stroke-width="1.25"/>
<line x1="614.5" y1="100.45" x2="942.1" y2="100.45" stroke="#000" stroke-width="1.25"/>
<rect x="614.5" y="71.5" width="327.6" height="327.6" fill="none" stroke="#000" stroke-width="1.45"/>
<line x1="614.5" y1="399.1" x2="614.5" y2="407.6" stroke="#000" stroke-width="1.1"/>
<line x1="614.5" y1="71.5" x2="614.5" y2="63" stroke="#000" stroke-width="1.1"/>
<text x="614.5" y="429.5" font-size="15" text-anchor="middle" fill="#000">15/23</text>
<line x1="661.3" y1="399.1" x2="661.3" y2="407.6" stroke="#000" stroke-width="1.1"/>
<line x1="661.3" y1="71.5" x2="661.3" y2="63" stroke="#000" stroke-width="1.1"/>
<text x="661.3" y="429.5" font-size="15" text-anchor="middle" fill="#000">16/23</text>
<line x1="708.1" y1="399.1" x2="708.1" y2="407.6" stroke="#000" stroke-width="1.1"/>
<line x1="708.1" y1="71.5" x2="708.1" y2="63" stroke="#000" stroke-width="1.1"/>
<text x="708.1" y="429.5" font-size="15" text-anchor="middle" fill="#000">17/23</text>
<line x1="754.9" y1="399.1" x2="754.9" y2="407.6" stroke="#000" stroke-width="1.1"/>
<line x1="754.9" y1="71.5" x2="754.9" y2="63" stroke="#000" stroke-width="1.1"/>
<text x="754.9" y="429.5" font-size="15" text-anchor="middle" fill="#000">18/23</text>
<line x1="801.7" y1="399.1" x2="801.7" y2="407.6" stroke="#000" stroke-width="1.1"/>
<line x1="801.7" y1="71.5" x2="801.7" y2="63" stroke="#000" stroke-width="1.1"/>
<text x="801.7" y="429.5" font-size="15" text-anchor="middle" fill="#000">19/23</text>
<line x1="848.5" y1="399.1" x2="848.5" y2="407.6" stroke="#000" stroke-width="1.1"/>
<line x1="848.5" y1="71.5" x2="848.5" y2="63" stroke="#000" stroke-width="1.1"/>
<text x="848.5" y="429.5" font-size="15" text-anchor="middle" fill="#000">20/23</text>
<line x1="895.3" y1="399.1" x2="895.3" y2="407.6" stroke="#000" stroke-width="1.1"/>
<line x1="895.3" y1="71.5" x2="895.3" y2="63" stroke="#000" stroke-width="1.1"/>
<text x="895.3" y="429.5" font-size="15" text-anchor="middle" fill="#000">21/23</text>
<line x1="942.1" y1="399.1" x2="942.1" y2="407.6" stroke="#000" stroke-width="1.1"/>
<line x1="942.1" y1="71.5" x2="942.1" y2="63" stroke="#000" stroke-width="1.1"/>
<text x="942.1" y="429.5" font-size="15" text-anchor="middle" fill="#000">22/23</text>
<text x="778.7" y="458" font-size="21.1" text-anchor="middle" fill="#000">Time (Day/UTC)</text>
<line x1="610.2" y1="374.21" x2="614.5" y2="374.21" stroke="#000" stroke-width="0.8"/>
<line x1="610.2" y1="324.44" x2="614.5" y2="324.44" stroke="#000" stroke-width="0.8"/>
<line x1="610.2" y1="274.66" x2="614.5" y2="274.66" stroke="#000" stroke-width="0.8"/>
<line x1="610.2" y1="224.89" x2="614.5" y2="224.89" stroke="#000" stroke-width="0.8"/>
<line x1="610.2" y1="175.11" x2="614.5" y2="175.11" stroke="#000" stroke-width="0.8"/>
<line x1="610.2" y1="125.34" x2="614.5" y2="125.34" stroke="#000" stroke-width="0.8"/>
<line x1="610.2" y1="75.56" x2="614.5" y2="75.56" stroke="#000" stroke-width="0.8"/>
<line x1="606" y1="399.1" x2="614.5" y2="399.1" stroke="#000" stroke-width="1.1"/>
<text x="595.9" y="404.5" font-size="15" text-anchor="end" fill="#000">0</text>
<line x1="606" y1="349.33" x2="614.5" y2="349.33" stroke="#000" stroke-width="1.1"/>
<text x="595.9" y="354.73" font-size="15" text-anchor="end" fill="#000">5</text>
<line x1="606" y1="299.55" x2="614.5" y2="299.55" stroke="#000" stroke-width="1.1"/>
<text x="595.9" y="304.95" font-size="15" text-anchor="end" fill="#000">10</text>
<line x1="606" y1="249.78" x2="614.5" y2="249.78" stroke="#000" stroke-width="1.1"/>
<text x="595.9" y="255.18" font-size="15" text-anchor="end" fill="#000">15</text>
<line x1="606" y1="200" x2="614.5" y2="200" stroke="#000" stroke-width="1.1"/>
<text x="595.9" y="205.4" font-size="15" text-anchor="end" fill="#000">20</text>
<line x1="606" y1="150.23" x2="614.5" y2="150.23" stroke="#000" stroke-width="1.1"/>
<text x="595.9" y="155.63" font-size="15" text-anchor="end" fill="#000">25</text>
<line x1="606" y1="100.45" x2="614.5" y2="100.45" stroke="#000" stroke-width="1.1"/>
<text x="595.9" y="105.85" font-size="15" text-anchor="end" fill="#000">30</text>
<line x1="942.1" y1="398.38" x2="946.4" y2="398.38" stroke="#000" stroke-width="0.8"/>
<line x1="942.1" y1="351.62" x2="946.4" y2="351.62" stroke="#000" stroke-width="0.8"/>
<line x1="942.1" y1="328.25" x2="946.4" y2="328.25" stroke="#000" stroke-width="0.8"/>
<line x1="942.1" y1="281.5" x2="946.4" y2="281.5" stroke="#000" stroke-width="0.8"/>
<line x1="942.1" y1="258.12" x2="946.4" y2="258.12" stroke="#000" stroke-width="0.8"/>
<line x1="942.1" y1="211.38" x2="946.4" y2="211.38" stroke="#000" stroke-width="0.8"/>
<line x1="942.1" y1="188" x2="946.4" y2="188" stroke="#000" stroke-width="0.8"/>
<line x1="942.1" y1="141.25" x2="946.4" y2="141.25" stroke="#000" stroke-width="0.8"/>
<line x1="942.1" y1="117.88" x2="946.4" y2="117.88" stroke="#000" stroke-width="0.8"/>
<line x1="942.1" y1="71.12" x2="946.4" y2="71.12" stroke="#000" stroke-width="0.8"/>
<line x1="942.1" y1="375" x2="950.6" y2="375" stroke="#000" stroke-width="1.1"/>
<text x="960.7" y="380.4" font-size="15" text-anchor="start" fill="#000">972</text>
<line x1="942.1" y1="304.88" x2="950.6" y2="304.88" stroke="#000" stroke-width="1.1"/>
<text x="960.7" y="310.27" font-size="15" text-anchor="start" fill="#000">975</text>
<line x1="942.1" y1="234.75" x2="950.6" y2="234.75" stroke="#000" stroke-width="1.1"/>
<text x="960.7" y="240.15" font-size="15" text-anchor="start" fill="#000">978</text>
<line x1="942.1" y1="164.62" x2="950.6" y2="164.62" stroke="#000" stroke-width="1.1"/>
<text x="960.7" y="170.03" font-size="15" text-anchor="start" fill="#000">981</text>
<line x1="942.1" y1="94.5" x2="950.6" y2="94.5" stroke="#000" stroke-width="1.1"/>
<text x="960.7" y="99.9" font-size="15" text-anchor="start" fill="#000">984</text>
</g>
<g id="p3">
<clipPath id="c3"><rect x="102.5" y="532.4" width="327.6" height="327.6"/></clipPath>
<path d="M102.5,629.1 102.8,626.9 103.2,624.2 103.5,623.3 103.8,621.6 104.1,620.1 104.5,619.8 104.8,618.2 105.1,615.2 105.5,612.9 105.8,609.1 106.1,607.5 106.5,604.9 106.8,605.1 107.1,610.1 107.4,615.6 107.8,619.3 108.1,623.1 108.4,626.2 108.8,622.5 109.1,619.9 109.4,615.5 109.8,612.3 110.1,608.1 110.4,604.7 110.7,600.4 111.1,595.9 111.4,593.3 111.7,593.3 112.1,600.2 112.4,609.0 112.7,617.2 113.1,625.4 113.4,629.6 113.7,623.2 114.0,617.1 114.4,610.2 114.7,602.7 115.0,597.4 115.4,595.7 115.7,591.8 116.0,589.8 116.4,587.2 116.7,584.3 117.0,583.5 117.3,581.8 117.7,580.7 118.0,579.1 118.3,578.7 118.7,578.7 119.0,576.8 119.3,575.5 119.7,571.0 120.0,568.1 120.3,565.3 120.6,564.4 121.0,561.5 121.3,559.8 121.6,555.9 122.0,554.1 122.3,552.5 122.6,552.4 123.0,551.7 123.3,553.9 123.6,556.1 123.9,558.4 124.3,559.6 124.6,558.9 124.9,555.5 125.3,552.8 125.6,548.6 125.9,550.1 126.3,554.2 126.6,558.9 126.9,564.1 127.2,570.8 127.6,580.3 127.9,587.1 128.2,594.2 128.6,597.9 128.9,602.5 129.2,606.9 129.6,610.5 129.9,614.5 130.2,619.4 130.5,623.6 130.9,625.9 131.2,629.3 131.5,634.1 131.9,639.5 132.2,645.0 132.5,648.9 132.9,654.3 133.2,658.8 133.5,666.3 133.8,674.3 134.2,679.6 134.5,679.1 134.8,678.9 135.2,677.3 135.5,676.4 135.8,676.1 136.2,678.5 136.5,681.1 136.8,683.5 137.1,686.8 137.5,689.5 137.8,692.4 138.1,695.2 138.5,698.8 138.8,701.5 139.1,705.0 139.5,706.9 139.8,706.8 140.1,706.0 140.4,704.6 140.8,703.5 141.1,705.2 141.4,705.0 141.8,704.2 142.1,702.7 142.4,701.1 142.8,702.1 143.1,699.4 143.4,698.1 143.7,695.7 144.1,692.0 144.4,687.6 144.7,683.5 145.1,679.6 145.4,677.4 145.7,676.8 146.1,674.5 146.4,673.6 146.7,673.3 147.0,671.9 147.4,668.0 147.7,663.3 148.0,662.3 148.4,660.3 148.7,654.2 149.0,647.9 149.4,639.9 149.7,632.5 150.0,624.8 150.3,618.7 150.7,611.9 151.0,605.1 151.3,599.5 151.7,595.6 152.0,592.4 152.3,591.3 152.7,589.9 153.0,587.1 153.3,586.1 153.6,586.6 154.0,586.7 154.3,587.1 154.6,587.9 155.0,587.6 155.3,589.3 155.6,588.4 156.0,587.3 156.3,588.1 156.6,588.6 156.9,587.0 157.3,585.6 157.6,583.8 157.9,584.1 158.3,583.2 158.6,581.5 158.9,581.1 159.3,581.1 159.6,580.3 159.9,580.6 160.2,579.6 160.6,578.2 160.9,575.4 161.2,573.2 161.6,571.5 161.9,569.3 162.2,567.3 162.6,564.6 162.9,562.5 163.2,561.3 163.5,559.8 163.9,557.9 164.2,558.6 164.5,558.0 164.9,557.5 165.2,559.6 165.5,561.2 165.9,562.0 166.2,564.3 166.5,565.6 166.8,568.3 167.2,570.6 167.5,571.5 167.8,570.5 168.2,570.0 168.5,569.0 168.8,568.1 169.2,566.5 169.5,567.0 169.8,566.3 170.1,564.4 170.5,563.2 170.8,561.5 171.1,559.7 171.5,558.8 171.8,558.3 172.1,556.4 172.5,555.4 172.8,556.1 173.1,558.5 173.4,558.4 173.8,560.1 174.1,560.4 174.4,561.6 174.8,563.4 175.1,571.3 175.4,580.7 175.8,591.3 176.1,599.4 176.4,607.7 176.7,611.8 177.1,616.2 177.4,621.1 177.7,625.9 178.1,632.8 178.4,645.2 178.7,657.9 179.1,666.8 179.4,673.0 179.7,679.3 180.0,688.0 180.4,700.8 180.7,710.5 181.0,714.4 181.4,717.2 181.7,719.6 182.0,723.2 182.4,733.1 182.7,749.1 183.0,747.2 183.3,745.8 183.7,744.7 184.0,743.5 184.3,742.0 184.7,739.8 185.0,738.2 185.3,737.4 185.7,739.1 186.0,744.3 186.3,749.9 186.6,754.5 187.0,757.8 187.3,762.5 187.6,765.7 188.0,768.9 188.3,774.5 188.6,775.0 189.0,773.4 189.3,772.2 189.6,772.2 189.9,770.3 190.3,769.7 190.6,767.9 190.9,765.5 191.3,764.5 191.6,763.2 191.9,760.9 192.3,759.1 192.6,757.4 192.9,755.6 193.2,752.7 193.6,749.5 193.9,744.7 194.2,735.6 194.6,727.4 194.9,697.5 195.2,687.7 195.6,683.4 195.9,679.8 196.2,676.6 196.5,674.2 196.9,669.4 197.2,666.3 197.5,663.6 197.9,658.8 198.2,654.9 198.5,650.3 198.9,645.3 199.2,642.1 199.5,636.7 199.8,634.3 200.2,630.8 200.5,627.2 200.8,623.8 201.2,620.6 201.5,617.4 201.8,615.0 202.2,610.8 202.5,609.1 202.8,606.4 203.1,603.9 203.5,599.4 203.8,594.6 204.1,593.1 204.5,591.9 204.8,590.9 205.1,589.0 205.5,588.2 205.8,593.4 206.1,597.3 206.4,604.0 206.8,607.9 207.1,613.7 207.4,627.8 207.8,640.1 208.1,643.3 208.4,639.2 208.8,633.3 209.1,628.5 209.4,623.1 209.7,619.0 210.1,616.6 210.4,613.4 210.7,610.5 211.1,608.5 211.4,609.6 211.7,615.0 212.1,619.1 212.4,624.5 212.7,630.8 213.0,629.7 213.4,620.1 213.7,609.8 214.0,599.8 214.4,598.1 214.7,606.5 215.0,613.5 215.4,621.6 215.7,628.2 216.0,636.3 216.3,637.5 216.7,632.1 217.0,625.8 217.3,621.0 217.7,615.9 218.0,609.5 218.3,607.6 218.7,613.2 219.0,618.0 219.3,623.5 219.6,629.1 220.0,635.9 220.3,642.6 220.6,640.6 221.0,637.3 221.3,634.4 221.6,631.0 222.0,627.9 222.3,625.6 222.6,626.5 222.9,637.6 223.3,648.4 223.6,660.9 223.9,667.6 224.3,673.8 224.6,679.2 224.9,685.2 225.3,688.6 225.6,690.2 225.9,692.3 226.2,693.3 226.6,693.2 226.9,692.9 227.2,695.4 227.6,696.2 227.9,698.5 228.2,699.4 228.6,700.7 228.9,703.3 229.2,705.1 229.5,707.1 229.9,708.5 230.2,711.3 230.5,715.3 230.9,718.5 231.2,723.7 231.5,726.8 231.9,730.7 232.2,733.3 232.5,736.3 232.8,742.0 233.2,740.9 233.5,739.3 233.8,735.5 234.2,733.8 234.5,732.0 234.8,729.0 235.2,726.2 235.5,722.4 235.8,719.5 236.1,715.9 236.5,713.5 236.8,711.7 237.1,708.8 237.5,706.4 237.8,704.7 238.1,703.3 238.5,702.5 238.8,700.8 239.1,699.3 239.4,694.8 239.8,691.5 240.1,689.3 240.4,685.5 240.8,682.3 241.1,678.6 241.4,676.7 241.8,672.9 242.1,669.2 242.4,666.5 242.7,664.0 243.1,664.9 243.4,666.6 243.7,667.5 244.1,668.4 244.4,669.2 244.7,670.2 245.1,671.3 245.4,670.2 245.7,663.4 246.0,656.6 246.4,650.2 246.7,643.2 247.0,635.2 247.4,628.2 247.7,627.6 248.0,628.2 248.4,630.6 248.7,631.6 249.0,632.7 249.3,634.0 249.7,644.7 250.0,656.2 250.3,668.7 250.7,680.1 251.0,678.0 251.3,672.4 251.7,666.7 252.0,660.5 252.3,653.5 252.6,647.3 253.0,640.3 253.3,634.0 253.6,627.8 254.0,622.5 254.3,616.6 254.6,612.3 255.0,609.3 255.3,605.8 255.6,604.3 255.9,601.3 256.3,599.0 256.6,594.8 256.9,591.4 257.3,590.8 257.6,589.6 257.9,588.7 258.3,586.9 258.6,587.0 258.9,586.2 259.2,585.9 259.6,585.5 259.9,584.6 260.2,585.9 260.6,587.4 260.9,586.8 261.2,586.9 261.6,586.8 261.9,586.1 262.2,583.6 262.5,583.5 262.9,582.1 263.2,579.3 263.5,576.0 263.9,575.9 264.2,577.3 264.5,577.2 264.9,577.3 265.2,575.8 265.5,575.6 265.8,574.2 266.2,575.7 266.5,575.8 266.8,573.9 267.2,572.9 267.5,574.0 267.8,574.4 268.2,574.4 268.5,575.0 268.8,578.3 269.1,581.6 269.5,583.6 269.8,587.4 270.1,590.4 270.5,594.1 270.8,598.6 271.1,602.5 271.5,602.6 271.8,603.7 272.1,604.0 272.4,605.5 272.8,606.0 273.1,607.1 273.4,607.5 273.8,609.7 274.1,612.4 274.4,615.3 274.8,617.8 275.1,621.0 275.4,623.2 275.7,629.6 276.1,632.6 276.4,636.6 276.7,640.1 277.1,644.3 277.4,650.0 277.7,655.0 278.1,660.1 278.4,664.6 278.7,669.8 279.0,675.2 279.4,682.8 279.7,687.3 280.0,693.8 280.4,704.3 280.7,712.8 281.0,712.2 281.4,712.2 281.7,713.8 282.0,715.2 282.3,715.1 282.7,715.1 283.0,716.0 283.3,718.2 283.7,718.9 284.0,719.2 284.3,718.6 284.7,718.1 285.0,718.1 285.3,717.4 285.6,717.1 286.0,715.9 286.3,715.3 286.6,715.5 287.0,714.0 287.3,707.8 287.6,702.7 288.0,697.3 288.3,690.8 288.6,680.6 288.9,672.2 289.3,667.3 289.6,659.3 289.9,651.3 290.3,644.5 290.6,638.3 290.9,631.9 291.3,625.8 291.6,621.2 291.9,616.1 292.2,611.5 292.6,605.9 292.9,599.4 293.2,594.4 293.6,588.2 293.9,587.6 294.2,586.5 294.6,587.4 294.9,587.6 295.2,586.8 295.5,594.3 295.9,602.2 296.2,610.2 296.5,618.6 296.9,614.1 297.2,609.9 297.5,604.3 297.9,600.1 298.2,594.8 298.5,593.4 298.8,591.0 299.2,587.8 299.5,584.8 299.8,582.3 300.2,585.9 300.5,588.2 300.8,592.3 301.2,594.9 301.5,599.3 301.8,595.0 302.1,590.8 302.5,586.6 302.8,581.1 303.1,576.3 303.5,582.8 303.8,590.4 304.1,598.0 304.5,603.9 304.8,612.0 305.1,610.1 305.4,605.5 305.8,599.5 306.1,594.7 306.4,590.3 306.8,584.8 307.1,584.1 307.4,582.9 307.8,582.3 308.1,581.8 308.4,582.9 308.7,581.5 309.1,580.2 309.4,579.6 309.7,576.8 310.1,574.6 310.4,570.7 310.7,569.2 311.1,566.9 311.4,562.9 311.7,561.0 312.0,557.4 312.4,554.0 312.7,550.4 313.0,549.4 313.4,549.5 313.7,548.8 314.0,554.5 314.4,562.3 314.7,568.7 315.0,574.7 315.3,582.0 315.7,588.8 316.0,596.9 316.3,606.7 316.7,616.0 317.0,625.7 317.3,632.7 317.7,637.8 318.0,640.9 318.3,645.3 318.6,652.3 319.0,661.3 319.3,672.3 319.6,680.6 320.0,688.8 320.3,695.1 320.6,699.5 321.0,703.4 321.3,709.6 321.6,713.6 321.9,716.9 322.3,720.9 322.6,725.0 322.9,728.5 323.3,733.6 323.6,737.9 323.9,743.2 324.3,747.7 324.6,752.5 324.9,752.7 325.2,753.9 325.6,755.0 325.9,755.6 326.2,757.4 326.6,758.1 326.9,758.7 327.2,759.5 327.6,759.7 327.9,761.5 328.2,762.5 328.5,763.7 328.9,763.0 329.2,764.1 329.5,763.6 329.9,763.8 330.2,764.7 330.5,764.5 330.9,764.0 331.2,764.6 331.5,764.9 331.8,765.6 332.2,763.4 332.5,763.6 332.8,761.8 333.2,759.6 333.5,758.3 333.8,756.0 334.2,753.1 334.5,748.8 334.8,744.0 335.1,740.5 335.5,734.5 335.8,719.7 336.1,703.6 336.5,693.2 336.8,680.4 337.1,667.8 337.5,655.7 337.8,644.5 338.1,634.1 338.4,626.6 338.8,620.8 339.1,626.6 339.4,635.7 339.8,643.5 340.1,650.1 340.4,652.9 340.8,654.7 341.1,658.3 341.4,660.0 341.7,662.7 342.1,655.1 342.4,646.2 342.7,639.9 343.1,634.0 343.4,627.4 343.7,631.1 344.1,633.8 344.4,636.4 344.7,637.9 345.0,641.8 345.4,634.4 345.7,627.6 346.0,619.5 346.4,611.9 346.7,606.7 347.0,610.7 347.4,614.8 347.7,618.3 348.0,623.2 348.3,627.9 348.7,621.2 349.0,614.9 349.3,607.8 349.7,603.0 350.0,596.1 350.3,598.4 350.7,602.0 351.0,603.8 351.3,604.8 351.6,606.7 352.0,602.5 352.3,599.5 352.6,594.8 353.0,589.8 353.3,585.7 353.6,583.2 354.0,579.0 354.3,576.8 354.6,573.9 354.9,590.5 355.3,607.0 355.6,626.2 355.9,636.6 356.3,631.2 356.6,627.8 356.9,622.2 357.3,616.0 357.6,612.5 357.9,610.4 358.2,608.6 358.6,605.9 358.9,604.5 359.2,601.4 359.6,599.2 359.9,596.0 360.2,596.7 360.6,598.9 360.9,600.3 361.2,601.9 361.5,603.7 361.9,607.3 362.2,611.6 362.5,615.6 362.9,619.7 363.2,622.9 363.5,626.6 363.9,630.0 364.2,634.8 364.5,639.2 364.8,642.9 365.2,645.2 365.5,642.6 365.8,642.0 366.2,641.3 366.5,639.8 366.8,644.6 367.2,648.5 367.5,652.1 367.8,658.0 368.1,661.5 368.5,663.6 368.8,665.9 369.1,668.6 369.5,671.7 369.8,674.9 370.1,675.3 370.5,676.7 370.8,679.1 371.1,678.7 371.4,679.2 371.8,680.9 372.1,683.2 372.4,683.9 372.8,684.8 373.1,685.9 373.4,688.4 373.8,690.0 374.1,689.1 374.4,689.0 374.7,690.0 375.1,690.8 375.4,693.0 375.7,694.6 376.1,695.1 376.4,694.0 376.7,692.5 377.1,691.9 377.4,689.5 377.7,685.8 378.0,683.5 378.4,681.8 378.7,677.8 379.0,676.2 379.4,672.6 379.7,667.7 380.0,663.5 380.4,658.9 380.7,654.7 381.0,650.4 381.3,644.7 381.7,640.6 382.0,636.0 382.3,631.3 382.7,625.9 383.0,621.5 383.3,619.4 383.7,615.9 384.0,612.4 384.3,610.7 384.6,608.8 385.0,608.0 385.3,606.6 385.6,605.3 386.0,606.5 386.3,606.4 386.6,608.4 387.0,607.3 387.3,610.4 387.6,609.7 387.9,611.0 388.3,611.9 388.6,611.2 388.9,611.1 389.3,610.3 389.6,608.4 389.9,608.6 390.3,609.1 390.6,608.1 390.9,605.9 391.2,604.9 391.6,604.5 391.9,603.8 392.2,603.5 392.6,602.5 392.9,601.5 393.2,598.6 393.6,600.0 393.9,598.9 394.2,598.6 394.5,597.3 394.9,596.6 395.2,597.0 395.5,598.5 395.9,599.6 396.2,599.8 396.5,601.0 396.9,600.2 397.2,600.6 397.5,600.4 397.8,601.9 398.2,602.1 398.5,603.2 398.8,604.7 399.2,603.1 399.5,605.5 399.8,605.2 400.2,597.9 400.5,589.8 400.8,583.4 401.1,575.5 401.5,570.1 401.8,567.8 402.1,566.9 402.5,563.7 402.8,561.7 403.1,559.6 403.5,559.7 403.8,557.8 404.1,557.0 404.4,554.5 404.8,553.0 405.1,557.6 405.4,562.4 405.8,566.2 406.1,570.8 406.4,576.2 406.8,580.8 407.1,585.8 407.4,590.2 407.7,596.6 408.1,602.6 408.4,603.1 408.7,603.2 409.1,604.9 409.4,605.3 409.7,604.9 410.1,604.5 410.4,605.0 410.7,606.4 411.0,602.9 411.4,602.3 411.7,598.8 412.0,595.4 412.4,595.3 412.7,596.8 413.0,599.2 413.4,600.4 413.7,602.0 414.0,606.1 414.3,615.0 414.7,623.0 415.0,630.1 415.3,639.5 415.7,646.7 416.0,650.7 416.3,654.5 416.7,657.1 417.0,663.1 417.3,665.2 417.6,663.8 418.0,662.8 418.3,661.2 418.6,658.7 419.0,657.4 419.3,660.0 419.6,663.1 420.0,665.7 420.3,667.6 420.6,670.2 420.9,671.6 421.3,673.2 421.6,674.3 421.9,676.4 422.3,674.2 422.6,657.3 422.9,639.7 423.3,623.1 423.6,607.2 423.9,594.2 424.2,594.6 424.6,595.3 424.9,594.6 425.2,593.8 425.6,593.2 425.9,594.1 426.2,593.7 426.6,592.0 426.9,591.0 427.2,588.1 427.5,586.8 427.9,585.3 428.2,584.0 428.5,582.2 428.9,582.4 429.2,582.6 429.5,580.1 429.9,579.2" fill="none" stroke="#8cc850" stroke-width="4.7" stroke-linejoin="round" stroke-linecap="round" clip-path="url(#c3)"/>
<line x1="102.5" y1="794.3" x2="430.1" y2="794.3" stroke="#000" stroke-width="1.25"/>
<line x1="102.5" y1="728.9" x2="430.1" y2="728.9" stroke="#000" stroke-width="1.25"/>
<line x1="102.5" y1="663.5" x2="430.1" y2="663.5" stroke="#000" stroke-width="1.25"/>
<line x1="102.5" y1="598.1" x2="430.1" y2="598.1" stroke="#000" stroke-width="1.25"/>
<line x1="102.5" y1="859.7" x2="276" y2="859.7" stroke="#47b04b" stroke-width="13.8" stroke-linecap="round"/>
<line x1="277.3" y1="854.2" x2="277.3" y2="854.2" stroke="#47b04b" stroke-width="13.8" stroke-linecap="round"/>
<line x1="278.6" y1="835.6" x2="322.6" y2="835.6" stroke="#47b04b" stroke-width="13.8" stroke-linecap="round"/>
<line x1="325.1" y1="826.5" x2="325.1" y2="826.5" stroke="#47b04b" stroke-width="13.8" stroke-linecap="round"/>
<line x1="328.4" y1="818.6" x2="367.6" y2="818.6" stroke="#47b04b" stroke-width="13.8" stroke-linecap="round"/>
<line x1="369.5" y1="810.5" x2="369.5" y2="810.5" stroke="#47b04b" stroke-width="13.8" stroke-linecap="round"/>
<line x1="371.4" y1="796.9" x2="412" y2="796.9" stroke="#47b04b" stroke-width="13.8" stroke-linecap="round"/>
<line x1="414" y1="788.9" x2="414" y2="788.9" stroke="#47b04b" stroke-width="13.8" stroke-linecap="round"/>
<line x1="415.9" y1="775.7" x2="422.2" y2="775.7" stroke="#47b04b" stroke-width="13.8" stroke-linecap="round"/>
<line x1="423.3" y1="754.9" x2="429.6" y2="754.9" stroke="#47b04b" stroke-width="13.8" stroke-linecap="round"/>
<rect x="102.5" y="532.4" width="327.6" height="327.6" fill="none" stroke="#000" stroke-width="1.45"/>
<line x1="102.5" y1="860" x2="102.5" y2="868.5" stroke="#000" stroke-width="1.1"/>
<line x1="102.5" y1="532.4" x2="102.5" y2="523.9" stroke="#000" stroke-width="1.1"/>
<text x="102.5" y="890.4" font-size="15" text-anchor="middle" fill="#000">15/23</text>
<line x1="149.3" y1="860" x2="149.3" y2="868.5" stroke="#000" stroke-width="1.1"/>
<line x1="149.3" y1="532.4" x2="149.3" y2="523.9" stroke="#000" stroke-width="1.1"/>
<text x="149.3" y="890.4" font-size="15" text-anchor="middle" fill="#000">16/23</text>
<line x1="196.1" y1="860" x2="196.1" y2="868.5" stroke="#000" stroke-width="1.1"/>
<line x1="196.1" y1="532.4" x2="196.1" y2="523.9" stroke="#000" stroke-width="1.1"/>
<text x="196.1" y="890.4" font-size="15" text-anchor="middle" fill="#000">17/23</text>
<line x1="242.9" y1="860" x2="242.9" y2="868.5" stroke="#000" stroke-width="1.1"/>
<line x1="242.9" y1="532.4" x2="242.9" y2="523.9" stroke="#000" stroke-width="1.1"/>
<text x="242.9" y="890.4" font-size="15" text-anchor="middle" fill="#000">18/23</text>
<line x1="289.7" y1="860" x2="289.7" y2="868.5" stroke="#000" stroke-width="1.1"/>
<line x1="289.7" y1="532.4" x2="289.7" y2="523.9" stroke="#000" stroke-width="1.1"/>
<text x="289.7" y="890.4" font-size="15" text-anchor="middle" fill="#000">19/23</text>
<line x1="336.5" y1="860" x2="336.5" y2="868.5" stroke="#000" stroke-width="1.1"/>
<line x1="336.5" y1="532.4" x2="336.5" y2="523.9" stroke="#000" stroke-width="1.1"/>
<text x="336.5" y="890.4" font-size="15" text-anchor="middle" fill="#000">20/23</text>
<line x1="383.3" y1="860" x2="383.3" y2="868.5" stroke="#000" stroke-width="1.1"/>
<line x1="383.3" y1="532.4" x2="383.3" y2="523.9" stroke="#000" stroke-width="1.1"/>
<text x="383.3" y="890.4" font-size="15" text-anchor="middle" fill="#000">21/23</text>
<line x1="430.1" y1="860" x2="430.1" y2="868.5" stroke="#000" stroke-width="1.1"/>
<line x1="430.1" y1="532.4" x2="430.1" y2="523.9" stroke="#000" stroke-width="1.1"/>
<text x="430.1" y="890.4" font-size="15" text-anchor="middle" fill="#000">22/23</text>
<text x="266.7" y="918.9" font-size="21.1" text-anchor="middle" fill="#000">Time (Day/UTC)</text>
<line x1="98.2" y1="827" x2="102.5" y2="827" stroke="#000" stroke-width="0.8"/>
<line x1="98.2" y1="761.6" x2="102.5" y2="761.6" stroke="#000" stroke-width="0.8"/>
<line x1="98.2" y1="696.2" x2="102.5" y2="696.2" stroke="#000" stroke-width="0.8"/>
<line x1="98.2" y1="630.8" x2="102.5" y2="630.8" stroke="#000" stroke-width="0.8"/>
<line x1="98.2" y1="565.4" x2="102.5" y2="565.4" stroke="#000" stroke-width="0.8"/>
<line x1="94" y1="859.7" x2="102.5" y2="859.7" stroke="#000" stroke-width="1.1"/>
<text x="83.9" y="865.1" font-size="15" text-anchor="end" fill="#000">0</text>
<line x1="94" y1="794.3" x2="102.5" y2="794.3" stroke="#000" stroke-width="1.1"/>
<text x="83.9" y="799.7" font-size="15" text-anchor="end" fill="#000">20</text>
<line x1="94" y1="728.9" x2="102.5" y2="728.9" stroke="#000" stroke-width="1.1"/>
<text x="83.9" y="734.3" font-size="15" text-anchor="end" fill="#000">40</text>
<line x1="94" y1="663.5" x2="102.5" y2="663.5" stroke="#000" stroke-width="1.1"/>
<text x="83.9" y="668.9" font-size="15" text-anchor="end" fill="#000">60</text>
<line x1="94" y1="598.1" x2="102.5" y2="598.1" stroke="#000" stroke-width="1.1"/>
<text x="83.9" y="603.5" font-size="15" text-anchor="end" fill="#000">80</text>
<line x1="94" y1="532.7" x2="102.5" y2="532.7" stroke="#000" stroke-width="1.1"/>
<text x="83.9" y="538.1" font-size="15" text-anchor="end" fill="#000">100</text>
<line x1="430.1" y1="842.7" x2="434.4" y2="842.7" stroke="#000" stroke-width="0.8"/>
<line x1="430.1" y1="825.7" x2="434.4" y2="825.7" stroke="#000" stroke-width="0.8"/>
<line x1="430.1" y1="791.7" x2="434.4" y2="791.7" stroke="#000" stroke-width="0.8"/>
<line x1="430.1" y1="774.7" x2="434.4" y2="774.7" stroke="#000" stroke-width="0.8"/>
<line x1="430.1" y1="740.7" x2="434.4" y2="740.7" stroke="#000" stroke-width="0.8"/>
<line x1="430.1" y1="723.7" x2="434.4" y2="723.7" stroke="#000" stroke-width="0.8"/>
<line x1="430.1" y1="689.7" x2="434.4" y2="689.7" stroke="#000" stroke-width="0.8"/>
<line x1="430.1" y1="672.7" x2="434.4" y2="672.7" stroke="#000" stroke-width="0.8"/>
<line x1="430.1" y1="638.7" x2="434.4" y2="638.7" stroke="#000" stroke-width="0.8"/>
<line x1="430.1" y1="621.7" x2="434.4" y2="621.7" stroke="#000" stroke-width="0.8"/>
<line x1="430.1" y1="587.7" x2="434.4" y2="587.7" stroke="#000" stroke-width="0.8"/>
<line x1="430.1" y1="570.7" x2="434.4" y2="570.7" stroke="#000" stroke-width="0.8"/>
<line x1="430.1" y1="536.7" x2="434.4" y2="536.7" stroke="#000" stroke-width="0.8"/>
<line x1="430.1" y1="859.7" x2="438.6" y2="859.7" stroke="#000" stroke-width="1.1"/>
<text x="448.7" y="865.1" font-size="15" text-anchor="start" fill="#000">0.00</text>
<line x1="430.1" y1="808.7" x2="438.6" y2="808.7" stroke="#000" stroke-width="1.1"/>
<text x="448.7" y="814.1" font-size="15" text-anchor="start" fill="#000">0.03</text>
<line x1="430.1" y1="757.7" x2="438.6" y2="757.7" stroke="#000" stroke-width="1.1"/>
<text x="448.7" y="763.1" font-size="15" text-anchor="start" fill="#000">0.06</text>
<line x1="430.1" y1="706.7" x2="438.6" y2="706.7" stroke="#000" stroke-width="1.1"/>
<text x="448.7" y="712.1" font-size="15" text-anchor="start" fill="#000">0.09</text>
<line x1="430.1" y1="655.7" x2="438.6" y2="655.7" stroke="#000" stroke-width="1.1"/>
<text x="448.7" y="661.1" font-size="15" text-anchor="start" fill="#000">0.12</text>
<line x1="430.1" y1="604.7" x2="438.6" y2="604.7" stroke="#000" stroke-width="1.1"/>
<text x="448.7" y="610.1" font-size="15" text-anchor="start" fill="#000">0.15</text>
<line x1="430.1" y1="553.7" x2="438.6" y2="553.7" stroke="#000" stroke-width="1.1"/>
<text x="448.7" y="559.1" font-size="15" text-anchor="start" fill="#000">0.18</text>
</g>
<g id="p4">
<clipPath id="c4"><rect x="611.5" y="529.5" width="333.6" height="333.6"/></clipPath>
<g clip-path="url(#c4)">
<g fill="#b5e2f8">
<circle cx="615.0" cy="578.4" r="2.65"/><circle cx="614.8" cy="550.7" r="2.65"/><circle cx="615.4" cy="578.2" r="2.65"/><circle cx="638.5" cy="600.5" r="2.65"/><circle cx="622.0" cy="596.6" r="2.65"/><circle cx="620.6" cy="633.2" r="2.65"/><circle cx="637.1" cy="569.0" r="2.65"/><circle cx="637.9" cy="561.3" r="2.65"/><circle cx="633.5" cy="625.5" r="2.65"/><circle cx="637.8" cy="572.9" r="2.65"/><circle cx="638.1" cy="623.7" r="2.65"/><circle cx="632.7" cy="636.3" r="2.65"/><circle cx="633.0" cy="632.3" r="2.65"/><circle cx="638.9" cy="581.1" r="2.65"/><circle cx="635.8" cy="601.2" r="2.65"/><circle cx="675.6" cy="592.6" r="2.65"/><circle cx="680.9" cy="589.1" r="2.65"/><circle cx="680.5" cy="583.2" r="2.65"/><circle cx="677.9" cy="605.3" r="2.65"/><circle cx="678.4" cy="582.6" r="2.65"/><circle cx="685.7" cy="552.8" r="2.65"/><circle cx="683.3" cy="565.5" r="2.65"/><circle cx="676.3" cy="555.2" r="2.65"/><circle cx="683.7" cy="565.5" r="2.65"/><circle cx="722.2" cy="573.5" r="2.65"/><circle cx="717.6" cy="578.2" r="2.65"/><circle cx="725.5" cy="574.8" r="2.65"/><circle cx="726.0" cy="591.9" r="2.65"/><circle cx="716.9" cy="585.3" r="2.65"/><circle cx="724.8" cy="592.6" r="2.65"/><circle cx="726.0" cy="604.1" r="2.65"/><circle cx="720.1" cy="597.6" r="2.65"/><circle cx="725.7" cy="634.6" r="2.65"/><circle cx="732.4" cy="534.6" r="2.65"/><circle cx="727.4" cy="579.8" r="2.65"/><circle cx="631.1" cy="651.2" r="2.65"/><circle cx="626.9" cy="667.0" r="2.65"/><circle cx="631.9" cy="686.9" r="2.65"/><circle cx="680.1" cy="652.9" r="2.65"/><circle cx="680.1" cy="668.6" r="2.65"/><circle cx="685.9" cy="676.1" r="2.65"/><circle cx="714.1" cy="659.5" r="2.65"/><circle cx="714.1" cy="671.9" r="2.65"/><circle cx="726.6" cy="672.8" r="2.65"/><circle cx="728.2" cy="680.2" r="2.65"/><circle cx="726.6" cy="687.7" r="2.65"/><circle cx="685.0" cy="637.9" r="2.65"/><circle cx="728.2" cy="699.3" r="2.65"/><circle cx="828.0" cy="566.9" r="2.65"/><circle cx="849.5" cy="551.9" r="2.65"/><circle cx="850.4" cy="607.2" r="2.65"/><circle cx="866.1" cy="536.3" r="2.65"/><circle cx="813.0" cy="658.7" r="2.65"/><circle cx="813.0" cy="664.5" r="2.65"/><circle cx="813.8" cy="690.2" r="2.65"/><circle cx="825.8" cy="687.4" r="2.65"/><circle cx="938.4" cy="594.7" r="2.65"/><circle cx="861.8" cy="565.3" r="2.65"/><circle cx="859.7" cy="585.7" r="2.65"/><circle cx="859.1" cy="566.8" r="2.65"/><circle cx="864.0" cy="602.2" r="2.65"/><circle cx="632.3" cy="706.5" r="2.65"/><circle cx="636.0" cy="720.9" r="2.65"/><circle cx="633.9" cy="731.1" r="2.65"/><circle cx="632.6" cy="716.9" r="2.65"/><circle cx="632.1" cy="721.5" r="2.65"/><circle cx="630.4" cy="713.7" r="2.65"/><circle cx="633.6" cy="710.0" r="2.65"/><circle cx="634.0" cy="706.4" r="2.65"/><circle cx="638.7" cy="799.8" r="2.65"/><circle cx="641.5" cy="784.0" r="2.65"/><circle cx="639.0" cy="776.5" r="2.65"/><circle cx="640.1" cy="780.4" r="2.65"/><circle cx="641.1" cy="796.5" r="2.65"/><circle cx="641.7" cy="775.6" r="2.65"/><circle cx="637.2" cy="803.4" r="2.65"/><circle cx="638.9" cy="793.2" r="2.65"/><circle cx="640.1" cy="797.1" r="2.65"/><circle cx="640.5" cy="798.9" r="2.65"/><circle cx="632.8" cy="791.6" r="2.65"/><circle cx="724.3" cy="711.2" r="2.65"/><circle cx="729.1" cy="706.7" r="2.65"/><circle cx="724.9" cy="707.4" r="2.65"/><circle cx="725.1" cy="707.4" r="2.65"/><circle cx="726.0" cy="705.6" r="2.65"/><circle cx="725.5" cy="712.6" r="2.65"/><circle cx="736.3" cy="733.2" r="2.65"/><circle cx="733.4" cy="750.0" r="2.65"/><circle cx="733.0" cy="755.7" r="2.65"/><circle cx="729.0" cy="734.7" r="2.65"/><circle cx="724.9" cy="750.9" r="2.65"/><circle cx="724.9" cy="757.6" r="2.65"/><circle cx="674.3" cy="736.0" r="2.65"/><circle cx="680.1" cy="741.0" r="2.65"/><circle cx="674.3" cy="744.8" r="2.65"/><circle cx="674.3" cy="721.1" r="2.65"/><circle cx="677.6" cy="824.8" r="2.65"/><circle cx="677.6" cy="834.4" r="2.65"/><circle cx="720.7" cy="808.2" r="2.65"/><circle cx="719.9" cy="825.6" r="2.65"/><circle cx="719.9" cy="834.4" r="2.65"/><circle cx="731.5" cy="844.4" r="2.65"/><circle cx="719.9" cy="848.1" r="2.65"/><circle cx="727.4" cy="851.4" r="2.65"/><circle cx="715.8" cy="853.0" r="2.65"/><circle cx="721.6" cy="857.2" r="2.65"/><circle cx="715.8" cy="777.5" r="2.65"/><circle cx="724.9" cy="776.7" r="2.65"/><circle cx="631.9" cy="858.8" r="2.65"/><circle cx="635.2" cy="859.3" r="2.65"/><circle cx="828.4" cy="773.7" r="2.65"/><circle cx="828.2" cy="773.2" r="2.65"/><circle cx="825.6" cy="773.8" r="2.65"/><circle cx="828.1" cy="773.9" r="2.65"/><circle cx="828.0" cy="808.2" r="2.65"/><circle cx="828.0" cy="813.2" r="2.65"/><circle cx="828.8" cy="843.1" r="2.65"/><circle cx="828.0" cy="848.1" r="2.65"/><circle cx="827.1" cy="853.0" r="2.65"/><circle cx="810.5" cy="704.0" r="2.65"/><circle cx="851.2" cy="708.6" r="2.65"/><circle cx="861.2" cy="703.6" r="2.65"/><circle cx="861.2" cy="711.9" r="2.65"/><circle cx="858.3" cy="729.4" r="2.65"/><circle cx="861.2" cy="762.9" r="2.65"/><circle cx="849.5" cy="766.7" r="2.65"/><circle cx="858.3" cy="789.1" r="2.65"/><circle cx="866.1" cy="836.1" r="2.65"/><circle cx="865.3" cy="850.5" r="2.65"/><circle cx="861.2" cy="858.8" r="2.65"/><circle cx="866.1" cy="741.8" r="2.65"/><circle cx="937.5" cy="824.8" r="2.65"/><circle cx="940.0" cy="826.5" r="2.65"/><circle cx="938.4" cy="766.7" r="2.65"/><circle cx="939.2" cy="659.5" r="2.65"/><circle cx="860.5" cy="703.3" r="2.65"/><circle cx="860.5" cy="711.6" r="2.65"/><circle cx="858.6" cy="729.3" r="2.65"/>
</g>
<g fill="#78b5e2">
<circle cx="615.4" cy="556.4" r="2.65"/><circle cx="614.5" cy="582.4" r="2.65"/><circle cx="615.4" cy="564.2" r="2.65"/><circle cx="616.2" cy="591.2" r="2.65"/><circle cx="615.7" cy="551.8" r="2.65"/><circle cx="614.8" cy="538.3" r="2.65"/><circle cx="616.6" cy="554.2" r="2.65"/><circle cx="616.5" cy="539.9" r="2.65"/><circle cx="614.5" cy="567.7" r="2.65"/><circle cx="622.3" cy="613.0" r="2.65"/><circle cx="624.9" cy="611.1" r="2.65"/><circle cx="621.1" cy="612.5" r="2.65"/><circle cx="625.1" cy="628.4" r="2.65"/><circle cx="628.5" cy="606.2" r="2.65"/><circle cx="635.4" cy="628.3" r="2.65"/><circle cx="620.8" cy="621.3" r="2.65"/><circle cx="615.9" cy="615.4" r="2.65"/><circle cx="632.5" cy="614.3" r="2.65"/><circle cx="634.9" cy="602.7" r="2.65"/><circle cx="621.9" cy="623.9" r="2.65"/><circle cx="635.7" cy="611.5" r="2.65"/><circle cx="632.7" cy="616.4" r="2.65"/><circle cx="618.1" cy="620.0" r="2.65"/><circle cx="636.1" cy="610.6" r="2.65"/><circle cx="624.8" cy="632.2" r="2.65"/><circle cx="616.2" cy="642.8" r="2.65"/><circle cx="632.0" cy="616.3" r="2.65"/><circle cx="630.8" cy="605.1" r="2.65"/><circle cx="633.5" cy="631.6" r="2.65"/><circle cx="634.1" cy="563.5" r="2.65"/><circle cx="632.4" cy="605.3" r="2.65"/><circle cx="638.3" cy="555.6" r="2.65"/><circle cx="639.3" cy="583.2" r="2.65"/><circle cx="635.9" cy="628.9" r="2.65"/><circle cx="635.5" cy="585.5" r="2.65"/><circle cx="638.6" cy="571.4" r="2.65"/><circle cx="637.2" cy="619.2" r="2.65"/><circle cx="638.6" cy="637.5" r="2.65"/><circle cx="639.0" cy="627.6" r="2.65"/><circle cx="633.6" cy="624.1" r="2.65"/><circle cx="637.1" cy="624.2" r="2.65"/><circle cx="633.9" cy="563.1" r="2.65"/><circle cx="636.3" cy="569.7" r="2.65"/><circle cx="634.1" cy="576.3" r="2.65"/><circle cx="633.7" cy="627.5" r="2.65"/><circle cx="620.6" cy="616.3" r="2.65"/><circle cx="619.8" cy="617.7" r="2.65"/><circle cx="626.3" cy="627.7" r="2.65"/><circle cx="622.7" cy="616.1" r="2.65"/><circle cx="621.6" cy="627.5" r="2.65"/><circle cx="617.2" cy="612.8" r="2.65"/><circle cx="627.7" cy="624.5" r="2.65"/><circle cx="622.4" cy="605.5" r="2.65"/><circle cx="616.0" cy="610.4" r="2.65"/><circle cx="662.8" cy="567.8" r="2.65"/><circle cx="660.9" cy="587.8" r="2.65"/><circle cx="662.3" cy="583.6" r="2.65"/><circle cx="661.3" cy="596.2" r="2.65"/><circle cx="661.0" cy="561.2" r="2.65"/><circle cx="662.1" cy="552.3" r="2.65"/><circle cx="662.4" cy="590.6" r="2.65"/><circle cx="661.6" cy="552.0" r="2.65"/><circle cx="661.9" cy="554.1" r="2.65"/><circle cx="660.7" cy="564.6" r="2.65"/><circle cx="664.3" cy="623.4" r="2.65"/><circle cx="686.0" cy="576.8" r="2.65"/><circle cx="678.5" cy="577.3" r="2.65"/><circle cx="682.9" cy="596.0" r="2.65"/><circle cx="674.9" cy="599.5" r="2.65"/><circle cx="678.7" cy="579.6" r="2.65"/><circle cx="683.5" cy="587.1" r="2.65"/><circle cx="682.9" cy="606.3" r="2.65"/><circle cx="682.1" cy="570.8" r="2.65"/><circle cx="681.9" cy="575.4" r="2.65"/><circle cx="683.5" cy="596.5" r="2.65"/><circle cx="676.9" cy="575.3" r="2.65"/><circle cx="676.7" cy="575.9" r="2.65"/><circle cx="675.1" cy="594.2" r="2.65"/><circle cx="677.2" cy="596.7" r="2.65"/><circle cx="672.5" cy="591.6" r="2.65"/><circle cx="677.1" cy="583.5" r="2.65"/><circle cx="683.5" cy="600.6" r="2.65"/><circle cx="679.7" cy="578.9" r="2.65"/><circle cx="674.2" cy="569.0" r="2.65"/><circle cx="672.6" cy="585.7" r="2.65"/><circle cx="686.2" cy="603.6" r="2.65"/><circle cx="682.8" cy="575.7" r="2.65"/><circle cx="684.0" cy="599.8" r="2.65"/><circle cx="678.0" cy="579.4" r="2.65"/><circle cx="678.5" cy="587.5" r="2.65"/><circle cx="683.3" cy="605.1" r="2.65"/><circle cx="677.4" cy="603.7" r="2.65"/><circle cx="683.3" cy="570.4" r="2.65"/><circle cx="685.6" cy="581.1" r="2.65"/><circle cx="673.7" cy="607.9" r="2.65"/><circle cx="677.3" cy="605.7" r="2.65"/><circle cx="675.5" cy="573.2" r="2.65"/><circle cx="677.5" cy="587.3" r="2.65"/><circle cx="674.6" cy="594.9" r="2.65"/><circle cx="679.3" cy="600.7" r="2.65"/><circle cx="680.6" cy="576.3" r="2.65"/><circle cx="681.3" cy="582.2" r="2.65"/><circle cx="676.6" cy="599.8" r="2.65"/><circle cx="680.7" cy="579.0" r="2.65"/><circle cx="672.4" cy="570.5" r="2.65"/><circle cx="683.6" cy="575.5" r="2.65"/><circle cx="686.6" cy="577.8" r="2.65"/><circle cx="675.9" cy="590.3" r="2.65"/><circle cx="672.2" cy="590.2" r="2.65"/><circle cx="686.6" cy="587.1" r="2.65"/><circle cx="675.6" cy="587.9" r="2.65"/><circle cx="673.5" cy="577.1" r="2.65"/><circle cx="684.0" cy="605.5" r="2.65"/><circle cx="675.4" cy="581.3" r="2.65"/><circle cx="675.6" cy="600.5" r="2.65"/><circle cx="676.5" cy="558.1" r="2.65"/><circle cx="680.2" cy="552.7" r="2.65"/><circle cx="677.5" cy="552.3" r="2.65"/><circle cx="683.8" cy="565.9" r="2.65"/><circle cx="675.8" cy="554.9" r="2.65"/><circle cx="680.0" cy="552.1" r="2.65"/><circle cx="701.9" cy="534.2" r="2.65"/><circle cx="703.4" cy="543.8" r="2.65"/><circle cx="706.9" cy="543.8" r="2.65"/><circle cx="704.5" cy="538.1" r="2.65"/><circle cx="703.2" cy="539.8" r="2.65"/><circle cx="705.9" cy="539.8" r="2.65"/><circle cx="719.6" cy="582.3" r="2.65"/><circle cx="722.0" cy="565.5" r="2.65"/><circle cx="717.0" cy="565.0" r="2.65"/><circle cx="723.1" cy="578.1" r="2.65"/><circle cx="725.6" cy="566.3" r="2.65"/><circle cx="726.1" cy="569.8" r="2.65"/><circle cx="722.8" cy="555.8" r="2.65"/><circle cx="720.3" cy="577.5" r="2.65"/><circle cx="721.1" cy="571.9" r="2.65"/><circle cx="718.7" cy="568.3" r="2.65"/><circle cx="720.7" cy="572.6" r="2.65"/><circle cx="726.3" cy="575.2" r="2.65"/><circle cx="716.1" cy="566.7" r="2.65"/><circle cx="724.0" cy="576.5" r="2.65"/><circle cx="717.1" cy="582.9" r="2.65"/><circle cx="716.0" cy="578.8" r="2.65"/><circle cx="721.8" cy="559.8" r="2.65"/><circle cx="725.8" cy="566.5" r="2.65"/><circle cx="726.3" cy="561.7" r="2.65"/><circle cx="716.1" cy="567.8" r="2.65"/><circle cx="724.4" cy="572.5" r="2.65"/><circle cx="718.4" cy="559.3" r="2.65"/><circle cx="717.2" cy="555.9" r="2.65"/><circle cx="719.4" cy="565.4" r="2.65"/><circle cx="724.3" cy="563.6" r="2.65"/><circle cx="718.8" cy="562.3" r="2.65"/><circle cx="719.9" cy="561.7" r="2.65"/><circle cx="717.4" cy="582.1" r="2.65"/><circle cx="721.1" cy="576.7" r="2.65"/><circle cx="718.9" cy="582.0" r="2.65"/><circle cx="723.8" cy="579.2" r="2.65"/><circle cx="720.6" cy="566.2" r="2.65"/><circle cx="726.4" cy="602.0" r="2.65"/><circle cx="727.4" cy="602.1" r="2.65"/><circle cx="724.4" cy="584.8" r="2.65"/><circle cx="726.2" cy="590.5" r="2.65"/><circle cx="721.5" cy="601.6" r="2.65"/><circle cx="725.8" cy="607.4" r="2.65"/><circle cx="720.0" cy="605.6" r="2.65"/><circle cx="720.2" cy="544.2" r="2.65"/><circle cx="722.9" cy="547.0" r="2.65"/><circle cx="722.5" cy="545.0" r="2.65"/><circle cx="726.6" cy="615.5" r="2.65"/><circle cx="726.2" cy="638.4" r="2.65"/><circle cx="733.3" cy="561.4" r="2.65"/><circle cx="731.6" cy="553.1" r="2.65"/><circle cx="735.5" cy="556.7" r="2.65"/><circle cx="733.3" cy="564.5" r="2.65"/><circle cx="626.9" cy="678.6" r="2.65"/><circle cx="631.1" cy="681.9" r="2.65"/><circle cx="638.6" cy="695.2" r="2.65"/><circle cx="674.3" cy="678.6" r="2.65"/><circle cx="680.1" cy="681.1" r="2.65"/><circle cx="690.9" cy="682.7" r="2.65"/><circle cx="695.0" cy="671.1" r="2.65"/><circle cx="685.0" cy="694.4" r="2.65"/><circle cx="672.6" cy="696.8" r="2.65"/><circle cx="780.0" cy="562.3" r="2.65"/><circle cx="783.6" cy="534.2" r="2.65"/><circle cx="805.3" cy="612.7" r="2.65"/><circle cx="811.0" cy="639.6" r="2.65"/><circle cx="812.0" cy="633.5" r="2.65"/><circle cx="813.3" cy="613.3" r="2.65"/><circle cx="804.9" cy="605.7" r="2.65"/><circle cx="815.2" cy="562.3" r="2.65"/><circle cx="815.2" cy="563.3" r="2.65"/><circle cx="818.7" cy="556.5" r="2.65"/><circle cx="815.6" cy="562.8" r="2.65"/><circle cx="815.9" cy="566.8" r="2.65"/><circle cx="817.4" cy="567.7" r="2.65"/><circle cx="817.2" cy="545.7" r="2.65"/><circle cx="818.3" cy="548.7" r="2.65"/><circle cx="817.0" cy="571.5" r="2.65"/><circle cx="817.2" cy="541.8" r="2.65"/><circle cx="818.7" cy="576.1" r="2.65"/><circle cx="818.7" cy="579.8" r="2.65"/><circle cx="825.4" cy="593.0" r="2.65"/><circle cx="821.3" cy="620.2" r="2.65"/><circle cx="824.0" cy="627.1" r="2.65"/><circle cx="824.1" cy="613.0" r="2.65"/><circle cx="826.6" cy="604.4" r="2.65"/><circle cx="827.0" cy="606.6" r="2.65"/><circle cx="822.3" cy="621.6" r="2.65"/><circle cx="826.3" cy="594.9" r="2.65"/><circle cx="817.3" cy="588.8" r="2.65"/><circle cx="817.4" cy="604.9" r="2.65"/><circle cx="825.6" cy="592.0" r="2.65"/><circle cx="822.7" cy="582.3" r="2.65"/><circle cx="821.0" cy="604.7" r="2.65"/><circle cx="825.4" cy="600.2" r="2.65"/><circle cx="819.8" cy="609.3" r="2.65"/><circle cx="826.3" cy="605.4" r="2.65"/><circle cx="824.4" cy="591.2" r="2.65"/><circle cx="824.7" cy="591.3" r="2.65"/><circle cx="817.0" cy="601.9" r="2.65"/><circle cx="817.5" cy="609.6" r="2.65"/><circle cx="821.8" cy="604.1" r="2.65"/><circle cx="826.3" cy="609.4" r="2.65"/><circle cx="825.3" cy="596.7" r="2.65"/><circle cx="824.2" cy="610.5" r="2.65"/><circle cx="825.3" cy="617.4" r="2.65"/><circle cx="823.7" cy="591.6" r="2.65"/><circle cx="826.7" cy="622.6" r="2.65"/><circle cx="820.3" cy="618.0" r="2.65"/><circle cx="820.7" cy="580.8" r="2.65"/><circle cx="824.3" cy="651.7" r="2.65"/><circle cx="858.5" cy="587.2" r="2.65"/><circle cx="863.6" cy="563.5" r="2.65"/><circle cx="862.0" cy="605.5" r="2.65"/><circle cx="861.8" cy="607.9" r="2.65"/><circle cx="861.7" cy="568.0" r="2.65"/><circle cx="860.1" cy="549.5" r="2.65"/><circle cx="858.2" cy="569.0" r="2.65"/><circle cx="862.6" cy="586.1" r="2.65"/><circle cx="859.9" cy="553.1" r="2.65"/><circle cx="858.6" cy="585.9" r="2.65"/><circle cx="857.7" cy="598.7" r="2.65"/><circle cx="862.6" cy="593.5" r="2.65"/><circle cx="860.9" cy="554.2" r="2.65"/><circle cx="860.8" cy="599.9" r="2.65"/><circle cx="861.1" cy="583.6" r="2.65"/><circle cx="863.7" cy="603.1" r="2.65"/><circle cx="859.1" cy="545.1" r="2.65"/><circle cx="859.9" cy="562.7" r="2.65"/><circle cx="862.7" cy="593.6" r="2.65"/><circle cx="858.9" cy="576.9" r="2.65"/><circle cx="860.2" cy="580.8" r="2.65"/><circle cx="864.5" cy="592.1" r="2.65"/><circle cx="861.0" cy="577.3" r="2.65"/><circle cx="865.8" cy="548.5" r="2.65"/><circle cx="857.9" cy="573.5" r="2.65"/><circle cx="858.1" cy="588.1" r="2.65"/><circle cx="865.8" cy="564.5" r="2.65"/><circle cx="858.0" cy="574.3" r="2.65"/><circle cx="863.9" cy="583.7" r="2.65"/><circle cx="858.5" cy="606.8" r="2.65"/><circle cx="859.5" cy="608.7" r="2.65"/><circle cx="862.4" cy="567.6" r="2.65"/><circle cx="862.8" cy="598.5" r="2.65"/><circle cx="859.1" cy="585.6" r="2.65"/><circle cx="865.0" cy="592.9" r="2.65"/><circle cx="865.6" cy="576.7" r="2.65"/><circle cx="861.4" cy="598.3" r="2.65"/><circle cx="857.1" cy="549.0" r="2.65"/><circle cx="848.7" cy="651.9" r="2.65"/><circle cx="851.2" cy="671.3" r="2.65"/><circle cx="851.2" cy="663.4" r="2.65"/><circle cx="856.9" cy="666.1" r="2.65"/><circle cx="849.9" cy="636.1" r="2.65"/><circle cx="856.6" cy="674.7" r="2.65"/><circle cx="852.6" cy="664.9" r="2.65"/><circle cx="853.5" cy="631.5" r="2.65"/><circle cx="849.9" cy="661.7" r="2.65"/><circle cx="857.4" cy="664.3" r="2.65"/><circle cx="854.2" cy="628.7" r="2.65"/><circle cx="850.8" cy="630.7" r="2.65"/><circle cx="850.9" cy="631.4" r="2.65"/><circle cx="852.4" cy="642.5" r="2.65"/><circle cx="849.4" cy="656.0" r="2.65"/><circle cx="852.2" cy="634.6" r="2.65"/><circle cx="848.4" cy="644.3" r="2.65"/><circle cx="856.7" cy="652.2" r="2.65"/><circle cx="855.9" cy="657.8" r="2.65"/><circle cx="847.2" cy="657.6" r="2.65"/><circle cx="917.5" cy="655.5" r="2.65"/><circle cx="915.5" cy="635.9" r="2.65"/><circle cx="918.3" cy="654.5" r="2.65"/><circle cx="913.3" cy="627.8" r="2.65"/><circle cx="917.2" cy="633.1" r="2.65"/><circle cx="916.9" cy="633.7" r="2.65"/><circle cx="916.7" cy="621.8" r="2.65"/><circle cx="912.5" cy="623.1" r="2.65"/><circle cx="915.0" cy="655.0" r="2.65"/><circle cx="917.6" cy="645.7" r="2.65"/><circle cx="916.6" cy="639.6" r="2.65"/><circle cx="913.5" cy="615.6" r="2.65"/><circle cx="913.6" cy="624.2" r="2.65"/><circle cx="912.3" cy="596.1" r="2.65"/><circle cx="914.8" cy="650.7" r="2.65"/><circle cx="913.8" cy="642.3" r="2.65"/><circle cx="913.5" cy="561.5" r="2.65"/><circle cx="935.0" cy="585.6" r="2.65"/><circle cx="941.1" cy="542.1" r="2.65"/><circle cx="939.9" cy="551.4" r="2.65"/><circle cx="941.3" cy="574.6" r="2.65"/><circle cx="942.4" cy="593.5" r="2.65"/><circle cx="632.8" cy="727.7" r="2.65"/><circle cx="645.0" cy="731.7" r="2.65"/><circle cx="643.0" cy="749.5" r="2.65"/><circle cx="640.9" cy="721.4" r="2.65"/><circle cx="646.6" cy="738.7" r="2.65"/><circle cx="644.3" cy="720.3" r="2.65"/><circle cx="644.6" cy="767.0" r="2.65"/><circle cx="644.6" cy="725.1" r="2.65"/><circle cx="641.6" cy="735.9" r="2.65"/><circle cx="642.8" cy="727.9" r="2.65"/><circle cx="640.4" cy="770.4" r="2.65"/><circle cx="642.4" cy="755.6" r="2.65"/><circle cx="644.7" cy="736.5" r="2.65"/><circle cx="643.1" cy="759.1" r="2.65"/><circle cx="646.4" cy="741.5" r="2.65"/><circle cx="646.8" cy="745.5" r="2.65"/><circle cx="641.0" cy="743.4" r="2.65"/><circle cx="641.6" cy="755.6" r="2.65"/><circle cx="643.8" cy="761.1" r="2.65"/><circle cx="644.6" cy="738.1" r="2.65"/><circle cx="642.1" cy="725.5" r="2.65"/><circle cx="641.2" cy="757.1" r="2.65"/><circle cx="645.3" cy="723.0" r="2.65"/><circle cx="642.9" cy="728.4" r="2.65"/><circle cx="645.2" cy="723.2" r="2.65"/><circle cx="640.9" cy="769.3" r="2.65"/><circle cx="643.3" cy="751.0" r="2.65"/><circle cx="646.5" cy="740.9" r="2.65"/><circle cx="645.8" cy="758.2" r="2.65"/><circle cx="645.6" cy="768.1" r="2.65"/><circle cx="640.4" cy="740.8" r="2.65"/><circle cx="640.8" cy="737.3" r="2.65"/><circle cx="640.9" cy="759.8" r="2.65"/><circle cx="641.9" cy="759.0" r="2.65"/><circle cx="646.5" cy="767.7" r="2.65"/><circle cx="640.8" cy="764.1" r="2.65"/><circle cx="696.1" cy="697.7" r="2.65"/><circle cx="687.4" cy="718.5" r="2.65"/><circle cx="688.3" cy="710.4" r="2.65"/><circle cx="697.0" cy="701.5" r="2.65"/><circle cx="697.0" cy="708.8" r="2.65"/><circle cx="694.5" cy="712.6" r="2.65"/><circle cx="694.5" cy="700.0" r="2.65"/><circle cx="693.8" cy="746.4" r="2.65"/><circle cx="693.2" cy="762.2" r="2.65"/><circle cx="687.4" cy="749.8" r="2.65"/><circle cx="690.0" cy="762.9" r="2.65"/><circle cx="700.8" cy="722.7" r="2.65"/><circle cx="700.8" cy="747.6" r="2.65"/><circle cx="685.0" cy="703.3" r="2.65"/><circle cx="701.6" cy="786.0" r="2.65"/><circle cx="706.3" cy="825.0" r="2.65"/><circle cx="702.1" cy="820.9" r="2.65"/><circle cx="706.8" cy="848.3" r="2.65"/><circle cx="704.3" cy="852.3" r="2.65"/><circle cx="707.3" cy="845.5" r="2.65"/><circle cx="704.5" cy="854.4" r="2.65"/><circle cx="704.1" cy="852.3" r="2.65"/><circle cx="728.9" cy="738.4" r="2.65"/><circle cx="732.4" cy="725.9" r="2.65"/><circle cx="733.6" cy="762.9" r="2.65"/><circle cx="730.5" cy="751.6" r="2.65"/><circle cx="734.2" cy="727.6" r="2.65"/><circle cx="730.5" cy="781.6" r="2.65"/><circle cx="728.4" cy="778.7" r="2.65"/><circle cx="730.8" cy="775.3" r="2.65"/><circle cx="728.6" cy="749.4" r="2.65"/><circle cx="729.5" cy="740.7" r="2.65"/><circle cx="728.3" cy="765.2" r="2.65"/><circle cx="730.0" cy="751.1" r="2.65"/><circle cx="728.9" cy="781.4" r="2.65"/><circle cx="729.6" cy="735.6" r="2.65"/><circle cx="724.9" cy="736.0" r="2.65"/><circle cx="737.3" cy="820.7" r="2.65"/><circle cx="771.4" cy="810.2" r="2.65"/><circle cx="672.6" cy="722.7" r="2.65"/><circle cx="672.6" cy="698.3" r="2.65"/><circle cx="685.0" cy="693.7" r="2.65"/><circle cx="638.6" cy="695.0" r="2.65"/><circle cx="719.9" cy="852.2" r="2.65"/><circle cx="829.3" cy="735.5" r="2.65"/><circle cx="834.1" cy="754.3" r="2.65"/><circle cx="829.1" cy="758.8" r="2.65"/><circle cx="833.4" cy="758.0" r="2.65"/><circle cx="830.9" cy="759.1" r="2.65"/><circle cx="830.0" cy="749.7" r="2.65"/><circle cx="827.1" cy="731.8" r="2.65"/><circle cx="825.5" cy="748.4" r="2.65"/><circle cx="826.3" cy="763.4" r="2.65"/><circle cx="832.8" cy="790.9" r="2.65"/><circle cx="829.7" cy="786.9" r="2.65"/><circle cx="850.3" cy="828.8" r="2.65"/><circle cx="847.9" cy="827.4" r="2.65"/><circle cx="848.2" cy="828.8" r="2.65"/><circle cx="849.4" cy="831.1" r="2.65"/><circle cx="849.8" cy="822.6" r="2.65"/><circle cx="849.8" cy="831.2" r="2.65"/><circle cx="848.7" cy="843.9" r="2.65"/><circle cx="828.8" cy="819.0" r="2.65"/><circle cx="816.3" cy="858.0" r="2.65"/><circle cx="833.8" cy="828.1" r="2.65"/><circle cx="826.3" cy="711.6" r="2.65"/><circle cx="826.3" cy="713.6" r="2.65"/><circle cx="853.4" cy="711.9" r="2.65"/><circle cx="866.1" cy="731.8" r="2.65"/><circle cx="866.1" cy="738.5" r="2.65"/><circle cx="937.5" cy="743.5" r="2.65"/><circle cx="937.5" cy="750.9" r="2.65"/><circle cx="937.5" cy="754.3" r="2.65"/><circle cx="937.5" cy="797.4" r="2.65"/><circle cx="940.0" cy="835.6" r="2.65"/><circle cx="940.0" cy="842.2" r="2.65"/><circle cx="940.0" cy="851.4" r="2.65"/><circle cx="940.8" cy="856.4" r="2.65"/><circle cx="915.8" cy="665.2" r="2.65"/><circle cx="915.8" cy="686.2" r="2.65"/><circle cx="916.4" cy="692.5" r="2.65"/><circle cx="917.7" cy="677.3" r="2.65"/><circle cx="936.7" cy="635.4" r="2.65"/><circle cx="936.1" cy="650.6" r="2.65"/><circle cx="935.4" cy="679.2" r="2.65"/><circle cx="936.7" cy="687.4" r="2.65"/><circle cx="936.7" cy="693.8" r="2.65"/><circle cx="861.2" cy="646.2" r="2.65"/><circle cx="859.3" cy="672.2" r="2.65"/><circle cx="866.3" cy="731.2" r="2.65"/><circle cx="866.3" cy="737.0" r="2.65"/>
</g>
<g fill="#468cc8">
<circle cx="616.3" cy="533.4" r="2.65"/><circle cx="616.4" cy="578.1" r="2.65"/><circle cx="637.0" cy="575.4" r="2.65"/><circle cx="634.7" cy="581.1" r="2.65"/><circle cx="636.3" cy="631.6" r="2.65"/><circle cx="632.2" cy="607.9" r="2.65"/><circle cx="622.7" cy="636.2" r="2.65"/><circle cx="623.3" cy="613.1" r="2.65"/><circle cx="624.0" cy="621.4" r="2.65"/><circle cx="629.2" cy="609.7" r="2.65"/><circle cx="630.1" cy="613.6" r="2.65"/><circle cx="627.6" cy="622.5" r="2.65"/><circle cx="627.6" cy="620.4" r="2.65"/><circle cx="627.1" cy="613.5" r="2.65"/><circle cx="620.9" cy="624.2" r="2.65"/><circle cx="621.5" cy="611.9" r="2.65"/><circle cx="623.4" cy="618.2" r="2.65"/><circle cx="627.1" cy="618.7" r="2.65"/><circle cx="621.8" cy="620.3" r="2.65"/><circle cx="625.0" cy="607.4" r="2.65"/><circle cx="624.3" cy="623.9" r="2.65"/><circle cx="623.0" cy="614.0" r="2.65"/><circle cx="618.3" cy="627.9" r="2.65"/><circle cx="629.6" cy="619.3" r="2.65"/><circle cx="623.4" cy="620.0" r="2.65"/><circle cx="619.1" cy="610.3" r="2.65"/><circle cx="621.8" cy="609.6" r="2.65"/><circle cx="621.8" cy="625.9" r="2.65"/><circle cx="625.1" cy="627.9" r="2.65"/><circle cx="616.5" cy="613.9" r="2.65"/><circle cx="619.1" cy="631.1" r="2.65"/><circle cx="619.3" cy="616.5" r="2.65"/><circle cx="622.2" cy="612.3" r="2.65"/><circle cx="623.8" cy="622.1" r="2.65"/><circle cx="623.4" cy="617.7" r="2.65"/><circle cx="617.3" cy="632.3" r="2.65"/><circle cx="629.5" cy="622.7" r="2.65"/><circle cx="620.4" cy="618.9" r="2.65"/><circle cx="625.6" cy="614.5" r="2.65"/><circle cx="620.4" cy="630.4" r="2.65"/><circle cx="625.8" cy="619.1" r="2.65"/><circle cx="624.2" cy="628.5" r="2.65"/><circle cx="624.7" cy="604.3" r="2.65"/><circle cx="628.6" cy="620.4" r="2.65"/><circle cx="621.7" cy="619.6" r="2.65"/><circle cx="627.3" cy="617.0" r="2.65"/><circle cx="622.9" cy="636.2" r="2.65"/><circle cx="626.5" cy="616.6" r="2.65"/><circle cx="627.2" cy="619.0" r="2.65"/><circle cx="620.5" cy="614.0" r="2.65"/><circle cx="617.6" cy="629.8" r="2.65"/><circle cx="626.1" cy="616.7" r="2.65"/><circle cx="623.4" cy="629.6" r="2.65"/><circle cx="624.0" cy="614.2" r="2.65"/><circle cx="620.1" cy="614.3" r="2.65"/><circle cx="618.7" cy="633.7" r="2.65"/><circle cx="623.6" cy="628.7" r="2.65"/><circle cx="624.9" cy="617.3" r="2.65"/><circle cx="627.4" cy="622.3" r="2.65"/><circle cx="622.8" cy="616.5" r="2.65"/><circle cx="623.9" cy="619.1" r="2.65"/><circle cx="622.5" cy="618.1" r="2.65"/><circle cx="634.4" cy="569.0" r="2.65"/><circle cx="634.4" cy="587.3" r="2.65"/><circle cx="626.1" cy="641.2" r="2.65"/><circle cx="660.8" cy="603.4" r="2.65"/><circle cx="661.4" cy="561.6" r="2.65"/><circle cx="662.6" cy="554.0" r="2.65"/><circle cx="663.3" cy="560.7" r="2.65"/><circle cx="668.9" cy="631.6" r="2.65"/><circle cx="667.6" cy="612.5" r="2.65"/><circle cx="671.6" cy="627.6" r="2.65"/><circle cx="672.6" cy="619.3" r="2.65"/><circle cx="664.3" cy="618.9" r="2.65"/><circle cx="670.7" cy="629.7" r="2.65"/><circle cx="662.5" cy="627.9" r="2.65"/><circle cx="673.4" cy="610.3" r="2.65"/><circle cx="668.3" cy="627.3" r="2.65"/><circle cx="662.2" cy="635.1" r="2.65"/><circle cx="674.6" cy="632.0" r="2.65"/><circle cx="674.4" cy="622.8" r="2.65"/><circle cx="664.5" cy="624.8" r="2.65"/><circle cx="665.9" cy="636.2" r="2.65"/><circle cx="674.8" cy="628.0" r="2.65"/><circle cx="666.9" cy="624.7" r="2.65"/><circle cx="668.5" cy="633.5" r="2.65"/><circle cx="672.8" cy="621.3" r="2.65"/><circle cx="669.7" cy="636.6" r="2.65"/><circle cx="664.9" cy="632.1" r="2.65"/><circle cx="671.6" cy="630.2" r="2.65"/><circle cx="669.3" cy="620.8" r="2.65"/><circle cx="667.4" cy="614.7" r="2.65"/><circle cx="674.0" cy="613.2" r="2.65"/><circle cx="670.0" cy="619.0" r="2.65"/><circle cx="663.7" cy="622.3" r="2.65"/><circle cx="670.7" cy="636.4" r="2.65"/><circle cx="665.2" cy="624.4" r="2.65"/><circle cx="663.7" cy="614.7" r="2.65"/><circle cx="668.5" cy="631.9" r="2.65"/><circle cx="665.8" cy="614.6" r="2.65"/><circle cx="671.6" cy="624.9" r="2.65"/><circle cx="670.5" cy="614.5" r="2.65"/><circle cx="667.2" cy="613.1" r="2.65"/><circle cx="671.2" cy="628.4" r="2.65"/><circle cx="663.5" cy="616.9" r="2.65"/><circle cx="671.6" cy="621.4" r="2.65"/><circle cx="666.6" cy="626.7" r="2.65"/><circle cx="667.4" cy="622.9" r="2.65"/><circle cx="663.3" cy="628.9" r="2.65"/><circle cx="675.0" cy="631.6" r="2.65"/><circle cx="664.2" cy="621.2" r="2.65"/><circle cx="665.6" cy="629.7" r="2.65"/><circle cx="674.2" cy="618.5" r="2.65"/><circle cx="671.6" cy="616.8" r="2.65"/><circle cx="674.8" cy="619.5" r="2.65"/><circle cx="667.2" cy="635.1" r="2.65"/><circle cx="665.7" cy="611.1" r="2.65"/><circle cx="666.3" cy="619.0" r="2.65"/><circle cx="667.3" cy="617.5" r="2.65"/><circle cx="672.4" cy="632.5" r="2.65"/><circle cx="674.8" cy="624.1" r="2.65"/><circle cx="663.7" cy="632.5" r="2.65"/><circle cx="674.2" cy="612.3" r="2.65"/><circle cx="673.3" cy="639.6" r="2.65"/><circle cx="667.0" cy="642.9" r="2.65"/><circle cx="666.5" cy="648.9" r="2.65"/><circle cx="669.0" cy="638.9" r="2.65"/><circle cx="672.4" cy="648.5" r="2.65"/><circle cx="672.5" cy="647.0" r="2.65"/><circle cx="667.3" cy="642.8" r="2.65"/><circle cx="668.5" cy="646.7" r="2.65"/><circle cx="672.6" cy="646.1" r="2.65"/><circle cx="666.9" cy="639.5" r="2.65"/><circle cx="680.1" cy="625.1" r="2.65"/><circle cx="708.9" cy="644.7" r="2.65"/><circle cx="711.3" cy="632.8" r="2.65"/><circle cx="708.9" cy="604.8" r="2.65"/><circle cx="710.1" cy="628.5" r="2.65"/><circle cx="713.5" cy="646.2" r="2.65"/><circle cx="711.0" cy="628.2" r="2.65"/><circle cx="710.3" cy="626.9" r="2.65"/><circle cx="712.2" cy="637.3" r="2.65"/><circle cx="705.2" cy="622.7" r="2.65"/><circle cx="711.5" cy="615.9" r="2.65"/><circle cx="713.9" cy="632.1" r="2.65"/><circle cx="709.0" cy="622.8" r="2.65"/><circle cx="709.5" cy="601.1" r="2.65"/><circle cx="706.6" cy="629.3" r="2.65"/><circle cx="712.7" cy="609.7" r="2.65"/><circle cx="711.5" cy="630.7" r="2.65"/><circle cx="708.9" cy="608.6" r="2.65"/><circle cx="708.9" cy="629.3" r="2.65"/><circle cx="710.9" cy="626.1" r="2.65"/><circle cx="713.6" cy="597.2" r="2.65"/><circle cx="712.1" cy="610.8" r="2.65"/><circle cx="713.1" cy="616.5" r="2.65"/><circle cx="707.4" cy="633.4" r="2.65"/><circle cx="714.1" cy="638.0" r="2.65"/><circle cx="712.2" cy="609.9" r="2.65"/><circle cx="709.0" cy="628.0" r="2.65"/><circle cx="710.4" cy="621.1" r="2.65"/><circle cx="705.4" cy="597.6" r="2.65"/><circle cx="710.2" cy="622.2" r="2.65"/><circle cx="715.9" cy="628.8" r="2.65"/><circle cx="709.5" cy="630.4" r="2.65"/><circle cx="712.5" cy="618.9" r="2.65"/><circle cx="714.6" cy="610.1" r="2.65"/><circle cx="712.8" cy="629.7" r="2.65"/><circle cx="709.6" cy="646.2" r="2.65"/><circle cx="707.6" cy="614.2" r="2.65"/><circle cx="709.2" cy="615.3" r="2.65"/><circle cx="709.7" cy="621.9" r="2.65"/><circle cx="708.0" cy="621.2" r="2.65"/><circle cx="713.1" cy="608.3" r="2.65"/><circle cx="706.1" cy="614.5" r="2.65"/><circle cx="714.5" cy="618.7" r="2.65"/><circle cx="706.3" cy="604.4" r="2.65"/><circle cx="707.3" cy="634.8" r="2.65"/><circle cx="711.1" cy="624.1" r="2.65"/><circle cx="712.7" cy="611.6" r="2.65"/><circle cx="713.8" cy="622.9" r="2.65"/><circle cx="709.9" cy="620.9" r="2.65"/><circle cx="710.1" cy="598.8" r="2.65"/><circle cx="710.3" cy="626.1" r="2.65"/><circle cx="714.7" cy="604.9" r="2.65"/><circle cx="712.4" cy="607.1" r="2.65"/><circle cx="710.7" cy="595.2" r="2.65"/><circle cx="714.2" cy="622.8" r="2.65"/><circle cx="712.7" cy="606.9" r="2.65"/><circle cx="711.7" cy="610.3" r="2.65"/><circle cx="710.3" cy="619.6" r="2.65"/><circle cx="708.7" cy="629.5" r="2.65"/><circle cx="709.5" cy="612.6" r="2.65"/><circle cx="710.9" cy="617.9" r="2.65"/><circle cx="709.8" cy="612.2" r="2.65"/><circle cx="713.6" cy="632.0" r="2.65"/><circle cx="711.0" cy="616.0" r="2.65"/><circle cx="726.7" cy="597.1" r="2.65"/><circle cx="716.1" cy="588.5" r="2.65"/><circle cx="722.7" cy="545.5" r="2.65"/><circle cx="723.6" cy="553.0" r="2.65"/><circle cx="723.9" cy="543.0" r="2.65"/><circle cx="723.7" cy="538.4" r="2.65"/><circle cx="721.7" cy="544.0" r="2.65"/><circle cx="722.2" cy="546.0" r="2.65"/><circle cx="721.6" cy="549.5" r="2.65"/><circle cx="725.7" cy="601.4" r="2.65"/><circle cx="743.2" cy="534.6" r="2.65"/><circle cx="745.4" cy="565.9" r="2.65"/><circle cx="754.4" cy="580.8" r="2.65"/><circle cx="759.1" cy="580.8" r="2.65"/><circle cx="746.8" cy="611.8" r="2.65"/><circle cx="751.6" cy="584.2" r="2.65"/><circle cx="753.7" cy="612.9" r="2.65"/><circle cx="759.4" cy="569.5" r="2.65"/><circle cx="762.0" cy="568.6" r="2.65"/><circle cx="760.7" cy="570.7" r="2.65"/><circle cx="762.2" cy="567.7" r="2.65"/><circle cx="758.9" cy="567.0" r="2.65"/><circle cx="760.1" cy="571.9" r="2.65"/><circle cx="758.3" cy="558.8" r="2.65"/><circle cx="760.9" cy="567.0" r="2.65"/><circle cx="759.8" cy="573.1" r="2.65"/><circle cx="760.6" cy="562.7" r="2.65"/><circle cx="734.7" cy="564.6" r="2.65"/><circle cx="770.5" cy="588.1" r="2.65"/><circle cx="771.4" cy="574.8" r="2.65"/><circle cx="773.1" cy="567.7" r="2.65"/><circle cx="781.0" cy="547.3" r="2.65"/><circle cx="774.0" cy="543.2" r="2.65"/><circle cx="773.2" cy="550.3" r="2.65"/><circle cx="769.3" cy="547.7" r="2.65"/><circle cx="780.3" cy="537.9" r="2.65"/><circle cx="778.4" cy="556.3" r="2.65"/><circle cx="773.7" cy="552.0" r="2.65"/><circle cx="777.4" cy="556.8" r="2.65"/><circle cx="782.1" cy="540.6" r="2.65"/><circle cx="772.2" cy="533.4" r="2.65"/><circle cx="782.6" cy="537.1" r="2.65"/><circle cx="770.2" cy="566.7" r="2.65"/><circle cx="776.3" cy="566.6" r="2.65"/><circle cx="777.1" cy="537.0" r="2.65"/><circle cx="777.0" cy="565.0" r="2.65"/><circle cx="769.1" cy="541.8" r="2.65"/><circle cx="770.0" cy="538.6" r="2.65"/><circle cx="781.6" cy="548.9" r="2.65"/><circle cx="777.1" cy="554.3" r="2.65"/><circle cx="780.1" cy="554.0" r="2.65"/><circle cx="777.9" cy="555.4" r="2.65"/><circle cx="771.2" cy="540.8" r="2.65"/><circle cx="780.5" cy="536.0" r="2.65"/><circle cx="775.8" cy="556.3" r="2.65"/><circle cx="770.3" cy="560.0" r="2.65"/><circle cx="776.0" cy="542.7" r="2.65"/><circle cx="777.8" cy="548.0" r="2.65"/><circle cx="782.2" cy="569.8" r="2.65"/><circle cx="783.2" cy="569.2" r="2.65"/><circle cx="789.1" cy="550.1" r="2.65"/><circle cx="797.1" cy="551.4" r="2.65"/><circle cx="794.8" cy="555.7" r="2.65"/><circle cx="795.3" cy="536.7" r="2.65"/><circle cx="798.9" cy="557.1" r="2.65"/><circle cx="795.0" cy="577.6" r="2.65"/><circle cx="786.0" cy="565.2" r="2.65"/><circle cx="793.1" cy="585.8" r="2.65"/><circle cx="794.3" cy="582.0" r="2.65"/><circle cx="787.6" cy="569.8" r="2.65"/><circle cx="782.5" cy="580.2" r="2.65"/><circle cx="790.5" cy="570.3" r="2.65"/><circle cx="787.3" cy="571.4" r="2.65"/><circle cx="790.6" cy="598.1" r="2.65"/><circle cx="791.4" cy="600.6" r="2.65"/><circle cx="801.4" cy="565.7" r="2.65"/><circle cx="801.4" cy="555.7" r="2.65"/><circle cx="806.4" cy="606.8" r="2.65"/><circle cx="808.9" cy="599.4" r="2.65"/><circle cx="806.2" cy="618.1" r="2.65"/><circle cx="806.8" cy="627.2" r="2.65"/><circle cx="810.8" cy="620.7" r="2.65"/><circle cx="812.9" cy="623.6" r="2.65"/><circle cx="810.3" cy="617.3" r="2.65"/><circle cx="810.9" cy="621.3" r="2.65"/><circle cx="801.7" cy="616.4" r="2.65"/><circle cx="801.3" cy="605.4" r="2.65"/><circle cx="809.1" cy="631.9" r="2.65"/><circle cx="807.7" cy="597.7" r="2.65"/><circle cx="805.7" cy="619.7" r="2.65"/><circle cx="802.9" cy="592.3" r="2.65"/><circle cx="809.5" cy="593.6" r="2.65"/><circle cx="805.5" cy="582.5" r="2.65"/><circle cx="806.6" cy="608.6" r="2.65"/><circle cx="804.4" cy="622.0" r="2.65"/><circle cx="806.1" cy="608.3" r="2.65"/><circle cx="810.9" cy="610.8" r="2.65"/><circle cx="811.5" cy="639.6" r="2.65"/><circle cx="804.6" cy="617.5" r="2.65"/><circle cx="814.1" cy="629.4" r="2.65"/><circle cx="806.1" cy="619.5" r="2.65"/><circle cx="811.3" cy="613.5" r="2.65"/><circle cx="805.5" cy="613.2" r="2.65"/><circle cx="806.1" cy="604.4" r="2.65"/><circle cx="812.0" cy="615.0" r="2.65"/><circle cx="801.0" cy="583.1" r="2.65"/><circle cx="808.6" cy="622.1" r="2.65"/><circle cx="814.5" cy="632.8" r="2.65"/><circle cx="806.8" cy="600.0" r="2.65"/><circle cx="804.7" cy="599.4" r="2.65"/><circle cx="810.0" cy="623.1" r="2.65"/><circle cx="812.3" cy="616.0" r="2.65"/><circle cx="803.3" cy="595.5" r="2.65"/><circle cx="810.1" cy="590.7" r="2.65"/><circle cx="805.9" cy="602.7" r="2.65"/><circle cx="809.0" cy="623.8" r="2.65"/><circle cx="805.4" cy="591.3" r="2.65"/><circle cx="812.4" cy="596.5" r="2.65"/><circle cx="809.0" cy="589.5" r="2.65"/><circle cx="811.3" cy="614.4" r="2.65"/><circle cx="800.9" cy="593.4" r="2.65"/><circle cx="807.6" cy="609.7" r="2.65"/><circle cx="801.7" cy="581.5" r="2.65"/><circle cx="808.4" cy="622.5" r="2.65"/><circle cx="809.0" cy="619.1" r="2.65"/><circle cx="811.4" cy="615.7" r="2.65"/><circle cx="808.9" cy="594.7" r="2.65"/><circle cx="810.9" cy="639.6" r="2.65"/><circle cx="809.3" cy="636.3" r="2.65"/><circle cx="806.9" cy="600.6" r="2.65"/><circle cx="804.9" cy="598.8" r="2.65"/><circle cx="808.4" cy="611.4" r="2.65"/><circle cx="805.7" cy="593.6" r="2.65"/><circle cx="807.6" cy="602.5" r="2.65"/><circle cx="809.0" cy="611.9" r="2.65"/><circle cx="812.2" cy="626.0" r="2.65"/><circle cx="805.8" cy="595.0" r="2.65"/><circle cx="810.8" cy="623.1" r="2.65"/><circle cx="806.2" cy="600.6" r="2.65"/><circle cx="804.2" cy="612.6" r="2.65"/><circle cx="805.2" cy="615.5" r="2.65"/><circle cx="808.9" cy="603.9" r="2.65"/><circle cx="805.3" cy="594.7" r="2.65"/><circle cx="799.2" cy="598.5" r="2.65"/><circle cx="806.2" cy="587.2" r="2.65"/><circle cx="816.9" cy="622.0" r="2.65"/><circle cx="798.2" cy="597.6" r="2.65"/><circle cx="819.1" cy="604.4" r="2.65"/><circle cx="817.2" cy="582.6" r="2.65"/><circle cx="824.3" cy="586.1" r="2.65"/><circle cx="823.2" cy="610.0" r="2.65"/><circle cx="823.4" cy="595.3" r="2.65"/><circle cx="823.4" cy="613.4" r="2.65"/><circle cx="827.0" cy="621.5" r="2.65"/><circle cx="825.1" cy="592.6" r="2.65"/><circle cx="817.5" cy="588.0" r="2.65"/><circle cx="826.5" cy="620.4" r="2.65"/><circle cx="821.3" cy="614.3" r="2.65"/><circle cx="820.5" cy="588.4" r="2.65"/><circle cx="824.3" cy="619.0" r="2.65"/><circle cx="820.8" cy="602.9" r="2.65"/><circle cx="821.4" cy="614.8" r="2.65"/><circle cx="818.6" cy="604.0" r="2.65"/><circle cx="813.8" cy="651.7" r="2.65"/><circle cx="860.3" cy="614.7" r="2.65"/><circle cx="854.0" cy="632.8" r="2.65"/><circle cx="854.3" cy="643.6" r="2.65"/><circle cx="856.0" cy="651.1" r="2.65"/><circle cx="859.3" cy="630.7" r="2.65"/><circle cx="853.7" cy="646.3" r="2.65"/><circle cx="858.8" cy="636.5" r="2.65"/><circle cx="858.3" cy="645.6" r="2.65"/><circle cx="855.6" cy="641.3" r="2.65"/><circle cx="853.1" cy="643.5" r="2.65"/><circle cx="852.9" cy="646.9" r="2.65"/><circle cx="854.1" cy="637.6" r="2.65"/><circle cx="860.2" cy="650.7" r="2.65"/><circle cx="855.1" cy="650.2" r="2.65"/><circle cx="857.0" cy="644.9" r="2.65"/><circle cx="854.8" cy="638.3" r="2.65"/><circle cx="859.2" cy="640.1" r="2.65"/><circle cx="854.2" cy="644.2" r="2.65"/><circle cx="857.8" cy="650.4" r="2.65"/><circle cx="856.5" cy="633.8" r="2.65"/><circle cx="857.4" cy="637.1" r="2.65"/><circle cx="854.9" cy="647.7" r="2.65"/><circle cx="858.6" cy="638.0" r="2.65"/><circle cx="857.1" cy="651.5" r="2.65"/><circle cx="858.4" cy="640.0" r="2.65"/><circle cx="853.4" cy="635.3" r="2.65"/><circle cx="859.1" cy="636.7" r="2.65"/><circle cx="913.1" cy="549.1" r="2.65"/><circle cx="913.1" cy="551.2" r="2.65"/><circle cx="942.2" cy="601.4" r="2.65"/><circle cx="938.5" cy="595.0" r="2.65"/><circle cx="939.0" cy="571.1" r="2.65"/><circle cx="938.5" cy="623.5" r="2.65"/><circle cx="939.9" cy="612.8" r="2.65"/><circle cx="939.2" cy="610.9" r="2.65"/><circle cx="646.0" cy="723.7" r="2.65"/><circle cx="645.6" cy="765.6" r="2.65"/><circle cx="644.0" cy="733.8" r="2.65"/><circle cx="643.3" cy="761.6" r="2.65"/><circle cx="645.5" cy="746.7" r="2.65"/><circle cx="645.8" cy="783.6" r="2.65"/><circle cx="643.5" cy="770.8" r="2.65"/><circle cx="653.8" cy="806.9" r="2.65"/><circle cx="643.2" cy="785.1" r="2.65"/><circle cx="660.1" cy="839.8" r="2.65"/><circle cx="660.1" cy="851.0" r="2.65"/><circle cx="652.7" cy="770.0" r="2.65"/><circle cx="646.0" cy="820.7" r="2.65"/><circle cx="692.8" cy="724.3" r="2.65"/><circle cx="689.6" cy="715.4" r="2.65"/><circle cx="695.4" cy="700.5" r="2.65"/><circle cx="693.2" cy="699.4" r="2.65"/><circle cx="694.2" cy="709.1" r="2.65"/><circle cx="695.0" cy="707.0" r="2.65"/><circle cx="696.6" cy="724.7" r="2.65"/><circle cx="695.3" cy="703.8" r="2.65"/><circle cx="695.1" cy="722.2" r="2.65"/><circle cx="691.3" cy="698.3" r="2.65"/><circle cx="693.3" cy="724.6" r="2.65"/><circle cx="689.3" cy="716.9" r="2.65"/><circle cx="690.0" cy="697.1" r="2.65"/><circle cx="688.0" cy="715.8" r="2.65"/><circle cx="690.5" cy="714.2" r="2.65"/><circle cx="689.7" cy="714.2" r="2.65"/><circle cx="697.4" cy="723.2" r="2.65"/><circle cx="693.0" cy="728.5" r="2.65"/><circle cx="693.9" cy="756.9" r="2.65"/><circle cx="691.4" cy="762.9" r="2.65"/><circle cx="695.3" cy="742.8" r="2.65"/><circle cx="694.1" cy="729.6" r="2.65"/><circle cx="694.4" cy="760.9" r="2.65"/><circle cx="690.1" cy="736.5" r="2.65"/><circle cx="695.8" cy="735.3" r="2.65"/><circle cx="686.5" cy="744.0" r="2.65"/><circle cx="689.9" cy="742.7" r="2.65"/><circle cx="696.1" cy="743.5" r="2.65"/><circle cx="691.4" cy="742.3" r="2.65"/><circle cx="694.6" cy="744.5" r="2.65"/><circle cx="693.5" cy="769.6" r="2.65"/><circle cx="686.4" cy="733.7" r="2.65"/><circle cx="688.3" cy="752.8" r="2.65"/><circle cx="696.5" cy="743.1" r="2.65"/><circle cx="697.0" cy="757.9" r="2.65"/><circle cx="697.2" cy="762.7" r="2.65"/><circle cx="697.2" cy="734.4" r="2.65"/><circle cx="689.6" cy="739.0" r="2.65"/><circle cx="686.0" cy="764.5" r="2.65"/><circle cx="693.8" cy="731.9" r="2.65"/><circle cx="686.1" cy="747.8" r="2.65"/><circle cx="694.8" cy="745.3" r="2.65"/><circle cx="693.0" cy="732.0" r="2.65"/><circle cx="696.3" cy="771.1" r="2.65"/><circle cx="689.8" cy="764.9" r="2.65"/><circle cx="686.4" cy="732.7" r="2.65"/><circle cx="692.3" cy="746.3" r="2.65"/><circle cx="692.4" cy="764.1" r="2.65"/><circle cx="696.4" cy="732.9" r="2.65"/><circle cx="692.9" cy="757.0" r="2.65"/><circle cx="695.8" cy="747.6" r="2.65"/><circle cx="690.3" cy="741.8" r="2.65"/><circle cx="694.1" cy="761.0" r="2.65"/><circle cx="693.6" cy="737.1" r="2.65"/><circle cx="690.9" cy="768.3" r="2.65"/><circle cx="686.8" cy="754.9" r="2.65"/><circle cx="689.9" cy="735.0" r="2.65"/><circle cx="696.5" cy="745.9" r="2.65"/><circle cx="691.5" cy="746.1" r="2.65"/><circle cx="689.4" cy="743.5" r="2.65"/><circle cx="688.0" cy="741.9" r="2.65"/><circle cx="705.4" cy="780.7" r="2.65"/><circle cx="702.1" cy="814.9" r="2.65"/><circle cx="704.7" cy="787.4" r="2.65"/><circle cx="705.7" cy="796.5" r="2.65"/><circle cx="700.1" cy="813.0" r="2.65"/><circle cx="704.4" cy="783.1" r="2.65"/><circle cx="704.6" cy="814.5" r="2.65"/><circle cx="705.3" cy="803.8" r="2.65"/><circle cx="702.6" cy="779.1" r="2.65"/><circle cx="705.3" cy="815.6" r="2.65"/><circle cx="700.2" cy="788.5" r="2.65"/><circle cx="702.0" cy="792.6" r="2.65"/><circle cx="700.1" cy="826.0" r="2.65"/><circle cx="705.4" cy="795.2" r="2.65"/><circle cx="700.9" cy="794.5" r="2.65"/><circle cx="704.5" cy="788.2" r="2.65"/><circle cx="706.5" cy="813.5" r="2.65"/><circle cx="704.5" cy="812.3" r="2.65"/><circle cx="705.5" cy="832.7" r="2.65"/><circle cx="706.5" cy="822.1" r="2.65"/><circle cx="701.0" cy="796.0" r="2.65"/><circle cx="702.4" cy="783.9" r="2.65"/><circle cx="700.4" cy="804.0" r="2.65"/><circle cx="700.4" cy="822.1" r="2.65"/><circle cx="704.3" cy="809.1" r="2.65"/><circle cx="702.2" cy="779.3" r="2.65"/><circle cx="705.2" cy="807.8" r="2.65"/><circle cx="705.1" cy="853.8" r="2.65"/><circle cx="706.3" cy="850.8" r="2.65"/><circle cx="704.8" cy="859.2" r="2.65"/><circle cx="737.8" cy="749.1" r="2.65"/><circle cx="735.2" cy="735.0" r="2.65"/><circle cx="736.8" cy="723.7" r="2.65"/><circle cx="738.2" cy="727.3" r="2.65"/><circle cx="736.6" cy="743.8" r="2.65"/><circle cx="736.2" cy="738.1" r="2.65"/><circle cx="738.1" cy="737.0" r="2.65"/><circle cx="738.1" cy="743.6" r="2.65"/><circle cx="779.4" cy="851.9" r="2.65"/><circle cx="770.2" cy="855.3" r="2.65"/><circle cx="777.1" cy="842.2" r="2.65"/><circle cx="778.3" cy="851.8" r="2.65"/><circle cx="772.4" cy="857.8" r="2.65"/><circle cx="768.9" cy="848.4" r="2.65"/><circle cx="770.9" cy="850.4" r="2.65"/><circle cx="778.9" cy="853.0" r="2.65"/><circle cx="772.2" cy="842.8" r="2.65"/><circle cx="772.1" cy="848.5" r="2.65"/><circle cx="770.3" cy="855.4" r="2.65"/><circle cx="771.7" cy="852.8" r="2.65"/><circle cx="773.9" cy="855.9" r="2.65"/><circle cx="780.5" cy="838.8" r="2.65"/><circle cx="773.7" cy="848.5" r="2.65"/><circle cx="773.3" cy="859.3" r="2.65"/><circle cx="770.1" cy="854.5" r="2.65"/><circle cx="776.0" cy="855.0" r="2.65"/><circle cx="778.2" cy="858.2" r="2.65"/><circle cx="771.1" cy="845.3" r="2.65"/><circle cx="774.3" cy="841.2" r="2.65"/><circle cx="771.0" cy="850.0" r="2.65"/><circle cx="770.6" cy="851.2" r="2.65"/><circle cx="781.6" cy="856.6" r="2.65"/><circle cx="771.7" cy="841.2" r="2.65"/><circle cx="781.0" cy="848.7" r="2.65"/><circle cx="779.5" cy="853.9" r="2.65"/><circle cx="775.7" cy="841.9" r="2.65"/><circle cx="775.4" cy="843.8" r="2.65"/><circle cx="784.7" cy="840.3" r="2.65"/><circle cx="786.7" cy="836.5" r="2.65"/><circle cx="775.9" cy="839.8" r="2.65"/><circle cx="774.1" cy="845.9" r="2.65"/><circle cx="774.8" cy="847.2" r="2.65"/><circle cx="776.7" cy="858.1" r="2.65"/><circle cx="781.8" cy="840.9" r="2.65"/><circle cx="782.6" cy="846.0" r="2.65"/><circle cx="775.3" cy="853.3" r="2.65"/><circle cx="776.4" cy="838.2" r="2.65"/><circle cx="780.6" cy="842.7" r="2.65"/><circle cx="776.5" cy="852.3" r="2.65"/><circle cx="778.8" cy="854.0" r="2.65"/><circle cx="776.7" cy="835.7" r="2.65"/><circle cx="783.1" cy="859.1" r="2.65"/><circle cx="789.8" cy="830.1" r="2.65"/><circle cx="800.6" cy="847.2" r="2.65"/><circle cx="800.6" cy="857.2" r="2.65"/><circle cx="830.0" cy="753.2" r="2.65"/><circle cx="834.0" cy="747.4" r="2.65"/><circle cx="833.3" cy="756.1" r="2.65"/><circle cx="828.8" cy="761.9" r="2.65"/><circle cx="833.1" cy="738.2" r="2.65"/><circle cx="830.8" cy="742.9" r="2.65"/><circle cx="833.0" cy="742.0" r="2.65"/><circle cx="830.7" cy="741.3" r="2.65"/><circle cx="834.3" cy="767.0" r="2.65"/><circle cx="830.4" cy="744.7" r="2.65"/><circle cx="834.1" cy="760.9" r="2.65"/><circle cx="831.4" cy="742.5" r="2.65"/><circle cx="831.3" cy="766.3" r="2.65"/><circle cx="832.1" cy="759.0" r="2.65"/><circle cx="829.0" cy="744.5" r="2.65"/><circle cx="829.8" cy="748.3" r="2.65"/><circle cx="839.6" cy="740.1" r="2.65"/><circle cx="839.6" cy="758.1" r="2.65"/><circle cx="833.3" cy="782.0" r="2.65"/><circle cx="832.5" cy="790.4" r="2.65"/><circle cx="830.5" cy="787.4" r="2.65"/><circle cx="827.9" cy="791.7" r="2.65"/><circle cx="831.3" cy="797.8" r="2.65"/><circle cx="828.5" cy="793.3" r="2.65"/><circle cx="828.2" cy="792.2" r="2.65"/><circle cx="828.7" cy="797.7" r="2.65"/><circle cx="831.9" cy="793.4" r="2.65"/><circle cx="832.7" cy="785.0" r="2.65"/><circle cx="841.2" cy="842.2" r="2.65"/><circle cx="932.5" cy="718.6" r="2.65"/><circle cx="932.5" cy="720.6" r="2.65"/><circle cx="912.6" cy="751.4" r="2.65"/><circle cx="912.6" cy="795.8" r="2.65"/><circle cx="936.7" cy="769.7" r="2.65"/><circle cx="940.0" cy="805.2" r="2.65"/><circle cx="936.7" cy="813.2" r="2.65"/><circle cx="938.4" cy="814.0" r="2.65"/><circle cx="871.2" cy="713.1" r="2.65"/><circle cx="917.0" cy="681.1" r="2.65"/><circle cx="916.7" cy="683.0" r="2.65"/><circle cx="936.1" cy="676.7" r="2.65"/><circle cx="858.6" cy="630.3" r="2.65"/><circle cx="858.6" cy="635.4" r="2.65"/><circle cx="859.0" cy="640.5" r="2.65"/><circle cx="858.6" cy="645.5" r="2.65"/>
</g>
<g fill="#48a56f">
<circle cx="621.1" cy="629.3" r="2.65"/><circle cx="625.3" cy="635.9" r="2.65"/><circle cx="708.0" cy="594.7" r="2.65"/><circle cx="711.6" cy="601.7" r="2.65"/><circle cx="740.5" cy="579.6" r="2.65"/><circle cx="746.5" cy="562.1" r="2.65"/><circle cx="737.9" cy="535.4" r="2.65"/><circle cx="743.8" cy="559.4" r="2.65"/><circle cx="746.5" cy="575.1" r="2.65"/><circle cx="746.4" cy="544.4" r="2.65"/><circle cx="744.2" cy="548.5" r="2.65"/><circle cx="746.4" cy="539.6" r="2.65"/><circle cx="739.1" cy="579.4" r="2.65"/><circle cx="738.5" cy="571.1" r="2.65"/><circle cx="737.6" cy="550.6" r="2.65"/><circle cx="742.6" cy="553.6" r="2.65"/><circle cx="743.9" cy="570.0" r="2.65"/><circle cx="740.1" cy="562.9" r="2.65"/><circle cx="740.0" cy="577.3" r="2.65"/><circle cx="745.3" cy="575.6" r="2.65"/><circle cx="747.5" cy="564.4" r="2.65"/><circle cx="739.8" cy="572.3" r="2.65"/><circle cx="738.7" cy="539.4" r="2.65"/><circle cx="745.1" cy="539.6" r="2.65"/><circle cx="742.5" cy="566.1" r="2.65"/><circle cx="746.7" cy="565.8" r="2.65"/><circle cx="736.6" cy="564.2" r="2.65"/><circle cx="744.6" cy="564.2" r="2.65"/><circle cx="738.3" cy="560.3" r="2.65"/><circle cx="741.6" cy="559.6" r="2.65"/><circle cx="736.7" cy="556.3" r="2.65"/><circle cx="745.4" cy="578.0" r="2.65"/><circle cx="747.6" cy="560.7" r="2.65"/><circle cx="743.7" cy="539.6" r="2.65"/><circle cx="739.7" cy="609.4" r="2.65"/><circle cx="745.1" cy="594.8" r="2.65"/><circle cx="749.2" cy="612.5" r="2.65"/><circle cx="744.8" cy="596.7" r="2.65"/><circle cx="753.4" cy="599.4" r="2.65"/><circle cx="749.9" cy="605.4" r="2.65"/><circle cx="759.6" cy="600.6" r="2.65"/><circle cx="760.7" cy="604.7" r="2.65"/><circle cx="752.7" cy="603.7" r="2.65"/><circle cx="746.0" cy="586.2" r="2.65"/><circle cx="744.8" cy="581.2" r="2.65"/><circle cx="741.1" cy="599.6" r="2.65"/><circle cx="741.4" cy="606.5" r="2.65"/><circle cx="756.5" cy="587.2" r="2.65"/><circle cx="752.3" cy="614.7" r="2.65"/><circle cx="744.0" cy="611.3" r="2.65"/><circle cx="740.6" cy="588.7" r="2.65"/><circle cx="741.9" cy="599.2" r="2.65"/><circle cx="738.3" cy="614.4" r="2.65"/><circle cx="760.3" cy="603.8" r="2.65"/><circle cx="745.6" cy="601.0" r="2.65"/><circle cx="751.1" cy="612.9" r="2.65"/><circle cx="757.3" cy="615.6" r="2.65"/><circle cx="748.6" cy="581.2" r="2.65"/><circle cx="736.9" cy="605.2" r="2.65"/><circle cx="749.0" cy="585.3" r="2.65"/><circle cx="754.5" cy="595.5" r="2.65"/><circle cx="760.7" cy="587.6" r="2.65"/><circle cx="759.9" cy="614.8" r="2.65"/><circle cx="742.6" cy="600.3" r="2.65"/><circle cx="750.1" cy="592.2" r="2.65"/><circle cx="757.2" cy="603.1" r="2.65"/><circle cx="756.7" cy="582.7" r="2.65"/><circle cx="736.6" cy="582.7" r="2.65"/><circle cx="730.7" cy="585.6" r="2.65"/><circle cx="731.2" cy="588.1" r="2.65"/><circle cx="730.2" cy="587.3" r="2.65"/><circle cx="768.9" cy="555.2" r="2.65"/><circle cx="768.9" cy="569.8" r="2.65"/><circle cx="796.0" cy="558.0" r="2.65"/><circle cx="789.1" cy="543.4" r="2.65"/><circle cx="792.4" cy="560.7" r="2.65"/><circle cx="801.4" cy="560.2" r="2.65"/><circle cx="795.2" cy="535.5" r="2.65"/><circle cx="797.4" cy="547.1" r="2.65"/><circle cx="794.7" cy="556.9" r="2.65"/><circle cx="799.8" cy="554.7" r="2.65"/><circle cx="801.8" cy="550.8" r="2.65"/><circle cx="795.2" cy="543.6" r="2.65"/><circle cx="788.7" cy="551.4" r="2.65"/><circle cx="798.3" cy="533.6" r="2.65"/><circle cx="794.7" cy="549.5" r="2.65"/><circle cx="798.2" cy="561.2" r="2.65"/><circle cx="796.6" cy="541.9" r="2.65"/><circle cx="801.5" cy="535.3" r="2.65"/><circle cx="801.0" cy="549.6" r="2.65"/><circle cx="792.8" cy="539.2" r="2.65"/><circle cx="801.5" cy="556.7" r="2.65"/><circle cx="790.4" cy="562.2" r="2.65"/><circle cx="795.4" cy="557.3" r="2.65"/><circle cx="787.9" cy="547.4" r="2.65"/><circle cx="791.1" cy="534.1" r="2.65"/><circle cx="790.3" cy="559.7" r="2.65"/><circle cx="791.5" cy="558.0" r="2.65"/><circle cx="793.7" cy="587.0" r="2.65"/><circle cx="783.8" cy="565.9" r="2.65"/><circle cx="788.3" cy="564.0" r="2.65"/><circle cx="794.1" cy="569.3" r="2.65"/><circle cx="786.5" cy="594.4" r="2.65"/><circle cx="793.4" cy="573.8" r="2.65"/><circle cx="791.8" cy="593.4" r="2.65"/><circle cx="786.3" cy="568.2" r="2.65"/><circle cx="791.0" cy="595.4" r="2.65"/><circle cx="795.2" cy="590.5" r="2.65"/><circle cx="794.8" cy="593.1" r="2.65"/><circle cx="789.8" cy="563.6" r="2.65"/><circle cx="785.9" cy="574.1" r="2.65"/><circle cx="793.9" cy="592.5" r="2.65"/><circle cx="791.7" cy="574.1" r="2.65"/><circle cx="793.6" cy="584.7" r="2.65"/><circle cx="789.8" cy="585.1" r="2.65"/><circle cx="790.6" cy="627.9" r="2.65"/><circle cx="806.4" cy="632.9" r="2.65"/><circle cx="915.9" cy="561.5" r="2.65"/><circle cx="652.2" cy="798.2" r="2.65"/><circle cx="654.3" cy="823.3" r="2.65"/><circle cx="653.4" cy="821.9" r="2.65"/><circle cx="654.4" cy="806.7" r="2.65"/><circle cx="645.9" cy="765.5" r="2.65"/><circle cx="651.8" cy="783.4" r="2.65"/><circle cx="652.5" cy="828.8" r="2.65"/><circle cx="652.8" cy="828.5" r="2.65"/><circle cx="652.4" cy="818.2" r="2.65"/><circle cx="643.6" cy="794.7" r="2.65"/><circle cx="643.7" cy="777.9" r="2.65"/><circle cx="655.4" cy="812.5" r="2.65"/><circle cx="644.8" cy="775.7" r="2.65"/><circle cx="650.9" cy="787.9" r="2.65"/><circle cx="657.4" cy="831.6" r="2.65"/><circle cx="648.5" cy="804.4" r="2.65"/><circle cx="654.9" cy="805.6" r="2.65"/><circle cx="648.9" cy="837.3" r="2.65"/><circle cx="659.2" cy="832.8" r="2.65"/><circle cx="649.3" cy="820.2" r="2.65"/><circle cx="652.9" cy="804.3" r="2.65"/><circle cx="647.5" cy="822.0" r="2.65"/><circle cx="650.2" cy="833.7" r="2.65"/><circle cx="645.3" cy="795.7" r="2.65"/><circle cx="651.5" cy="804.1" r="2.65"/><circle cx="653.5" cy="826.7" r="2.65"/><circle cx="652.1" cy="780.5" r="2.65"/><circle cx="649.3" cy="826.2" r="2.65"/><circle cx="650.8" cy="775.7" r="2.65"/><circle cx="642.2" cy="778.0" r="2.65"/><circle cx="651.4" cy="808.0" r="2.65"/><circle cx="652.5" cy="838.9" r="2.65"/><circle cx="647.7" cy="777.0" r="2.65"/><circle cx="656.6" cy="808.4" r="2.65"/><circle cx="652.3" cy="838.7" r="2.65"/><circle cx="652.9" cy="823.5" r="2.65"/><circle cx="652.6" cy="811.0" r="2.65"/><circle cx="641.7" cy="767.3" r="2.65"/><circle cx="647.6" cy="770.7" r="2.65"/><circle cx="649.6" cy="827.7" r="2.65"/><circle cx="646.1" cy="815.9" r="2.65"/><circle cx="649.8" cy="802.4" r="2.65"/><circle cx="654.4" cy="821.0" r="2.65"/><circle cx="655.8" cy="840.4" r="2.65"/><circle cx="652.0" cy="831.0" r="2.65"/><circle cx="650.8" cy="808.7" r="2.65"/><circle cx="655.6" cy="803.0" r="2.65"/><circle cx="653.9" cy="793.9" r="2.65"/><circle cx="641.7" cy="768.5" r="2.65"/><circle cx="655.2" cy="814.8" r="2.65"/><circle cx="650.3" cy="795.3" r="2.65"/><circle cx="645.0" cy="805.6" r="2.65"/><circle cx="642.4" cy="781.6" r="2.65"/><circle cx="654.7" cy="809.5" r="2.65"/><circle cx="647.0" cy="785.4" r="2.65"/><circle cx="650.2" cy="819.6" r="2.65"/><circle cx="650.1" cy="821.7" r="2.65"/><circle cx="652.9" cy="834.1" r="2.65"/><circle cx="649.4" cy="817.9" r="2.65"/><circle cx="650.7" cy="774.5" r="2.65"/><circle cx="650.3" cy="777.0" r="2.65"/><circle cx="652.2" cy="820.3" r="2.65"/><circle cx="647.8" cy="781.9" r="2.65"/><circle cx="690.0" cy="702.0" r="2.65"/><circle cx="690.0" cy="704.5" r="2.65"/><circle cx="690.0" cy="715.2" r="2.65"/><circle cx="695.8" cy="726.9" r="2.65"/><circle cx="695.8" cy="749.3" r="2.65"/><circle cx="695.8" cy="755.1" r="2.65"/><circle cx="696.7" cy="764.2" r="2.65"/><circle cx="696.3" cy="772.8" r="2.65"/><circle cx="696.4" cy="800.2" r="2.65"/><circle cx="701.3" cy="788.3" r="2.65"/><circle cx="701.3" cy="790.8" r="2.65"/><circle cx="698.0" cy="804.1" r="2.65"/><circle cx="698.1" cy="799.0" r="2.65"/><circle cx="697.4" cy="807.4" r="2.65"/><circle cx="696.0" cy="804.1" r="2.65"/><circle cx="697.2" cy="800.7" r="2.65"/><circle cx="696.1" cy="793.1" r="2.65"/><circle cx="697.1" cy="797.2" r="2.65"/><circle cx="697.9" cy="794.4" r="2.65"/><circle cx="695.7" cy="790.8" r="2.65"/><circle cx="777.4" cy="854.2" r="2.65"/><circle cx="770.4" cy="853.0" r="2.65"/><circle cx="781.5" cy="856.9" r="2.65"/><circle cx="777.7" cy="839.8" r="2.65"/><circle cx="782.9" cy="839.7" r="2.65"/><circle cx="769.5" cy="853.9" r="2.65"/><circle cx="782.0" cy="843.9" r="2.65"/><circle cx="779.4" cy="843.0" r="2.65"/><circle cx="771.8" cy="849.7" r="2.65"/><circle cx="773.9" cy="832.8" r="2.65"/><circle cx="783.9" cy="846.0" r="2.65"/><circle cx="779.3" cy="845.4" r="2.65"/><circle cx="775.6" cy="857.1" r="2.65"/><circle cx="781.1" cy="845.9" r="2.65"/><circle cx="781.3" cy="835.8" r="2.65"/><circle cx="774.8" cy="849.7" r="2.65"/><circle cx="785.9" cy="839.0" r="2.65"/><circle cx="781.6" cy="847.2" r="2.65"/><circle cx="780.4" cy="835.6" r="2.65"/><circle cx="780.5" cy="856.3" r="2.65"/><circle cx="787.0" cy="843.9" r="2.65"/><circle cx="798.6" cy="828.5" r="2.65"/><circle cx="799.7" cy="838.1" r="2.65"/><circle cx="799.7" cy="844.7" r="2.65"/><circle cx="798.9" cy="852.2" r="2.65"/><circle cx="798.1" cy="857.2" r="2.65"/><circle cx="783.1" cy="834.8" r="2.65"/><circle cx="840.1" cy="747.1" r="2.65"/><circle cx="832.9" cy="768.8" r="2.65"/><circle cx="832.6" cy="775.7" r="2.65"/><circle cx="837.2" cy="768.5" r="2.65"/><circle cx="833.3" cy="767.7" r="2.65"/><circle cx="840.0" cy="769.4" r="2.65"/><circle cx="835.6" cy="768.1" r="2.65"/><circle cx="834.4" cy="765.7" r="2.65"/><circle cx="838.1" cy="767.5" r="2.65"/><circle cx="833.4" cy="777.0" r="2.65"/><circle cx="832.6" cy="767.9" r="2.65"/><circle cx="837.2" cy="776.1" r="2.65"/><circle cx="839.8" cy="772.7" r="2.65"/><circle cx="842.9" cy="788.8" r="2.65"/><circle cx="839.2" cy="808.2" r="2.65"/><circle cx="845.3" cy="807.0" r="2.65"/><circle cx="841.7" cy="796.3" r="2.65"/><circle cx="842.9" cy="817.2" r="2.65"/><circle cx="840.3" cy="806.8" r="2.65"/><circle cx="839.5" cy="823.2" r="2.65"/><circle cx="833.8" cy="811.5" r="2.65"/><circle cx="838.9" cy="795.0" r="2.65"/><circle cx="834.3" cy="794.8" r="2.65"/><circle cx="848.7" cy="795.9" r="2.65"/><circle cx="843.4" cy="798.5" r="2.65"/><circle cx="835.1" cy="812.5" r="2.65"/><circle cx="845.5" cy="806.3" r="2.65"/><circle cx="842.0" cy="797.4" r="2.65"/><circle cx="846.3" cy="797.6" r="2.65"/><circle cx="838.0" cy="802.9" r="2.65"/><circle cx="837.1" cy="799.1" r="2.65"/><circle cx="843.3" cy="794.4" r="2.65"/><circle cx="841.5" cy="788.2" r="2.65"/><circle cx="840.1" cy="809.6" r="2.65"/><circle cx="835.5" cy="804.4" r="2.65"/><circle cx="838.1" cy="805.0" r="2.65"/><circle cx="834.3" cy="816.2" r="2.65"/><circle cx="843.5" cy="810.3" r="2.65"/><circle cx="847.6" cy="809.8" r="2.65"/><circle cx="843.1" cy="795.2" r="2.65"/><circle cx="840.4" cy="807.2" r="2.65"/><circle cx="841.3" cy="821.6" r="2.65"/><circle cx="839.3" cy="802.7" r="2.65"/><circle cx="841.9" cy="812.9" r="2.65"/><circle cx="838.2" cy="790.3" r="2.65"/><circle cx="841.1" cy="823.2" r="2.65"/><circle cx="837.4" cy="821.7" r="2.65"/><circle cx="843.5" cy="798.1" r="2.65"/><circle cx="838.9" cy="800.0" r="2.65"/><circle cx="842.4" cy="810.8" r="2.65"/><circle cx="846.0" cy="799.5" r="2.65"/><circle cx="837.1" cy="803.9" r="2.65"/><circle cx="835.4" cy="821.5" r="2.65"/><circle cx="842.1" cy="826.5" r="2.65"/><circle cx="837.1" cy="838.1" r="2.65"/><circle cx="932.5" cy="699.5" r="2.65"/><circle cx="932.5" cy="706.9" r="2.65"/><circle cx="912.6" cy="791.3" r="2.65"/><circle cx="912.6" cy="799.6" r="2.65"/><circle cx="912.3" cy="846.7" r="2.65"/><circle cx="870.2" cy="702.8" r="2.65"/><circle cx="870.6" cy="723.2" r="2.65"/><circle cx="871.4" cy="704.8" r="2.65"/><circle cx="870.5" cy="715.0" r="2.65"/><circle cx="868.0" cy="686.1" r="2.65"/><circle cx="868.6" cy="702.3" r="2.65"/><circle cx="869.4" cy="716.8" r="2.65"/><circle cx="871.7" cy="713.8" r="2.65"/><circle cx="867.6" cy="714.3" r="2.65"/><circle cx="869.4" cy="703.6" r="2.65"/><circle cx="867.7" cy="708.3" r="2.65"/><circle cx="867.7" cy="708.3" r="2.65"/><circle cx="871.3" cy="686.9" r="2.65"/><circle cx="906.2" cy="689.3" r="2.65"/><circle cx="906.0" cy="692.5" r="2.65"/><circle cx="906.5" cy="695.1" r="2.65"/><circle cx="905.0" cy="691.2" r="2.65"/><circle cx="932.3" cy="648.9" r="2.65"/><circle cx="923.9" cy="670.1" r="2.65"/><circle cx="924.8" cy="671.4" r="2.65"/><circle cx="936.5" cy="673.7" r="2.65"/><circle cx="928.2" cy="693.5" r="2.65"/><circle cx="924.6" cy="690.4" r="2.65"/><circle cx="925.0" cy="694.0" r="2.65"/><circle cx="928.0" cy="674.9" r="2.65"/><circle cx="924.7" cy="689.9" r="2.65"/><circle cx="928.8" cy="687.9" r="2.65"/><circle cx="923.8" cy="694.2" r="2.65"/><circle cx="922.3" cy="679.4" r="2.65"/><circle cx="923.5" cy="685.3" r="2.65"/><circle cx="925.3" cy="686.9" r="2.65"/><circle cx="924.5" cy="689.2" r="2.65"/><circle cx="923.6" cy="689.8" r="2.65"/><circle cx="928.9" cy="677.6" r="2.65"/><circle cx="928.4" cy="680.6" r="2.65"/><circle cx="924.4" cy="692.9" r="2.65"/><circle cx="926.9" cy="673.6" r="2.65"/><circle cx="927.5" cy="678.6" r="2.65"/><circle cx="928.5" cy="677.7" r="2.65"/><circle cx="927.5" cy="688.3" r="2.65"/><circle cx="923.5" cy="686.1" r="2.65"/><circle cx="925.8" cy="688.9" r="2.65"/><circle cx="924.7" cy="685.9" r="2.65"/><circle cx="924.5" cy="690.6" r="2.65"/><circle cx="917.1" cy="693.4" r="2.65"/><circle cx="932.3" cy="691.2" r="2.65"/><circle cx="930.4" cy="658.2" r="2.65"/>
</g>
<g fill="#7ac143">
<circle cx="744.2" cy="577.1" r="2.65"/><circle cx="737.0" cy="534.2" r="2.65"/><circle cx="741.8" cy="546.9" r="2.65"/><circle cx="747.9" cy="545.6" r="2.65"/><circle cx="747.6" cy="568.1" r="2.65"/><circle cx="738.9" cy="579.5" r="2.65"/><circle cx="738.9" cy="536.4" r="2.65"/><circle cx="741.4" cy="578.9" r="2.65"/><circle cx="749.5" cy="559.6" r="2.65"/><circle cx="755.3" cy="595.5" r="2.65"/><circle cx="739.5" cy="615.4" r="2.65"/><circle cx="747.1" cy="598.7" r="2.65"/><circle cx="745.3" cy="595.9" r="2.65"/><circle cx="759.1" cy="581.3" r="2.65"/><circle cx="748.6" cy="584.9" r="2.65"/><circle cx="742.8" cy="597.3" r="2.65"/><circle cx="739.2" cy="616.1" r="2.65"/><circle cx="753.6" cy="603.4" r="2.65"/><circle cx="741.6" cy="590.5" r="2.65"/><circle cx="759.9" cy="597.4" r="2.65"/><circle cx="751.6" cy="583.2" r="2.65"/><circle cx="758.4" cy="582.4" r="2.65"/><circle cx="738.9" cy="593.8" r="2.65"/><circle cx="754.8" cy="592.4" r="2.65"/><circle cx="740.3" cy="596.3" r="2.65"/><circle cx="751.4" cy="580.6" r="2.65"/><circle cx="746.4" cy="582.3" r="2.65"/><circle cx="740.9" cy="587.7" r="2.65"/><circle cx="743.3" cy="615.0" r="2.65"/><circle cx="737.4" cy="583.4" r="2.65"/><circle cx="748.3" cy="598.6" r="2.65"/><circle cx="749.0" cy="584.7" r="2.65"/><circle cx="751.2" cy="598.3" r="2.65"/><circle cx="756.6" cy="610.5" r="2.65"/><circle cx="753.8" cy="599.3" r="2.65"/><circle cx="738.2" cy="581.0" r="2.65"/><circle cx="760.0" cy="607.6" r="2.65"/><circle cx="744.9" cy="600.9" r="2.65"/><circle cx="743.8" cy="608.4" r="2.65"/><circle cx="757.4" cy="595.8" r="2.65"/><circle cx="746.1" cy="619.6" r="2.65"/><circle cx="746.1" cy="617.2" r="2.65"/><circle cx="743.2" cy="532.5" r="2.65"/><circle cx="795.2" cy="548.5" r="2.65"/><circle cx="795.0" cy="548.2" r="2.65"/><circle cx="797.1" cy="545.4" r="2.65"/><circle cx="801.8" cy="561.1" r="2.65"/><circle cx="794.0" cy="541.8" r="2.65"/><circle cx="798.5" cy="554.5" r="2.65"/><circle cx="787.5" cy="540.5" r="2.65"/><circle cx="787.8" cy="550.4" r="2.65"/><circle cx="794.8" cy="553.4" r="2.65"/><circle cx="800.9" cy="559.9" r="2.65"/><circle cx="786.4" cy="596.1" r="2.65"/><circle cx="783.5" cy="578.8" r="2.65"/><circle cx="787.5" cy="580.5" r="2.65"/><circle cx="794.5" cy="568.9" r="2.65"/><circle cx="792.3" cy="581.0" r="2.65"/><circle cx="795.6" cy="586.4" r="2.65"/><circle cx="649.8" cy="796.1" r="2.65"/><circle cx="650.3" cy="767.7" r="2.65"/><circle cx="649.4" cy="767.6" r="2.65"/><circle cx="647.3" cy="814.5" r="2.65"/><circle cx="650.0" cy="814.3" r="2.65"/><circle cx="649.8" cy="771.8" r="2.65"/><circle cx="649.8" cy="765.8" r="2.65"/><circle cx="653.4" cy="800.9" r="2.65"/><circle cx="640.4" cy="767.2" r="2.65"/><circle cx="654.9" cy="814.5" r="2.65"/><circle cx="647.6" cy="821.0" r="2.65"/><circle cx="657.5" cy="834.8" r="2.65"/><circle cx="651.3" cy="798.5" r="2.65"/><circle cx="658.4" cy="834.3" r="2.65"/><circle cx="650.2" cy="779.3" r="2.65"/><circle cx="643.3" cy="771.6" r="2.65"/><circle cx="640.7" cy="773.4" r="2.65"/><circle cx="653.0" cy="803.5" r="2.65"/><circle cx="652.4" cy="829.7" r="2.65"/><circle cx="658.3" cy="827.5" r="2.65"/><circle cx="646.1" cy="795.9" r="2.65"/><circle cx="653.8" cy="794.7" r="2.65"/><circle cx="647.9" cy="767.5" r="2.65"/><circle cx="652.9" cy="804.4" r="2.65"/><circle cx="654.4" cy="833.0" r="2.65"/><circle cx="642.9" cy="787.6" r="2.65"/><circle cx="648.3" cy="781.2" r="2.65"/><circle cx="648.8" cy="834.2" r="2.65"/><circle cx="645.5" cy="807.6" r="2.65"/><circle cx="651.5" cy="836.6" r="2.65"/><circle cx="654.7" cy="835.3" r="2.65"/><circle cx="653.3" cy="824.1" r="2.65"/><circle cx="651.5" cy="790.6" r="2.65"/><circle cx="650.5" cy="782.1" r="2.65"/><circle cx="651.4" cy="815.8" r="2.65"/><circle cx="647.1" cy="808.7" r="2.65"/><circle cx="656.9" cy="816.8" r="2.65"/><circle cx="655.2" cy="831.6" r="2.65"/><circle cx="651.6" cy="829.7" r="2.65"/><circle cx="647.7" cy="823.9" r="2.65"/><circle cx="648.2" cy="826.4" r="2.65"/><circle cx="652.3" cy="814.4" r="2.65"/><circle cx="643.3" cy="769.3" r="2.65"/><circle cx="646.0" cy="798.3" r="2.65"/><circle cx="646.8" cy="794.6" r="2.65"/><circle cx="643.8" cy="766.6" r="2.65"/><circle cx="643.2" cy="793.9" r="2.65"/><circle cx="659.2" cy="833.2" r="2.65"/><circle cx="696.9" cy="799.1" r="2.65"/><circle cx="701.0" cy="800.6" r="2.65"/><circle cx="695.0" cy="797.4" r="2.65"/><circle cx="696.4" cy="782.9" r="2.65"/><circle cx="699.3" cy="781.7" r="2.65"/><circle cx="700.7" cy="782.8" r="2.65"/><circle cx="697.1" cy="785.5" r="2.65"/><circle cx="697.1" cy="804.1" r="2.65"/><circle cx="696.7" cy="804.8" r="2.65"/><circle cx="695.0" cy="805.1" r="2.65"/><circle cx="695.0" cy="795.7" r="2.65"/><circle cx="700.7" cy="805.3" r="2.65"/><circle cx="699.2" cy="788.7" r="2.65"/><circle cx="697.1" cy="794.0" r="2.65"/><circle cx="798.6" cy="820.2" r="2.65"/><circle cx="840.0" cy="793.6" r="2.65"/><circle cx="842.7" cy="813.7" r="2.65"/><circle cx="843.5" cy="796.3" r="2.65"/><circle cx="836.4" cy="805.7" r="2.65"/><circle cx="842.1" cy="798.4" r="2.65"/><circle cx="837.7" cy="819.0" r="2.65"/><circle cx="841.0" cy="800.1" r="2.65"/><circle cx="837.9" cy="806.4" r="2.65"/><circle cx="842.8" cy="800.9" r="2.65"/><circle cx="836.6" cy="801.9" r="2.65"/><circle cx="837.0" cy="806.3" r="2.65"/><circle cx="845.3" cy="815.0" r="2.65"/><circle cx="839.6" cy="794.2" r="2.65"/><circle cx="837.9" cy="810.9" r="2.65"/><circle cx="838.9" cy="800.7" r="2.65"/><circle cx="847.3" cy="804.9" r="2.65"/><circle cx="840.4" cy="808.9" r="2.65"/><circle cx="843.8" cy="802.7" r="2.65"/><circle cx="840.7" cy="805.9" r="2.65"/><circle cx="840.1" cy="792.5" r="2.65"/><circle cx="837.7" cy="810.4" r="2.65"/><circle cx="845.9" cy="804.4" r="2.65"/><circle cx="845.2" cy="799.7" r="2.65"/><circle cx="848.7" cy="808.6" r="2.65"/><circle cx="840.4" cy="812.1" r="2.65"/><circle cx="843.8" cy="823.2" r="2.65"/><circle cx="845.9" cy="796.6" r="2.65"/><circle cx="838.9" cy="797.6" r="2.65"/><circle cx="839.6" cy="804.3" r="2.65"/><circle cx="840.2" cy="799.0" r="2.65"/><circle cx="845.6" cy="803.4" r="2.65"/><circle cx="838.3" cy="803.7" r="2.65"/><circle cx="843.0" cy="791.4" r="2.65"/><circle cx="839.1" cy="792.9" r="2.65"/><circle cx="844.6" cy="808.7" r="2.65"/><circle cx="841.8" cy="811.2" r="2.65"/><circle cx="844.1" cy="783.6" r="2.65"/><circle cx="836.3" cy="829.8" r="2.65"/><circle cx="869.5" cy="676.8" r="2.65"/><circle cx="870.8" cy="671.6" r="2.65"/><circle cx="873.0" cy="671.2" r="2.65"/><circle cx="872.6" cy="675.4" r="2.65"/><circle cx="873.6" cy="670.1" r="2.65"/><circle cx="871.4" cy="669.5" r="2.65"/><circle cx="869.5" cy="680.4" r="2.65"/><circle cx="870.1" cy="672.5" r="2.65"/><circle cx="868.8" cy="688.9" r="2.65"/><circle cx="869.7" cy="685.7" r="2.65"/><circle cx="869.2" cy="682.5" r="2.65"/><circle cx="867.2" cy="685.8" r="2.65"/><circle cx="869.8" cy="692.1" r="2.65"/><circle cx="868.6" cy="715.1" r="2.65"/><circle cx="868.1" cy="684.1" r="2.65"/><circle cx="867.3" cy="705.6" r="2.65"/><circle cx="870.1" cy="703.4" r="2.65"/><circle cx="869.0" cy="714.7" r="2.65"/><circle cx="871.9" cy="698.5" r="2.65"/><circle cx="870.2" cy="705.2" r="2.65"/><circle cx="874.5" cy="683.1" r="2.65"/><circle cx="873.3" cy="679.8" r="2.65"/><circle cx="894.1" cy="714.8" r="2.65"/><circle cx="897.3" cy="723.7" r="2.65"/><circle cx="890.0" cy="719.2" r="2.65"/><circle cx="896.6" cy="710.7" r="2.65"/><circle cx="899.0" cy="719.9" r="2.65"/><circle cx="891.6" cy="704.5" r="2.65"/><circle cx="888.0" cy="702.6" r="2.65"/><circle cx="887.8" cy="699.5" r="2.65"/><circle cx="890.4" cy="700.4" r="2.65"/><circle cx="898.4" cy="697.0" r="2.65"/><circle cx="896.1" cy="720.4" r="2.65"/><circle cx="880.9" cy="697.6" r="2.65"/><circle cx="899.3" cy="686.2" r="2.65"/><circle cx="912.0" cy="662.1" r="2.65"/><circle cx="899.9" cy="684.3" r="2.65"/><circle cx="935.0" cy="641.9" r="2.65"/><circle cx="932.6" cy="644.6" r="2.65"/><circle cx="934.0" cy="642.6" r="2.65"/><circle cx="932.8" cy="651.1" r="2.65"/><circle cx="935.3" cy="643.5" r="2.65"/><circle cx="934.8" cy="647.9" r="2.65"/><circle cx="929.1" cy="670.5" r="2.65"/><circle cx="932.4" cy="670.1" r="2.65"/><circle cx="927.0" cy="670.4" r="2.65"/><circle cx="928.8" cy="668.6" r="2.65"/><circle cx="925.3" cy="670.6" r="2.65"/><circle cx="935.3" cy="672.0" r="2.65"/><circle cx="926.1" cy="669.5" r="2.65"/><circle cx="932.2" cy="672.6" r="2.65"/><circle cx="929.4" cy="672.6" r="2.65"/><circle cx="934.8" cy="669.3" r="2.65"/><circle cx="925.0" cy="670.5" r="2.65"/><circle cx="928.7" cy="683.6" r="2.65"/><circle cx="928.6" cy="685.5" r="2.65"/><circle cx="924.0" cy="675.3" r="2.65"/><circle cx="921.0" cy="706.3" r="2.65"/><circle cx="923.2" cy="694.2" r="2.65"/><circle cx="923.2" cy="693.1" r="2.65"/><circle cx="917.9" cy="704.3" r="2.65"/><circle cx="918.1" cy="702.6" r="2.65"/><circle cx="922.3" cy="694.6" r="2.65"/><circle cx="923.6" cy="693.6" r="2.65"/><circle cx="924.3" cy="704.1" r="2.65"/>
</g>
<g fill="#e8e057">
<circle cx="741.3" cy="547.5" r="2.65"/><circle cx="748.9" cy="567.7" r="2.65"/><circle cx="738.0" cy="565.5" r="2.65"/><circle cx="744.1" cy="541.6" r="2.65"/><circle cx="741.5" cy="541.6" r="2.65"/><circle cx="747.3" cy="563.2" r="2.65"/><circle cx="749.8" cy="576.5" r="2.65"/><circle cx="749.5" cy="588.1" r="2.65"/><circle cx="766.4" cy="578.1" r="2.65"/><circle cx="766.1" cy="582.8" r="2.65"/><circle cx="764.4" cy="599.4" r="2.65"/><circle cx="835.1" cy="805.2" r="2.65"/><circle cx="875.2" cy="680.6" r="2.65"/><circle cx="875.9" cy="690.6" r="2.65"/><circle cx="874.7" cy="687.8" r="2.65"/><circle cx="874.5" cy="690.2" r="2.65"/><circle cx="876.2" cy="683.0" r="2.65"/><circle cx="876.4" cy="683.1" r="2.65"/><circle cx="897.3" cy="698.4" r="2.65"/><circle cx="891.3" cy="722.6" r="2.65"/><circle cx="890.8" cy="698.3" r="2.65"/><circle cx="893.1" cy="703.2" r="2.65"/><circle cx="890.0" cy="707.9" r="2.65"/><circle cx="886.8" cy="719.5" r="2.65"/><circle cx="891.1" cy="721.0" r="2.65"/><circle cx="888.7" cy="722.8" r="2.65"/><circle cx="901.0" cy="700.3" r="2.65"/><circle cx="899.2" cy="708.4" r="2.65"/><circle cx="893.6" cy="698.8" r="2.65"/><circle cx="887.4" cy="715.0" r="2.65"/><circle cx="896.3" cy="706.7" r="2.65"/><circle cx="900.1" cy="716.0" r="2.65"/><circle cx="894.0" cy="705.5" r="2.65"/><circle cx="899.6" cy="720.3" r="2.65"/><circle cx="898.0" cy="715.5" r="2.65"/><circle cx="891.2" cy="722.7" r="2.65"/><circle cx="898.9" cy="699.8" r="2.65"/><circle cx="890.1" cy="708.6" r="2.65"/><circle cx="894.7" cy="701.1" r="2.65"/><circle cx="891.3" cy="715.8" r="2.65"/><circle cx="892.0" cy="717.6" r="2.65"/><circle cx="888.6" cy="713.7" r="2.65"/><circle cx="890.1" cy="707.3" r="2.65"/><circle cx="889.0" cy="699.3" r="2.65"/><circle cx="896.4" cy="719.1" r="2.65"/><circle cx="884.2" cy="704.8" r="2.65"/><circle cx="883.5" cy="710.0" r="2.65"/><circle cx="880.0" cy="708.0" r="2.65"/><circle cx="882.2" cy="708.2" r="2.65"/><circle cx="885.5" cy="720.3" r="2.65"/><circle cx="877.0" cy="726.2" r="2.65"/><circle cx="875.8" cy="698.9" r="2.65"/><circle cx="909.2" cy="676.6" r="2.65"/><circle cx="912.1" cy="677.0" r="2.65"/><circle cx="908.1" cy="678.8" r="2.65"/><circle cx="906.0" cy="677.0" r="2.65"/><circle cx="906.5" cy="683.0" r="2.65"/><circle cx="901.8" cy="662.1" r="2.65"/><circle cx="911.3" cy="672.2" r="2.65"/><circle cx="908.8" cy="687.4" r="2.65"/><circle cx="912.0" cy="676.0" r="2.65"/><circle cx="931.0" cy="626.5" r="2.65"/><circle cx="930.4" cy="634.8" r="2.65"/><circle cx="934.2" cy="655.7" r="2.65"/><circle cx="934.2" cy="662.1" r="2.65"/><circle cx="927.8" cy="663.3" r="2.65"/><circle cx="927.8" cy="667.1" r="2.65"/><circle cx="931.6" cy="638.6" r="2.65"/><circle cx="922.0" cy="702.9" r="2.65"/><circle cx="923.9" cy="700.9" r="2.65"/><circle cx="919.4" cy="695.5" r="2.65"/><circle cx="922.2" cy="700.5" r="2.65"/><circle cx="922.1" cy="705.4" r="2.65"/><circle cx="921.5" cy="701.4" r="2.65"/><circle cx="920.8" cy="703.9" r="2.65"/><circle cx="922.1" cy="703.3" r="2.65"/>
</g>
<g fill="#f8a843">
<circle cx="762.7" cy="598.4" r="2.65"/><circle cx="887.2" cy="717.5" r="2.65"/><circle cx="882.0" cy="713.2" r="2.65"/><circle cx="883.8" cy="709.3" r="2.65"/><circle cx="883.3" cy="714.5" r="2.65"/><circle cx="880.9" cy="709.6" r="2.65"/><circle cx="880.3" cy="713.9" r="2.65"/><circle cx="880.9" cy="724.9" r="2.65"/><circle cx="884.3" cy="713.8" r="2.65"/><circle cx="885.4" cy="721.3" r="2.65"/><circle cx="880.3" cy="716.4" r="2.65"/><circle cx="883.6" cy="712.0" r="2.65"/><circle cx="878.1" cy="710.6" r="2.65"/><circle cx="877.9" cy="707.1" r="2.65"/><circle cx="885.0" cy="711.9" r="2.65"/><circle cx="887.0" cy="713.1" r="2.65"/><circle cx="879.6" cy="715.4" r="2.65"/><circle cx="883.8" cy="714.5" r="2.65"/><circle cx="882.7" cy="706.0" r="2.65"/><circle cx="881.4" cy="721.8" r="2.65"/><circle cx="878.9" cy="718.0" r="2.65"/><circle cx="887.7" cy="714.7" r="2.65"/><circle cx="875.6" cy="710.3" r="2.65"/><circle cx="886.5" cy="705.3" r="2.65"/><circle cx="884.4" cy="712.7" r="2.65"/><circle cx="882.0" cy="716.8" r="2.65"/><circle cx="884.7" cy="705.5" r="2.65"/><circle cx="879.0" cy="711.3" r="2.65"/><circle cx="886.8" cy="702.0" r="2.65"/><circle cx="879.5" cy="719.6" r="2.65"/><circle cx="885.1" cy="709.5" r="2.65"/><circle cx="883.1" cy="705.8" r="2.65"/><circle cx="887.9" cy="718.1" r="2.65"/><circle cx="890.0" cy="722.3" r="2.65"/><circle cx="883.8" cy="704.6" r="2.65"/><circle cx="883.3" cy="716.1" r="2.65"/><circle cx="882.6" cy="707.0" r="2.65"/><circle cx="884.9" cy="712.9" r="2.65"/><circle cx="885.2" cy="714.6" r="2.65"/><circle cx="878.6" cy="712.2" r="2.65"/><circle cx="882.7" cy="709.7" r="2.65"/><circle cx="881.3" cy="708.7" r="2.65"/><circle cx="905.5" cy="680.4" r="2.65"/><circle cx="901.1" cy="672.8" r="2.65"/><circle cx="901.9" cy="676.8" r="2.65"/><circle cx="908.7" cy="676.5" r="2.65"/><circle cx="904.4" cy="676.0" r="2.65"/><circle cx="908.3" cy="682.0" r="2.65"/><circle cx="904.7" cy="678.2" r="2.65"/><circle cx="908.2" cy="679.9" r="2.65"/><circle cx="901.5" cy="679.2" r="2.65"/><circle cx="904.9" cy="673.1" r="2.65"/><circle cx="911.1" cy="675.2" r="2.65"/><circle cx="909.7" cy="680.6" r="2.65"/><circle cx="904.8" cy="678.1" r="2.65"/><circle cx="900.0" cy="681.5" r="2.65"/><circle cx="905.5" cy="680.8" r="2.65"/><circle cx="904.8" cy="679.1" r="2.65"/><circle cx="905.5" cy="678.6" r="2.65"/><circle cx="907.8" cy="683.8" r="2.65"/><circle cx="901.9" cy="679.7" r="2.65"/><circle cx="901.8" cy="657.0" r="2.65"/><circle cx="901.8" cy="664.6" r="2.65"/><circle cx="900.5" cy="669.7" r="2.65"/><circle cx="928.5" cy="641.7" r="2.65"/><circle cx="928.5" cy="648.1" r="2.65"/><circle cx="927.6" cy="654.4" r="2.65"/>
</g>
<g fill="#f0672a">
<circle cx="879.6" cy="707.1" r="2.65"/><circle cx="881.5" cy="708.4" r="2.65"/><circle cx="883.4" cy="709.7" r="2.65"/><circle cx="880.6" cy="710.3" r="2.65"/><circle cx="884.0" cy="707.8" r="2.65"/><circle cx="903.1" cy="668.4" r="2.65"/><circle cx="902.4" cy="674.1" r="2.65"/><circle cx="904.3" cy="676.0" r="2.65"/><circle cx="906.9" cy="674.7" r="2.65"/><circle cx="908.1" cy="676.7" r="2.65"/><circle cx="903.7" cy="679.2" r="2.65"/><circle cx="905.2" cy="677.9" r="2.65"/>
</g>
</g>
<line x1="614.5" y1="778.2" x2="942.1" y2="778.2" stroke="#000" stroke-width="1.25"/>
<line x1="614.5" y1="696.3" x2="942.1" y2="696.3" stroke="#000" stroke-width="1.25"/>
<line x1="614.5" y1="614.4" x2="942.1" y2="614.4" stroke="#000" stroke-width="1.25"/>
<rect x="614.5" y="532.5" width="327.6" height="327.6" fill="none" stroke="#000" stroke-width="1.45"/>
<line x1="614.5" y1="860.1" x2="614.5" y2="868.6" stroke="#000" stroke-width="1.1"/>
<line x1="614.5" y1="532.5" x2="614.5" y2="524" stroke="#000" stroke-width="1.1"/>
<text x="614.5" y="890.5" font-size="15" text-anchor="middle" fill="#000">15/23</text>
<line x1="661.3" y1="860.1" x2="661.3" y2="868.6" stroke="#000" stroke-width="1.1"/>
<line x1="661.3" y1="532.5" x2="661.3" y2="524" stroke="#000" stroke-width="1.1"/>
<text x="661.3" y="890.5" font-size="15" text-anchor="middle" fill="#000">16/23</text>
<line x1="708.1" y1="860.1" x2="708.1" y2="868.6" stroke="#000" stroke-width="1.1"/>
<line x1="708.1" y1="532.5" x2="708.1" y2="524" stroke="#000" stroke-width="1.1"/>
<text x="708.1" y="890.5" font-size="15" text-anchor="middle" fill="#000">17/23</text>
<line x1="754.9" y1="860.1" x2="754.9" y2="868.6" stroke="#000" stroke-width="1.1"/>
<line x1="754.9" y1="532.5" x2="754.9" y2="524" stroke="#000" stroke-width="1.1"/>
<text x="754.9" y="890.5" font-size="15" text-anchor="middle" fill="#000">18/23</text>
<line x1="801.7" y1="860.1" x2="801.7" y2="868.6" stroke="#000" stroke-width="1.1"/>
<line x1="801.7" y1="532.5" x2="801.7" y2="524" stroke="#000" stroke-width="1.1"/>
<text x="801.7" y="890.5" font-size="15" text-anchor="middle" fill="#000">19/23</text>
<line x1="848.5" y1="860.1" x2="848.5" y2="868.6" stroke="#000" stroke-width="1.1"/>
<line x1="848.5" y1="532.5" x2="848.5" y2="524" stroke="#000" stroke-width="1.1"/>
<text x="848.5" y="890.5" font-size="15" text-anchor="middle" fill="#000">20/23</text>
<line x1="895.3" y1="860.1" x2="895.3" y2="868.6" stroke="#000" stroke-width="1.1"/>
<line x1="895.3" y1="532.5" x2="895.3" y2="524" stroke="#000" stroke-width="1.1"/>
<text x="895.3" y="890.5" font-size="15" text-anchor="middle" fill="#000">21/23</text>
<line x1="942.1" y1="860.1" x2="942.1" y2="868.6" stroke="#000" stroke-width="1.1"/>
<line x1="942.1" y1="532.5" x2="942.1" y2="524" stroke="#000" stroke-width="1.1"/>
<text x="942.1" y="890.5" font-size="15" text-anchor="middle" fill="#000">22/23</text>
<text x="778.7" y="919" font-size="21.1" text-anchor="middle" fill="#000">Time (Day/UTC)</text>
<line x1="606" y1="860.1" x2="614.5" y2="860.1" stroke="#000" stroke-width="1.1"/>
<text x="595.9" y="865.5" font-size="15" text-anchor="end" fill="#000">North</text>
<line x1="606" y1="778.2" x2="614.5" y2="778.2" stroke="#000" stroke-width="1.1"/>
<text x="595.9" y="783.6" font-size="15" text-anchor="end" fill="#000">East</text>
<line x1="606" y1="696.3" x2="614.5" y2="696.3" stroke="#000" stroke-width="1.1"/>
<text x="595.9" y="701.7" font-size="15" text-anchor="end" fill="#000">South</text>
<line x1="606" y1="614.4" x2="614.5" y2="614.4" stroke="#000" stroke-width="1.1"/>
<text x="595.9" y="619.8" font-size="15" text-anchor="end" fill="#000">West</text>
<line x1="606" y1="532.5" x2="614.5" y2="532.5" stroke="#000" stroke-width="1.1"/>
<text x="595.9" y="537.9" font-size="15" text-anchor="end" fill="#000">North</text>
<line x1="942.1" y1="860.1" x2="950.6" y2="860.1" stroke="#000" stroke-width="1.1"/>
<line x1="942.1" y1="778.2" x2="950.6" y2="778.2" stroke="#000" stroke-width="1.1"/>
<line x1="942.1" y1="696.3" x2="950.6" y2="696.3" stroke="#000" stroke-width="1.1"/>
<line x1="942.1" y1="614.4" x2="950.6" y2="614.4" stroke="#000" stroke-width="1.1"/>
<line x1="942.1" y1="532.5" x2="950.6" y2="532.5" stroke="#000" stroke-width="1.1"/>
<rect x="953.1" y="594" width="29.7" height="20.72" fill="#8e161c"/>
<text x="1007.6" y="610.21" font-size="16.8" text-anchor="middle" fill="#000">20+</text>
<rect x="953.1" y="614.42" width="29.7" height="20.72" fill="#bb1b26"/>
<text x="1007.6" y="630.63" font-size="16.8" text-anchor="middle" fill="#000">18</text>
<rect x="953.1" y="634.84" width="29.7" height="20.72" fill="#dc3429"/>
<text x="1007.6" y="651.05" font-size="16.8" text-anchor="middle" fill="#000">16</text>
<rect x="953.1" y="655.26" width="29.7" height="20.72" fill="#f0672a"/>
<text x="1007.6" y="671.47" font-size="16.8" text-anchor="middle" fill="#000">14</text>
<rect x="953.1" y="675.68" width="29.7" height="20.72" fill="#f8a843"/>
<text x="1007.6" y="691.89" font-size="16.8" text-anchor="middle" fill="#000">12</text>
<rect x="953.1" y="696.1" width="29.7" height="20.72" fill="#e8e057"/>
<text x="1007.6" y="712.31" font-size="16.8" text-anchor="middle" fill="#000">10</text>
<rect x="953.1" y="716.52" width="29.7" height="20.72" fill="#7ac143"/>
<text x="1007.6" y="732.73" font-size="16.8" text-anchor="middle" fill="#000">8</text>
<rect x="953.1" y="736.94" width="29.7" height="20.72" fill="#48a56f"/>
<text x="1007.6" y="753.15" font-size="16.8" text-anchor="middle" fill="#000">6</text>
<rect x="953.1" y="757.36" width="29.7" height="20.72" fill="#468cc8"/>
<text x="1007.6" y="773.57" font-size="16.8" text-anchor="middle" fill="#000">4</text>
<rect x="953.1" y="777.78" width="29.7" height="20.72" fill="#78b5e2"/>
<text x="1007.6" y="793.99" font-size="16.8" text-anchor="middle" fill="#000">2</text>
<rect x="953.1" y="798.2" width="29.7" height="20.72" fill="#b5e2f8"/>
<text x="1007.6" y="814.41" font-size="16.8" text-anchor="middle" fill="#000">0</text>
<text x="1007.6" y="587.6" font-size="16.8" text-anchor="middle" fill="#000">mph</text>
</g>
<g id="txt">
<text x="266.9" y="50.5" font-size="25.3" text-anchor="middle" fill="#000">Temperature (F)</text>
<text x="778.6" y="50.6" font-size="25.2" text-anchor="middle" fill="#000">Winds (mph) &amp; Pressure (mb)</text>
<text x="266.3" y="511.4" font-size="25.25" text-anchor="middle" fill="#000">Relative Humidity (%) &amp; Precipitation (in)</text>
<text x="779.7" y="505.6" font-size="25.2" text-anchor="middle" fill="#000">Wind Direction</text>
<text x="54.2" y="235.6" font-size="17.05" text-anchor="middle" fill="#000" transform="rotate(-90 54.2 235.6)">2m &amp; 9m T (Red, Orange) &amp; 2m Td (Green)</text>
<text x="496.8" y="235" font-size="17" text-anchor="middle" fill="#000" transform="rotate(-90 496.8 235)">Solar Insolation (Yellow)</text>
<text x="563.2" y="234.4" font-size="21" text-anchor="middle" fill="#000" transform="rotate(-90 563.2 234.4)">Sonic Wind &amp; Gust (Blue, Black)</text>
<text x="1014.2" y="235.3" font-size="21.05" text-anchor="middle" fill="#000" transform="rotate(-90 1014.2 235.3)">Station Pressure (Maroon)</text>
<text x="45.8" y="696.1" font-size="21.3" text-anchor="middle" fill="#000" transform="rotate(-90 45.8 696.1)">Percent &amp; Total Rainfall</text>
<text x="540.8" y="695.3" font-size="21.1" text-anchor="middle" fill="#000" transform="rotate(-90 540.8 695.3)">Direction (Colored By Speed)</text>
<text x="29.6" y="937.6" font-size="16.9" text-anchor="start" fill="#000">Location: South Bristol</text>
<text x="29.6" y="957.48" font-size="16.9" text-anchor="start" fill="#000">Station elevation: 349.64 m</text>
<text x="29.6" y="977.36" font-size="16.9" text-anchor="start" fill="#000">Station lat/lon: 42.7522; -77.3593</text>
<text x="29.6" y="997.24" font-size="16.9" text-anchor="start" fill="#000">Figure created on Mon, 2025-09-22, at 23:25 UTC</text>
<text x="29.6" y="1017.12" font-size="16.9" text-anchor="start" fill="#000">Most recent data timestamp: 2025/09/22 23:15:00</text>
<text x="973.6" y="951.8" font-size="19.7" text-anchor="end" fill="#000">Extremes For Past 7 Days</text>
<text x="973.9" y="977.7" font-size="19.88" text-anchor="end" fill="#000">(High/Low/Max Wind/Total Precipitation)</text>
<text x="973.4" y="1004.6" font-size="19.65" text-anchor="end" fill="#c4202e" font-weight="bold">80.2/42.4/14.5/0.06</text>
</g>
</svg>
</body></html>
